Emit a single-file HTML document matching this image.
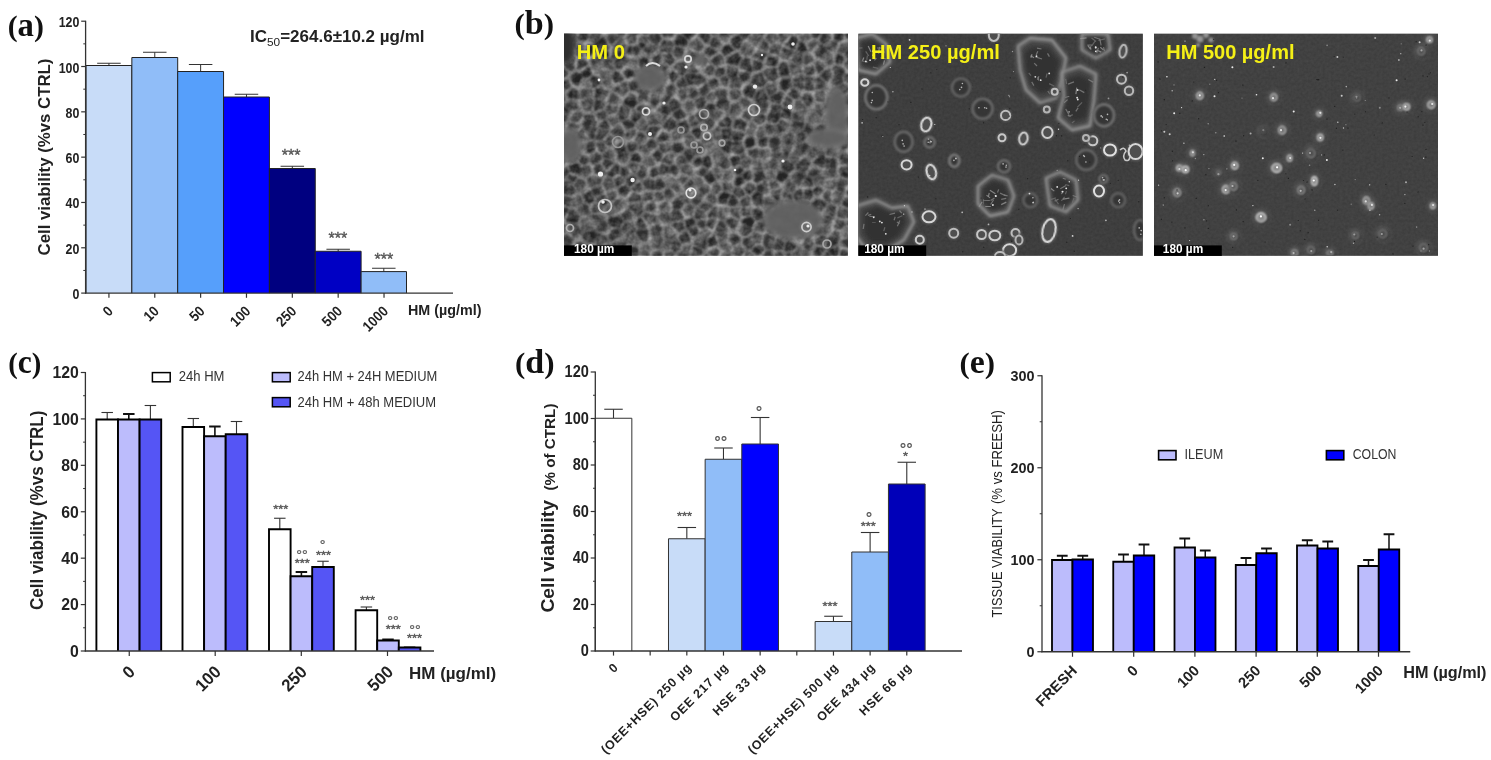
<!DOCTYPE html>
<html lang="en"><head><meta charset="utf-8"><title>Figure</title>
<style>
html,body{margin:0;padding:0;background:#fff;}
body{width:1491px;height:760px;overflow:hidden;}
svg{display:block;}
text{white-space:pre;}
</style></head><body>
<svg width="1491" height="760" viewBox="0 0 1491 760">
<rect width="1491" height="760" fill="#ffffff"/>
<text transform="translate(7.7 35.5) scale(0.9922 1)" font-family='"Liberation Serif", "DejaVu Serif", serif' font-weight="bold" fill="#111" font-size="30">(<tspan font-size="33">a</tspan>)</text>
<text transform="translate(514.4 33.6) scale(1.0330 1)" font-family='"Liberation Serif", "DejaVu Serif", serif' font-weight="bold" fill="#111" font-size="30">(<tspan font-size="33">b</tspan>)</text>
<text transform="translate(8.3 373) scale(0.9558 1)" font-family='"Liberation Serif", "DejaVu Serif", serif' font-weight="bold" fill="#111" font-size="30">(<tspan font-size="33">c</tspan>)</text>
<text transform="translate(515 373) scale(1.0304 1)" font-family='"Liberation Serif", "DejaVu Serif", serif' font-weight="bold" fill="#111" font-size="30">(<tspan font-size="33">d</tspan>)</text>
<text transform="translate(959.5 373) scale(1.0251 1)" font-family='"Liberation Serif", "DejaVu Serif", serif' font-weight="bold" fill="#111" font-size="30">(<tspan font-size="33">e</tspan>)</text>
<line x1="108.925" y1="65.5" x2="108.925" y2="63.25" stroke="#333" stroke-width="1"/>
<line x1="97.175" y1="63.25" x2="120.675" y2="63.25" stroke="#333" stroke-width="1"/>
<path d="M86.00 293.1V65.5H131.85V293.1" fill="#c8dcf8" stroke="#222" stroke-width="1" stroke-linejoin="miter"/>
<line x1="154.77499999999998" y1="57.5" x2="154.77499999999998" y2="52.25" stroke="#333" stroke-width="1"/>
<line x1="143.02499999999998" y1="52.25" x2="166.52499999999998" y2="52.25" stroke="#333" stroke-width="1"/>
<path d="M131.85 293.1V57.5H177.70V293.1" fill="#90bdf8" stroke="#222" stroke-width="1" stroke-linejoin="miter"/>
<line x1="200.625" y1="71.5" x2="200.625" y2="64.5" stroke="#333" stroke-width="1"/>
<line x1="188.875" y1="64.5" x2="212.375" y2="64.5" stroke="#333" stroke-width="1"/>
<path d="M177.70 293.1V71.5H223.55V293.1" fill="#569ffb" stroke="#222" stroke-width="1" stroke-linejoin="miter"/>
<line x1="246.475" y1="97" x2="246.475" y2="94.25" stroke="#333" stroke-width="1"/>
<line x1="234.725" y1="94.25" x2="258.225" y2="94.25" stroke="#333" stroke-width="1"/>
<path d="M223.55 293.1V97H269.40V293.1" fill="#0000ff" stroke="#222" stroke-width="1" stroke-linejoin="miter"/>
<line x1="292.325" y1="168.5" x2="292.325" y2="166.25" stroke="#333" stroke-width="1"/>
<line x1="280.575" y1="166.25" x2="304.075" y2="166.25" stroke="#333" stroke-width="1"/>
<path d="M269.40 293.1V168.5H315.25V293.1" fill="#000080" stroke="#222" stroke-width="1" stroke-linejoin="miter"/>
<line x1="338.175" y1="251.25" x2="338.175" y2="249.25" stroke="#333" stroke-width="1"/>
<line x1="326.425" y1="249.25" x2="349.925" y2="249.25" stroke="#333" stroke-width="1"/>
<path d="M315.25 293.1V251.25H361.10V293.1" fill="#0000c4" stroke="#222" stroke-width="1" stroke-linejoin="miter"/>
<line x1="383.8" y1="271.6" x2="383.8" y2="268.25" stroke="#333" stroke-width="1"/>
<line x1="372.05" y1="268.25" x2="395.55" y2="268.25" stroke="#333" stroke-width="1"/>
<path d="M361.10 293.1V271.6H406.50V293.1" fill="#90bdf8" stroke="#222" stroke-width="1" stroke-linejoin="miter"/>
<line x1="85.6" y1="20.7" x2="85.6" y2="293.70000000000005" stroke="#333" stroke-width="1.3"/>
<line x1="85.0" y1="293.1" x2="453" y2="293.1" stroke="#333" stroke-width="1.3"/>
<line x1="81.19999999999999" y1="293.1" x2="85.6" y2="293.1" stroke="#333" stroke-width="1.2"/>
<text transform="translate(79.39999999999999 299.1) scale(0.8990 1)" font-size="13.8" font-weight="bold" fill="#222" font-family='"Liberation Sans", Arial, sans-serif' text-anchor="end" >0</text>
<line x1="83.3" y1="270.44166666666666" x2="85.6" y2="270.44166666666666" stroke="#333" stroke-width="1"/>
<line x1="81.19999999999999" y1="247.78333333333336" x2="85.6" y2="247.78333333333336" stroke="#333" stroke-width="1.2"/>
<text transform="translate(79.39999999999999 253.78333333333336) scale(0.8990 1)" font-size="13.8" font-weight="bold" fill="#222" font-family='"Liberation Sans", Arial, sans-serif' text-anchor="end" >20</text>
<line x1="83.3" y1="225.125" x2="85.6" y2="225.125" stroke="#333" stroke-width="1"/>
<line x1="81.19999999999999" y1="202.4666666666667" x2="85.6" y2="202.4666666666667" stroke="#333" stroke-width="1.2"/>
<text transform="translate(79.39999999999999 208.4666666666667) scale(0.8990 1)" font-size="13.8" font-weight="bold" fill="#222" font-family='"Liberation Sans", Arial, sans-serif' text-anchor="end" >40</text>
<line x1="83.3" y1="179.80833333333334" x2="85.6" y2="179.80833333333334" stroke="#333" stroke-width="1"/>
<line x1="81.19999999999999" y1="157.15" x2="85.6" y2="157.15" stroke="#333" stroke-width="1.2"/>
<text transform="translate(79.39999999999999 163.15) scale(0.8990 1)" font-size="13.8" font-weight="bold" fill="#222" font-family='"Liberation Sans", Arial, sans-serif' text-anchor="end" >60</text>
<line x1="83.3" y1="134.49166666666667" x2="85.6" y2="134.49166666666667" stroke="#333" stroke-width="1"/>
<line x1="81.19999999999999" y1="111.83333333333334" x2="85.6" y2="111.83333333333334" stroke="#333" stroke-width="1.2"/>
<text transform="translate(79.39999999999999 117.83333333333334) scale(0.8990 1)" font-size="13.8" font-weight="bold" fill="#222" font-family='"Liberation Sans", Arial, sans-serif' text-anchor="end" >80</text>
<line x1="83.3" y1="89.17500000000001" x2="85.6" y2="89.17500000000001" stroke="#333" stroke-width="1"/>
<line x1="81.19999999999999" y1="66.51666666666665" x2="85.6" y2="66.51666666666665" stroke="#333" stroke-width="1.2"/>
<text transform="translate(79.39999999999999 72.51666666666665) scale(0.8990 1)" font-size="13.8" font-weight="bold" fill="#222" font-family='"Liberation Sans", Arial, sans-serif' text-anchor="end" >100</text>
<line x1="83.3" y1="43.85833333333332" x2="85.6" y2="43.85833333333332" stroke="#333" stroke-width="1"/>
<line x1="81.19999999999999" y1="21.19999999999999" x2="85.6" y2="21.19999999999999" stroke="#333" stroke-width="1.2"/>
<text transform="translate(79.39999999999999 27.19999999999999) scale(0.8990 1)" font-size="13.8" font-weight="bold" fill="#222" font-family='"Liberation Sans", Arial, sans-serif' text-anchor="end" >120</text>
<line x1="108.925" y1="293.1" x2="108.925" y2="297.8" stroke="#333" stroke-width="1.2"/>
<text transform="translate(113.925 312.1) rotate(-45) scale(0.8928 1)" font-size="14.6" font-weight="bold" fill="#222" font-family='"Liberation Sans", Arial, sans-serif' text-anchor="end" >0</text>
<line x1="154.775" y1="293.1" x2="154.775" y2="297.8" stroke="#333" stroke-width="1.2"/>
<text transform="translate(159.775 312.1) rotate(-45) scale(0.8928 1)" font-size="14.6" font-weight="bold" fill="#222" font-family='"Liberation Sans", Arial, sans-serif' text-anchor="end" >10</text>
<line x1="200.625" y1="293.1" x2="200.625" y2="297.8" stroke="#333" stroke-width="1.2"/>
<text transform="translate(205.625 312.1) rotate(-45) scale(0.8928 1)" font-size="14.6" font-weight="bold" fill="#222" font-family='"Liberation Sans", Arial, sans-serif' text-anchor="end" >50</text>
<line x1="246.475" y1="293.1" x2="246.475" y2="297.8" stroke="#333" stroke-width="1.2"/>
<text transform="translate(251.475 312.1) rotate(-45) scale(0.8928 1)" font-size="14.6" font-weight="bold" fill="#222" font-family='"Liberation Sans", Arial, sans-serif' text-anchor="end" >100</text>
<line x1="292.32500000000005" y1="293.1" x2="292.32500000000005" y2="297.8" stroke="#333" stroke-width="1.2"/>
<text transform="translate(297.32500000000005 312.1) rotate(-45) scale(0.8928 1)" font-size="14.6" font-weight="bold" fill="#222" font-family='"Liberation Sans", Arial, sans-serif' text-anchor="end" >250</text>
<line x1="338.175" y1="293.1" x2="338.175" y2="297.8" stroke="#333" stroke-width="1.2"/>
<text transform="translate(343.175 312.1) rotate(-45) scale(0.8928 1)" font-size="14.6" font-weight="bold" fill="#222" font-family='"Liberation Sans", Arial, sans-serif' text-anchor="end" >500</text>
<line x1="384.02500000000003" y1="293.1" x2="384.02500000000003" y2="297.8" stroke="#333" stroke-width="1.2"/>
<text transform="translate(389.02500000000003 312.1) rotate(-45) scale(0.8928 1)" font-size="14.6" font-weight="bold" fill="#222" font-family='"Liberation Sans", Arial, sans-serif' text-anchor="end" >1000</text>
<text transform="translate(408 315) scale(0.9550 1)" font-size="15" font-weight="bold" fill="#222" font-family='"Liberation Sans", Arial, sans-serif' >HM (µg/ml)</text>
<text transform="translate(50.4 255.5) rotate(-90) scale(1.0193 1)" font-size="16.5" font-weight="bold" fill="#222" font-family='"Liberation Sans", Arial, sans-serif' >Cell viability (%vs CTRL)</text>
<text x="250" y="42" font-size="16.5" font-weight="bold" fill="#222" font-family='"Liberation Sans", Arial, sans-serif' textLength="174.5" lengthAdjust="spacingAndGlyphs">IC<tspan font-size="11.5" font-weight="normal" dy="3.5">50</tspan><tspan dy="-3.5">=264.6±10.2 µg/ml</tspan></text>
<text transform="translate(291.1 161.46) scale(1.0070 1)" font-size="16" font-weight="normal" fill="#555" font-family='"Liberation Sans", Arial, sans-serif' text-anchor="middle" stroke="#555" stroke-width="0.35">***</text>
<text transform="translate(337.9 243.96) scale(1.0070 1)" font-size="16" font-weight="normal" fill="#555" font-family='"Liberation Sans", Arial, sans-serif' text-anchor="middle" stroke="#555" stroke-width="0.35">***</text>
<text transform="translate(383.8 264.56) scale(1.0070 1)" font-size="16" font-weight="normal" fill="#555" font-family='"Liberation Sans", Arial, sans-serif' text-anchor="middle" stroke="#555" stroke-width="0.35">***</text>
<line x1="107.2" y1="419.5" x2="107.2" y2="412.5" stroke="#333" stroke-width="1.1"/>
<line x1="101.45" y1="412.5" x2="112.95" y2="412.5" stroke="#333" stroke-width="1.1"/>
<path d="M96.40 651V419.5H118.00V651" fill="#ffffff" stroke="#000" stroke-width="1.9" stroke-linejoin="miter"/>
<line x1="128.8" y1="419.5" x2="128.8" y2="414" stroke="#111" stroke-width="1.6"/>
<line x1="123.05000000000001" y1="414" x2="134.55" y2="414" stroke="#111" stroke-width="2.0"/>
<path d="M118.00 651V419.5H139.60V651" fill="#bcbcfc" stroke="#000" stroke-width="1.9" stroke-linejoin="miter"/>
<line x1="150.40000000000003" y1="419.5" x2="150.40000000000003" y2="405.5" stroke="#333" stroke-width="1.1"/>
<line x1="144.65000000000003" y1="405.5" x2="156.15000000000003" y2="405.5" stroke="#333" stroke-width="1.1"/>
<path d="M139.60 651V419.5H161.20V651" fill="#5555f5" stroke="#000" stroke-width="1.9" stroke-linejoin="miter"/>
<line x1="193.3" y1="427" x2="193.3" y2="418.5" stroke="#333" stroke-width="1.1"/>
<line x1="187.55" y1="418.5" x2="199.05" y2="418.5" stroke="#333" stroke-width="1.1"/>
<path d="M182.50 651V427H204.10V651" fill="#ffffff" stroke="#000" stroke-width="1.9" stroke-linejoin="miter"/>
<line x1="214.9" y1="436.25" x2="214.9" y2="426.5" stroke="#111" stroke-width="1.6"/>
<line x1="209.15" y1="426.5" x2="220.65" y2="426.5" stroke="#111" stroke-width="2.0"/>
<path d="M204.10 651V436.25H225.70V651" fill="#bcbcfc" stroke="#000" stroke-width="1.9" stroke-linejoin="miter"/>
<line x1="236.5" y1="434.25" x2="236.5" y2="421.5" stroke="#333" stroke-width="1.1"/>
<line x1="230.75" y1="421.5" x2="242.25" y2="421.5" stroke="#333" stroke-width="1.1"/>
<path d="M225.70 651V434.25H247.30V651" fill="#5555f5" stroke="#000" stroke-width="1.9" stroke-linejoin="miter"/>
<line x1="279.8" y1="529.25" x2="279.8" y2="518.25" stroke="#333" stroke-width="1.1"/>
<line x1="274.05" y1="518.25" x2="285.55" y2="518.25" stroke="#333" stroke-width="1.1"/>
<path d="M269.00 651V529.25H290.60V651" fill="#ffffff" stroke="#000" stroke-width="1.9" stroke-linejoin="miter"/>
<line x1="301.40000000000003" y1="576.25" x2="301.40000000000003" y2="572" stroke="#111" stroke-width="1.6"/>
<line x1="295.65000000000003" y1="572" x2="307.15000000000003" y2="572" stroke="#111" stroke-width="2.0"/>
<path d="M290.60 651V576.25H312.20V651" fill="#bcbcfc" stroke="#000" stroke-width="1.9" stroke-linejoin="miter"/>
<line x1="323.0" y1="567" x2="323.0" y2="561.25" stroke="#333" stroke-width="1.1"/>
<line x1="317.25" y1="561.25" x2="328.75" y2="561.25" stroke="#333" stroke-width="1.1"/>
<path d="M312.20 651V567H333.80V651" fill="#5555f5" stroke="#000" stroke-width="1.9" stroke-linejoin="miter"/>
<line x1="366.40000000000003" y1="610.25" x2="366.40000000000003" y2="607" stroke="#333" stroke-width="1.1"/>
<line x1="360.65000000000003" y1="607" x2="372.15000000000003" y2="607" stroke="#333" stroke-width="1.1"/>
<path d="M355.60 651V610.25H377.20V651" fill="#ffffff" stroke="#000" stroke-width="1.9" stroke-linejoin="miter"/>
<line x1="388.00000000000006" y1="640.5" x2="388.00000000000006" y2="639.5" stroke="#111" stroke-width="1.6"/>
<line x1="382.25000000000006" y1="639.5" x2="393.75000000000006" y2="639.5" stroke="#111" stroke-width="2.0"/>
<path d="M377.20 651V640.5H398.80V651" fill="#bcbcfc" stroke="#000" stroke-width="1.9" stroke-linejoin="miter"/>
<line x1="409.6" y1="647.5" x2="409.6" y2="647" stroke="#333" stroke-width="1.1"/>
<line x1="403.85" y1="647" x2="415.35" y2="647" stroke="#333" stroke-width="1.1"/>
<path d="M398.80 651V647.5H420.40V651" fill="#5555f5" stroke="#000" stroke-width="1.9" stroke-linejoin="miter"/>
<line x1="85.4" y1="372.0" x2="85.4" y2="651.6" stroke="#333" stroke-width="1.3"/>
<line x1="84.80000000000001" y1="651" x2="434" y2="651" stroke="#333" stroke-width="1.3"/>
<line x1="80.80000000000001" y1="651.0" x2="85.4" y2="651.0" stroke="#333" stroke-width="1.2"/>
<text transform="translate(78.80000000000001 656.8) scale(0.9700 1)" font-size="16.3" font-weight="bold" fill="#222" font-family='"Liberation Sans", Arial, sans-serif' text-anchor="end" >0</text>
<line x1="83.10000000000001" y1="627.7916666666666" x2="85.4" y2="627.7916666666666" stroke="#333" stroke-width="1"/>
<line x1="80.80000000000001" y1="604.5833333333334" x2="85.4" y2="604.5833333333334" stroke="#333" stroke-width="1.2"/>
<text transform="translate(78.80000000000001 610.3833333333333) scale(0.9700 1)" font-size="16.3" font-weight="bold" fill="#222" font-family='"Liberation Sans", Arial, sans-serif' text-anchor="end" >20</text>
<line x1="83.10000000000001" y1="581.375" x2="85.4" y2="581.375" stroke="#333" stroke-width="1"/>
<line x1="80.80000000000001" y1="558.1666666666666" x2="85.4" y2="558.1666666666666" stroke="#333" stroke-width="1.2"/>
<text transform="translate(78.80000000000001 563.9666666666666) scale(0.9700 1)" font-size="16.3" font-weight="bold" fill="#222" font-family='"Liberation Sans", Arial, sans-serif' text-anchor="end" >40</text>
<line x1="83.10000000000001" y1="534.9583333333334" x2="85.4" y2="534.9583333333334" stroke="#333" stroke-width="1"/>
<line x1="80.80000000000001" y1="511.75" x2="85.4" y2="511.75" stroke="#333" stroke-width="1.2"/>
<text transform="translate(78.80000000000001 517.55) scale(0.9700 1)" font-size="16.3" font-weight="bold" fill="#222" font-family='"Liberation Sans", Arial, sans-serif' text-anchor="end" >60</text>
<line x1="83.10000000000001" y1="488.54166666666663" x2="85.4" y2="488.54166666666663" stroke="#333" stroke-width="1"/>
<line x1="80.80000000000001" y1="465.33333333333337" x2="85.4" y2="465.33333333333337" stroke="#333" stroke-width="1.2"/>
<text transform="translate(78.80000000000001 471.1333333333334) scale(0.9700 1)" font-size="16.3" font-weight="bold" fill="#222" font-family='"Liberation Sans", Arial, sans-serif' text-anchor="end" >80</text>
<line x1="83.10000000000001" y1="442.125" x2="85.4" y2="442.125" stroke="#333" stroke-width="1"/>
<line x1="80.80000000000001" y1="418.91666666666663" x2="85.4" y2="418.91666666666663" stroke="#333" stroke-width="1.2"/>
<text transform="translate(78.80000000000001 424.71666666666664) scale(0.9700 1)" font-size="16.3" font-weight="bold" fill="#222" font-family='"Liberation Sans", Arial, sans-serif' text-anchor="end" >100</text>
<line x1="83.10000000000001" y1="395.70833333333337" x2="85.4" y2="395.70833333333337" stroke="#333" stroke-width="1"/>
<line x1="80.80000000000001" y1="372.5" x2="85.4" y2="372.5" stroke="#333" stroke-width="1.2"/>
<text transform="translate(78.80000000000001 378.3) scale(0.9700 1)" font-size="16.3" font-weight="bold" fill="#222" font-family='"Liberation Sans", Arial, sans-serif' text-anchor="end" >120</text>
<line x1="129.25" y1="651" x2="129.25" y2="656" stroke="#333" stroke-width="1.2"/>
<text transform="translate(136.05 672.8) rotate(-45) scale(0.9666 1)" font-size="17.3" font-weight="bold" fill="#222" font-family='"Liberation Sans", Arial, sans-serif' text-anchor="end" >0</text>
<line x1="215.2" y1="651" x2="215.2" y2="656" stroke="#333" stroke-width="1.2"/>
<text transform="translate(222.0 672.8) rotate(-45) scale(0.9666 1)" font-size="17.3" font-weight="bold" fill="#222" font-family='"Liberation Sans", Arial, sans-serif' text-anchor="end" >100</text>
<line x1="301.3" y1="651" x2="301.3" y2="656" stroke="#333" stroke-width="1.2"/>
<text transform="translate(308.1 672.8) rotate(-45) scale(0.9666 1)" font-size="17.3" font-weight="bold" fill="#222" font-family='"Liberation Sans", Arial, sans-serif' text-anchor="end" >250</text>
<line x1="387.5" y1="651" x2="387.5" y2="656" stroke="#333" stroke-width="1.2"/>
<text transform="translate(394.3 672.8) rotate(-45) scale(0.9666 1)" font-size="17.3" font-weight="bold" fill="#222" font-family='"Liberation Sans", Arial, sans-serif' text-anchor="end" >500</text>
<text transform="translate(409 678.9) scale(1.0244 1)" font-size="16.6" font-weight="bold" fill="#222" font-family='"Liberation Sans", Arial, sans-serif' >HM (µg/ml)</text>
<text transform="translate(43.4 610) rotate(-90) scale(0.9718 1)" font-size="17.5" font-weight="bold" fill="#222" font-family='"Liberation Sans", Arial, sans-serif' >Cell viability (%vs CTRL)</text>
<rect x="152.4" y="372.6" width="17.8" height="9.2" fill="#ffffff" stroke="#000" stroke-width="1.5"/>
<text transform="translate(178.75 381.4) scale(0.9333 1)" font-size="14" font-weight="normal" fill="#333" font-family='"Liberation Sans", Arial, sans-serif' >24h HM</text>
<rect x="272.4" y="372.6" width="17.8" height="9.2" fill="#bcbcfc" stroke="#000" stroke-width="1.5"/>
<text transform="translate(297.5 381.4) scale(0.9252 1)" font-size="14" font-weight="normal" fill="#333" font-family='"Liberation Sans", Arial, sans-serif' >24h HM + 24H MEDIUM</text>
<rect x="272.4" y="397.6" width="17.8" height="9.2" fill="#5555f5" stroke="#000" stroke-width="1.5"/>
<text transform="translate(297.5 406.6) scale(0.9312 1)" font-size="14" font-weight="normal" fill="#333" font-family='"Liberation Sans", Arial, sans-serif' >24h HM + 48h MEDIUM</text>
<text transform="translate(280.75 513.385) scale(1.1681 1)" font-size="11" font-weight="normal" fill="#555" font-family='"Liberation Sans", Arial, sans-serif' text-anchor="middle" stroke="#555" stroke-width="0.35">***</text>
<text transform="translate(296.26 559.65)" font-size="14.4" font-weight="normal" fill="#555" font-family='"Liberation Sans", Arial, sans-serif' letter-spacing="0.04" stroke="#555" stroke-width="0.25">°°</text>
<text transform="translate(302.2 567.135) scale(1.1681 1)" font-size="11" font-weight="normal" fill="#555" font-family='"Liberation Sans", Arial, sans-serif' text-anchor="middle" stroke="#555" stroke-width="0.35">***</text>
<text transform="translate(319.66 550.15)" font-size="14.4" font-weight="normal" fill="#555" font-family='"Liberation Sans", Arial, sans-serif' letter-spacing="0.04" stroke="#555" stroke-width="0.25">°</text>
<text transform="translate(323.5 559.135) scale(1.1681 1)" font-size="11" font-weight="normal" fill="#555" font-family='"Liberation Sans", Arial, sans-serif' text-anchor="middle" stroke="#555" stroke-width="0.35">***</text>
<text transform="translate(367.5 604.135) scale(1.1681 1)" font-size="11" font-weight="normal" fill="#555" font-family='"Liberation Sans", Arial, sans-serif' text-anchor="middle" stroke="#555" stroke-width="0.35">***</text>
<text transform="translate(387.26 625.65)" font-size="14.4" font-weight="normal" fill="#555" font-family='"Liberation Sans", Arial, sans-serif' letter-spacing="0.04" stroke="#555" stroke-width="0.25">°°</text>
<text transform="translate(393.25 632.885) scale(1.1681 1)" font-size="11" font-weight="normal" fill="#555" font-family='"Liberation Sans", Arial, sans-serif' text-anchor="middle" stroke="#555" stroke-width="0.35">***</text>
<text transform="translate(409.26 634.9)" font-size="14.4" font-weight="normal" fill="#555" font-family='"Liberation Sans", Arial, sans-serif' letter-spacing="0.04" stroke="#555" stroke-width="0.25">°°</text>
<text transform="translate(414.5 642.135) scale(1.1681 1)" font-size="11" font-weight="normal" fill="#555" font-family='"Liberation Sans", Arial, sans-serif' text-anchor="middle" stroke="#555" stroke-width="0.35">***</text>
<line x1="613.5" y1="418.25" x2="613.5" y2="409.25" stroke="#333" stroke-width="1.1"/>
<line x1="604.25" y1="409.25" x2="622.75" y2="409.25" stroke="#333" stroke-width="1.1"/>
<path d="M595.17 651V418.25H631.83V651" fill="#ffffff" stroke="#333" stroke-width="1" stroke-linejoin="miter"/>
<line x1="686.8199999999999" y1="538.75" x2="686.8199999999999" y2="527.5" stroke="#333" stroke-width="1.1"/>
<line x1="677.5699999999999" y1="527.5" x2="696.0699999999999" y2="527.5" stroke="#333" stroke-width="1.1"/>
<path d="M668.49 651V538.75H705.15V651" fill="#c8dcf8" stroke="#333" stroke-width="1" stroke-linejoin="miter"/>
<line x1="723.48" y1="459.25" x2="723.48" y2="448" stroke="#333" stroke-width="1.1"/>
<line x1="714.23" y1="448" x2="732.73" y2="448" stroke="#333" stroke-width="1.1"/>
<path d="M705.15 651V459.25H741.81V651" fill="#90bdf8" stroke="#333" stroke-width="1" stroke-linejoin="miter"/>
<line x1="760.14" y1="444" x2="760.14" y2="417.5" stroke="#333" stroke-width="1.1"/>
<line x1="750.89" y1="417.5" x2="769.39" y2="417.5" stroke="#333" stroke-width="1.1"/>
<path d="M741.81 651V444H778.47V651" fill="#0000ff" stroke="#333" stroke-width="1" stroke-linejoin="miter"/>
<line x1="833.46" y1="621.5" x2="833.46" y2="616.25" stroke="#333" stroke-width="1.1"/>
<line x1="824.21" y1="616.25" x2="842.71" y2="616.25" stroke="#333" stroke-width="1.1"/>
<path d="M815.13 651V621.5H851.79V651" fill="#c8dcf8" stroke="#333" stroke-width="1" stroke-linejoin="miter"/>
<line x1="870.12" y1="552" x2="870.12" y2="532.5" stroke="#333" stroke-width="1.1"/>
<line x1="860.87" y1="532.5" x2="879.37" y2="532.5" stroke="#333" stroke-width="1.1"/>
<path d="M851.79 651V552H888.45V651" fill="#90bdf8" stroke="#333" stroke-width="1" stroke-linejoin="miter"/>
<line x1="906.78" y1="484" x2="906.78" y2="462.25" stroke="#333" stroke-width="1.1"/>
<line x1="897.53" y1="462.25" x2="916.03" y2="462.25" stroke="#333" stroke-width="1.1"/>
<path d="M888.45 651V484H925.11V651" fill="#0000b9" stroke="#333" stroke-width="1" stroke-linejoin="miter"/>
<line x1="595.3" y1="371.5" x2="595.3" y2="651.6" stroke="#333" stroke-width="1.3"/>
<line x1="594.6999999999999" y1="651" x2="962" y2="651" stroke="#333" stroke-width="1.3"/>
<line x1="590.6999999999999" y1="651.0" x2="595.3" y2="651.0" stroke="#333" stroke-width="1.2"/>
<text transform="translate(588.9 656.3) scale(0.9046 1)" font-size="16.1" font-weight="bold" fill="#222" font-family='"Liberation Sans", Arial, sans-serif' text-anchor="end" >0</text>
<line x1="593.0" y1="627.75" x2="595.3" y2="627.75" stroke="#333" stroke-width="1"/>
<line x1="590.6999999999999" y1="604.5" x2="595.3" y2="604.5" stroke="#333" stroke-width="1.2"/>
<text transform="translate(588.9 609.8) scale(0.9046 1)" font-size="16.1" font-weight="bold" fill="#222" font-family='"Liberation Sans", Arial, sans-serif' text-anchor="end" >20</text>
<line x1="593.0" y1="581.25" x2="595.3" y2="581.25" stroke="#333" stroke-width="1"/>
<line x1="590.6999999999999" y1="558.0" x2="595.3" y2="558.0" stroke="#333" stroke-width="1.2"/>
<text transform="translate(588.9 563.3) scale(0.9046 1)" font-size="16.1" font-weight="bold" fill="#222" font-family='"Liberation Sans", Arial, sans-serif' text-anchor="end" >40</text>
<line x1="593.0" y1="534.75" x2="595.3" y2="534.75" stroke="#333" stroke-width="1"/>
<line x1="590.6999999999999" y1="511.5" x2="595.3" y2="511.5" stroke="#333" stroke-width="1.2"/>
<text transform="translate(588.9 516.8) scale(0.9046 1)" font-size="16.1" font-weight="bold" fill="#222" font-family='"Liberation Sans", Arial, sans-serif' text-anchor="end" >60</text>
<line x1="593.0" y1="488.25" x2="595.3" y2="488.25" stroke="#333" stroke-width="1"/>
<line x1="590.6999999999999" y1="465.0" x2="595.3" y2="465.0" stroke="#333" stroke-width="1.2"/>
<text transform="translate(588.9 470.3) scale(0.9046 1)" font-size="16.1" font-weight="bold" fill="#222" font-family='"Liberation Sans", Arial, sans-serif' text-anchor="end" >80</text>
<line x1="593.0" y1="441.75" x2="595.3" y2="441.75" stroke="#333" stroke-width="1"/>
<line x1="590.6999999999999" y1="418.5" x2="595.3" y2="418.5" stroke="#333" stroke-width="1.2"/>
<text transform="translate(588.9 423.8) scale(0.9046 1)" font-size="16.1" font-weight="bold" fill="#222" font-family='"Liberation Sans", Arial, sans-serif' text-anchor="end" >100</text>
<line x1="593.0" y1="395.25" x2="595.3" y2="395.25" stroke="#333" stroke-width="1"/>
<line x1="590.6999999999999" y1="372.0" x2="595.3" y2="372.0" stroke="#333" stroke-width="1.2"/>
<text transform="translate(588.9 377.3) scale(0.9046 1)" font-size="16.1" font-weight="bold" fill="#222" font-family='"Liberation Sans", Arial, sans-serif' text-anchor="end" >120</text>
<line x1="613.5" y1="651" x2="613.5" y2="655.6" stroke="#333" stroke-width="1.2"/>
<text transform="translate(619.225 668.075) rotate(-45)" font-size="12.5" font-weight="bold" fill="#222" font-family='"Liberation Sans", Arial, sans-serif' text-anchor="end" letter-spacing="0.75" >0</text>
<line x1="650.16" y1="651" x2="650.16" y2="655.6" stroke="#333" stroke-width="1.2"/>
<line x1="686.8199999999999" y1="651" x2="686.8199999999999" y2="655.6" stroke="#333" stroke-width="1.2"/>
<text transform="translate(692.545 668.075) rotate(-45)" font-size="12.5" font-weight="bold" fill="#222" font-family='"Liberation Sans", Arial, sans-serif' text-anchor="end" letter-spacing="0.75" >(OEE+HSE) 250 µg</text>
<line x1="723.48" y1="651" x2="723.48" y2="655.6" stroke="#333" stroke-width="1.2"/>
<text transform="translate(729.205 668.075) rotate(-45)" font-size="12.5" font-weight="bold" fill="#222" font-family='"Liberation Sans", Arial, sans-serif' text-anchor="end" letter-spacing="0.75" >OEE 217 µg</text>
<line x1="760.14" y1="651" x2="760.14" y2="655.6" stroke="#333" stroke-width="1.2"/>
<text transform="translate(765.865 668.075) rotate(-45)" font-size="12.5" font-weight="bold" fill="#222" font-family='"Liberation Sans", Arial, sans-serif' text-anchor="end" letter-spacing="0.75" >HSE 33 µg</text>
<line x1="796.8" y1="651" x2="796.8" y2="655.6" stroke="#333" stroke-width="1.2"/>
<line x1="833.46" y1="651" x2="833.46" y2="655.6" stroke="#333" stroke-width="1.2"/>
<text transform="translate(839.1850000000001 668.075) rotate(-45)" font-size="12.5" font-weight="bold" fill="#222" font-family='"Liberation Sans", Arial, sans-serif' text-anchor="end" letter-spacing="0.75" >(OEE+HSE) 500 µg</text>
<line x1="870.12" y1="651" x2="870.12" y2="655.6" stroke="#333" stroke-width="1.2"/>
<text transform="translate(875.845 668.075) rotate(-45)" font-size="12.5" font-weight="bold" fill="#222" font-family='"Liberation Sans", Arial, sans-serif' text-anchor="end" letter-spacing="0.75" >OEE 434 µg</text>
<line x1="906.78" y1="651" x2="906.78" y2="655.6" stroke="#333" stroke-width="1.2"/>
<text transform="translate(912.505 668.075) rotate(-45)" font-size="12.5" font-weight="bold" fill="#222" font-family='"Liberation Sans", Arial, sans-serif' text-anchor="end" letter-spacing="0.75" >HSE 66 µg</text>
<text transform="translate(554.3 612.6) rotate(-90) scale(1.0264 1)" font-size="18.8" font-weight="bold" fill="#222" font-family='"Liberation Sans", Arial, sans-serif' >Cell viability</text>
<text transform="translate(554.6 490.5) rotate(-90) scale(1.0710 1)" font-size="14.2" font-weight="bold" fill="#222" font-family='"Liberation Sans", Arial, sans-serif' >(% of CTRL)</text>
<text transform="translate(684.5 520.135) scale(1.1681 1)" font-size="11" font-weight="normal" fill="#555" font-family='"Liberation Sans", Arial, sans-serif' text-anchor="middle" stroke="#555" stroke-width="0.35">***</text>
<text transform="translate(714.32 448.0)" font-size="16.36" font-weight="normal" fill="#555" font-family='"Liberation Sans", Arial, sans-serif' letter-spacing="-0.14" stroke="#555" stroke-width="0.25">°°</text>
<text transform="translate(755.77 418.25)" font-size="16.36" font-weight="normal" fill="#555" font-family='"Liberation Sans", Arial, sans-serif' letter-spacing="-0.74" stroke="#555" stroke-width="0.25">°</text>
<text transform="translate(899.82 455.25)" font-size="16.36" font-weight="normal" fill="#555" font-family='"Liberation Sans", Arial, sans-serif' letter-spacing="-0.14" stroke="#555" stroke-width="0.25">°°</text>
<text transform="translate(905.5 460.135) scale(1.1681 1)" font-size="11" font-weight="normal" fill="#555" font-family='"Liberation Sans", Arial, sans-serif' text-anchor="middle" stroke="#555" stroke-width="0.35">*</text>
<text transform="translate(830 610.135) scale(1.1681 1)" font-size="11" font-weight="normal" fill="#555" font-family='"Liberation Sans", Arial, sans-serif' text-anchor="middle" stroke="#555" stroke-width="0.35">***</text>
<text transform="translate(865.77 524.25)" font-size="16.36" font-weight="normal" fill="#555" font-family='"Liberation Sans", Arial, sans-serif' letter-spacing="-0.74" stroke="#555" stroke-width="0.25">°</text>
<text transform="translate(868.25 529.785) scale(1.1681 1)" font-size="11" font-weight="normal" fill="#555" font-family='"Liberation Sans", Arial, sans-serif' text-anchor="middle" stroke="#555" stroke-width="0.35">***</text>
<line x1="1062.25" y1="560" x2="1062.25" y2="555.75" stroke="#111" stroke-width="1.5"/>
<line x1="1056.85" y1="555.75" x2="1067.65" y2="555.75" stroke="#111" stroke-width="2.0"/>
<path d="M1052.00 651.75V560H1072.50V651.75" fill="#bcbcfc" stroke="#000" stroke-width="1.8" stroke-linejoin="miter"/>
<line x1="1082.75" y1="559.5" x2="1082.75" y2="555.75" stroke="#111" stroke-width="1.5"/>
<line x1="1077.35" y1="555.75" x2="1088.15" y2="555.75" stroke="#111" stroke-width="2.0"/>
<path d="M1072.50 651.75V559.5H1093.00V651.75" fill="#0000ff" stroke="#000" stroke-width="1.8" stroke-linejoin="miter"/>
<line x1="1123.5" y1="561.75" x2="1123.5" y2="554.5" stroke="#111" stroke-width="1.5"/>
<line x1="1118.1" y1="554.5" x2="1128.9" y2="554.5" stroke="#111" stroke-width="2.0"/>
<path d="M1113.25 651.75V561.75H1133.75V651.75" fill="#bcbcfc" stroke="#000" stroke-width="1.8" stroke-linejoin="miter"/>
<line x1="1144.0" y1="555.5" x2="1144.0" y2="544.5" stroke="#111" stroke-width="1.5"/>
<line x1="1138.6" y1="544.5" x2="1149.4" y2="544.5" stroke="#111" stroke-width="2.0"/>
<path d="M1133.75 651.75V555.5H1154.25V651.75" fill="#0000ff" stroke="#000" stroke-width="1.8" stroke-linejoin="miter"/>
<line x1="1184.75" y1="547.5" x2="1184.75" y2="538.5" stroke="#111" stroke-width="1.5"/>
<line x1="1179.35" y1="538.5" x2="1190.15" y2="538.5" stroke="#111" stroke-width="2.0"/>
<path d="M1174.50 651.75V547.5H1195.00V651.75" fill="#bcbcfc" stroke="#000" stroke-width="1.8" stroke-linejoin="miter"/>
<line x1="1205.25" y1="557.5" x2="1205.25" y2="550.5" stroke="#111" stroke-width="1.5"/>
<line x1="1199.85" y1="550.5" x2="1210.65" y2="550.5" stroke="#111" stroke-width="2.0"/>
<path d="M1195.00 651.75V557.5H1215.50V651.75" fill="#0000ff" stroke="#000" stroke-width="1.8" stroke-linejoin="miter"/>
<line x1="1246.0" y1="565" x2="1246.0" y2="558" stroke="#111" stroke-width="1.5"/>
<line x1="1240.6" y1="558" x2="1251.4" y2="558" stroke="#111" stroke-width="2.0"/>
<path d="M1235.75 651.75V565H1256.25V651.75" fill="#bcbcfc" stroke="#000" stroke-width="1.8" stroke-linejoin="miter"/>
<line x1="1266.5" y1="553.25" x2="1266.5" y2="548.5" stroke="#111" stroke-width="1.5"/>
<line x1="1261.1" y1="548.5" x2="1271.9" y2="548.5" stroke="#111" stroke-width="2.0"/>
<path d="M1256.25 651.75V553.25H1276.75V651.75" fill="#0000ff" stroke="#000" stroke-width="1.8" stroke-linejoin="miter"/>
<line x1="1307.25" y1="545.5" x2="1307.25" y2="540.25" stroke="#111" stroke-width="1.5"/>
<line x1="1301.85" y1="540.25" x2="1312.65" y2="540.25" stroke="#111" stroke-width="2.0"/>
<path d="M1297.00 651.75V545.5H1317.50V651.75" fill="#bcbcfc" stroke="#000" stroke-width="1.8" stroke-linejoin="miter"/>
<line x1="1327.75" y1="548.5" x2="1327.75" y2="541.5" stroke="#111" stroke-width="1.5"/>
<line x1="1322.35" y1="541.5" x2="1333.15" y2="541.5" stroke="#111" stroke-width="2.0"/>
<path d="M1317.50 651.75V548.5H1338.00V651.75" fill="#0000ff" stroke="#000" stroke-width="1.8" stroke-linejoin="miter"/>
<line x1="1368.5" y1="566" x2="1368.5" y2="560" stroke="#111" stroke-width="1.5"/>
<line x1="1363.1" y1="560" x2="1373.9" y2="560" stroke="#111" stroke-width="2.0"/>
<path d="M1358.25 651.75V566H1378.75V651.75" fill="#bcbcfc" stroke="#000" stroke-width="1.8" stroke-linejoin="miter"/>
<line x1="1389.0" y1="549.5" x2="1389.0" y2="534.25" stroke="#111" stroke-width="1.5"/>
<line x1="1383.6" y1="534.25" x2="1394.4" y2="534.25" stroke="#111" stroke-width="2.0"/>
<path d="M1378.75 651.75V549.5H1399.25V651.75" fill="#0000ff" stroke="#000" stroke-width="1.8" stroke-linejoin="miter"/>
<line x1="1042" y1="375.25" x2="1042" y2="652.35" stroke="#333" stroke-width="1.3"/>
<line x1="1041.4" y1="651.75" x2="1410.25" y2="651.75" stroke="#333" stroke-width="1.3"/>
<line x1="1037.4" y1="651.75" x2="1042" y2="651.75" stroke="#333" stroke-width="1.2"/>
<text transform="translate(1034.4 656.85) scale(0.9600 1)" font-size="15" font-weight="bold" fill="#222" font-family='"Liberation Sans", Arial, sans-serif' text-anchor="end" >0</text>
<line x1="1039.7" y1="605.75" x2="1042" y2="605.75" stroke="#333" stroke-width="1"/>
<line x1="1037.4" y1="559.75" x2="1042" y2="559.75" stroke="#333" stroke-width="1.2"/>
<text transform="translate(1034.4 564.85) scale(0.9600 1)" font-size="15" font-weight="bold" fill="#222" font-family='"Liberation Sans", Arial, sans-serif' text-anchor="end" >100</text>
<line x1="1039.7" y1="513.75" x2="1042" y2="513.75" stroke="#333" stroke-width="1"/>
<line x1="1037.4" y1="467.75" x2="1042" y2="467.75" stroke="#333" stroke-width="1.2"/>
<text transform="translate(1034.4 472.85) scale(0.9600 1)" font-size="15" font-weight="bold" fill="#222" font-family='"Liberation Sans", Arial, sans-serif' text-anchor="end" >200</text>
<line x1="1039.7" y1="421.75" x2="1042" y2="421.75" stroke="#333" stroke-width="1"/>
<line x1="1037.4" y1="375.75" x2="1042" y2="375.75" stroke="#333" stroke-width="1.2"/>
<text transform="translate(1034.4 380.85) scale(0.9600 1)" font-size="15" font-weight="bold" fill="#222" font-family='"Liberation Sans", Arial, sans-serif' text-anchor="end" >300</text>
<line x1="1072.5" y1="651.75" x2="1072.5" y2="656.75" stroke="#333" stroke-width="1.2"/>
<text transform="translate(1077.9 671.55) rotate(-45) scale(1.0167 1)" font-size="14.8" font-weight="bold" fill="#222" font-family='"Liberation Sans", Arial, sans-serif' text-anchor="end" >FRESH</text>
<line x1="1133.7" y1="651.75" x2="1133.7" y2="656.75" stroke="#333" stroke-width="1.2"/>
<text transform="translate(1139.1000000000001 671.55) rotate(-45) scale(0.9840 1)" font-size="14.8" font-weight="bold" fill="#222" font-family='"Liberation Sans", Arial, sans-serif' text-anchor="end" >0</text>
<line x1="1194.9" y1="651.75" x2="1194.9" y2="656.75" stroke="#333" stroke-width="1.2"/>
<text transform="translate(1200.3000000000002 671.55) rotate(-45) scale(0.9840 1)" font-size="14.8" font-weight="bold" fill="#222" font-family='"Liberation Sans", Arial, sans-serif' text-anchor="end" >100</text>
<line x1="1256.1" y1="651.75" x2="1256.1" y2="656.75" stroke="#333" stroke-width="1.2"/>
<text transform="translate(1261.5 671.55) rotate(-45) scale(0.9840 1)" font-size="14.8" font-weight="bold" fill="#222" font-family='"Liberation Sans", Arial, sans-serif' text-anchor="end" >250</text>
<line x1="1317.3" y1="651.75" x2="1317.3" y2="656.75" stroke="#333" stroke-width="1.2"/>
<text transform="translate(1322.7 671.55) rotate(-45) scale(0.9840 1)" font-size="14.8" font-weight="bold" fill="#222" font-family='"Liberation Sans", Arial, sans-serif' text-anchor="end" >500</text>
<line x1="1378.5" y1="651.75" x2="1378.5" y2="656.75" stroke="#333" stroke-width="1.2"/>
<text transform="translate(1383.9 671.55) rotate(-45) scale(0.9840 1)" font-size="14.8" font-weight="bold" fill="#222" font-family='"Liberation Sans", Arial, sans-serif' text-anchor="end" >1000</text>
<text transform="translate(1403.25 678.2) scale(0.9833 1)" font-size="16.5" font-weight="bold" fill="#222" font-family='"Liberation Sans", Arial, sans-serif' >HM (µg/ml)</text>
<text transform="translate(1002.3 617.4) rotate(-90) scale(0.9229 1)" font-size="13.8" font-weight="normal" fill="#222" font-family='"Liberation Sans", Arial, sans-serif' >TISSUE VIABILITY</text>
<text transform="translate(1002.3 504) rotate(-90) scale(0.9504 1)" font-size="13.8" font-weight="normal" fill="#222" font-family='"Liberation Sans", Arial, sans-serif' >(% vs FREESH)</text>
<rect x="1158.6" y="450.6" width="17.4" height="9.2" fill="#bcbcfc" stroke="#000" stroke-width="1.6"/>
<text transform="translate(1184.5 459.2) scale(0.9056 1)" font-size="14" font-weight="normal" fill="#333" font-family='"Liberation Sans", Arial, sans-serif' >ILEUM</text>
<rect x="1326.4" y="450.6" width="17.4" height="9.2" fill="#0000ff" stroke="#000" stroke-width="1.6"/>
<text transform="translate(1352.75 459.2) scale(0.8788 1)" font-size="14" font-weight="normal" fill="#333" font-family='"Liberation Sans", Arial, sans-serif' >COLON</text>
<defs>
<filter id="tex1" filterUnits="userSpaceOnUse" x="560" y="30" width="292" height="230" color-interpolation-filters="sRGB">
  <feTurbulence type="turbulence" baseFrequency="0.06 0.06" numOctaves="2" seed="7" result="n"/>
  <feColorMatrix in="n" type="matrix" values="-0.95 0 0 0 0.56  -0.95 0 0 0 0.56  -0.95 0 0 0 0.56  0 0 0 0 1"/>
  <feGaussianBlur stdDeviation="0.55"/>
</filter>
<filter id="tex2" filterUnits="userSpaceOnUse" x="850" y="30" width="600" height="230" color-interpolation-filters="sRGB">
  <feTurbulence type="fractalNoise" baseFrequency="0.35" numOctaves="2" seed="11" result="n"/>
  <feColorMatrix in="n" type="matrix" values="0.10 0 0 0 0.19  0.10 0 0 0 0.19  0.10 0 0 0 0.19  0 0 0 0 1"/>
</filter>
<filter id="nz1" filterUnits="userSpaceOnUse" x="560" y="30" width="292" height="230" color-interpolation-filters="sRGB">
  <feTurbulence type="fractalNoise" baseFrequency="0.11" numOctaves="3" seed="5" result="n"/>
  <feColorMatrix in="n" type="matrix" values="2.0 0 0 0 -0.64  2.0 0 0 0 -0.64  2.0 0 0 0 -0.64  0 0 0 0 0.24"/>
</filter>
<filter id="b1" x="-50%" y="-50%" width="200%" height="200%"><feGaussianBlur stdDeviation="1"/></filter>
<filter id="b06" x="-50%" y="-50%" width="200%" height="200%"><feGaussianBlur stdDeviation="0.6"/></filter>
<filter id="b2" x="-50%" y="-50%" width="200%" height="200%"><feGaussianBlur stdDeviation="2.2"/></filter>
<filter id="b4" x="-50%" y="-50%" width="200%" height="200%"><feGaussianBlur stdDeviation="4"/></filter>
<clipPath id="c1"><rect x="564" y="33.75" width="284" height="222"/></clipPath>
<clipPath id="c2"><rect x="858.4" y="33.75" width="284.4" height="222"/></clipPath>
<clipPath id="c3"><rect x="1154" y="33.75" width="284" height="222"/></clipPath>
</defs>
<g clip-path="url(#c1)">
<rect x="560" y="30" width="292" height="230" fill="#8a8a8a"/>
<ellipse cx="620" cy="100" rx="40" ry="30" fill="rgb(150,150,150)" opacity="0.35" filter="url(#b4)"/>
<ellipse cx="740" cy="70" rx="50" ry="25" fill="rgb(150,150,150)" opacity="0.3" filter="url(#b4)"/>
<ellipse cx="700" cy="200" rx="60" ry="30" fill="rgb(150,150,150)" opacity="0.3" filter="url(#b4)"/>
<ellipse cx="800" cy="150" rx="30" ry="40" fill="rgb(60,60,60)" opacity="0.35" filter="url(#b4)"/>
<ellipse cx="600" cy="230" rx="30" ry="20" fill="rgb(60,60,60)" opacity="0.3" filter="url(#b4)"/>
<ellipse cx="760" cy="130" rx="40" ry="25" fill="rgb(160,160,160)" opacity="0.25" filter="url(#b4)"/>
<g filter="url(#b1)">
<ellipse cx="650" cy="78" rx="17" ry="14" fill="#5f5f5f"/>
<ellipse cx="570" cy="145" rx="13" ry="18" fill="#5f5f5f"/>
<ellipse cx="837" cy="118" rx="13" ry="32" fill="#5f5f5f"/>
<ellipse cx="828" cy="138" rx="22" ry="11" fill="#5f5f5f"/>
<ellipse cx="793" cy="220" rx="31" ry="20" fill="#5f5f5f"/>
<ellipse cx="566" cy="45" rx="10" ry="20" fill="#5f5f5f"/>
<ellipse cx="700" cy="60" rx="7" ry="6" fill="#5f5f5f"/>
<ellipse cx="566" cy="45" rx="9" ry="19" fill="#2c2c2c"/>
<path fill="#b4b4b4" opacity="0.55" transform="translate(-1.1 -1.0)" d="M570.4 77.2L571.8 74.0L575.7 72.2L579.8 73.6L582.1 77.7L578.7 85.6L573.6 84.5ZM577.9 60.1L583.3 59.3L586.0 61.1L587.0 64.0L586.7 65.0L580.2 69.7L576.8 68.6ZM559.2 82.6L559.8 81.8L567.7 79.6L570.4 85.7L565.4 90.5ZM567.1 93.8L567.2 93.6L572.6 88.3L577.1 89.3L577.3 89.5L578.3 98.2L577.4 99.5L569.1 98.4ZM590.4 79.2L593.0 75.8L597.7 76.5L599.9 80.5L598.7 84.7L593.9 86.9L593.3 86.5ZM555.1 69.0L561.6 66.9L567.5 73.0L566.1 76.3L556.4 79.0ZM595.6 89.6L600.7 87.2L608.6 91.7L604.3 99.8L595.4 97.1L595.1 96.6ZM559.4 112.8L561.5 108.5L564.8 107.2L569.6 112.9L567.0 120.5L565.7 121.1L563.0 120.1ZM561.4 122.9L564.1 123.9L563.9 131.4L560.1 134.6L545.3 129.1ZM594.5 44.0L602.9 36.8L607.2 45.5L597.9 49.6ZM587.2 45.3L588.2 44.8L592.8 46.0L595.8 51.0L595.7 51.9L589.2 56.9L586.4 55.0ZM580.9 72.3L588.8 66.6L591.5 73.7L588.6 77.4L583.2 76.5ZM598.4 51.8L598.6 50.8L607.6 46.7L608.8 47.4L608.4 56.4L603.2 57.4ZM612.4 76.5L613.9 72.7L615.1 71.7L619.2 72.5L623.2 79.4L615.2 82.8ZM612.0 48.4L612.4 48.4L622.6 52.4L623.0 54.6L613.7 58.9L611.6 57.1ZM629.1 46.4L636.6 46.1L639.2 49.1L639.4 51.9L636.5 54.7L628.4 53.9L627.7 53.2L627.2 51.1ZM623.1 71.8L626.7 68.6L634.4 71.2L634.0 75.2L626.9 78.4L626.9 78.4ZM598.6 129.5L608.3 131.6L608.4 132.2L602.4 139.1L596.2 138.7L596.1 138.6ZM628.9 82.7L636.4 79.2L640.3 83.0L635.4 91.3L631.1 90.1ZM587.5 144.2L589.9 142.5L594.0 142.9L594.1 143.0L594.8 150.1L589.4 153.1L586.9 151.7ZM624.6 99.0L630.6 93.9L635.3 95.1L635.7 95.6L636.2 103.8L633.9 107.0L632.2 107.4L624.5 103.6ZM599.7 122.5L605.3 120.7L608.9 126.7L608.0 129.0L599.8 127.3L598.8 125.3ZM632.5 110.2L634.2 109.8L641.5 116.1L635.3 122.3L630.3 117.6ZM636.7 108.9L638.7 106.1L647.0 105.3L650.2 109.3L650.2 109.7L644.1 114.6L643.3 114.5ZM597.8 143.2L603.1 143.5L606.8 148.1L602.2 152.5L598.5 150.2ZM639.5 36.7L640.3 36.0L647.2 36.6L648.3 43.2L642.1 48.4L639.0 45.0ZM669.8 117.2L670.2 117.1L676.1 123.1L675.4 127.6L669.8 131.2L663.7 128.1L663.1 126.7ZM568.0 165.6L568.0 165.6L577.4 162.9L580.5 167.2L578.9 174.4L571.5 172.0ZM615.0 164.6L618.7 166.6L618.1 173.7L612.9 176.4L607.7 174.4L607.8 172.1ZM618.4 155.0L625.9 152.3L627.8 154.1L628.0 159.4L626.0 161.7L621.6 162.4L618.3 160.5L617.7 159.0ZM652.3 58.1L658.8 54.8L659.9 55.6L660.7 62.0L654.4 66.0L653.6 65.4ZM649.7 127.3L656.6 126.5L659.0 128.0L659.6 129.3L654.1 136.8L648.6 135.9L646.7 132.7ZM663.4 54.6L671.0 54.0L674.2 60.3L671.2 64.7L670.3 65.0L664.2 61.3ZM631.2 154.8L636.8 153.0L641.3 156.8L639.8 161.4L639.3 161.7L631.4 160.3ZM639.7 59.5L642.5 56.9L647.5 59.0L648.8 66.4L640.3 67.2ZM609.9 134.9L615.0 139.7L610.7 145.4L608.4 145.2L604.7 140.8ZM614.9 148.9L619.4 143.0L622.4 142.9L624.2 144.4L625.1 151.1L617.6 153.8ZM674.1 39.4L677.2 34.5L680.6 34.3L687.6 41.5L686.6 45.7L686.3 45.9L676.0 44.8ZM618.8 188.7L624.6 185.3L629.6 188.8L629.7 191.6L625.3 196.9L621.0 195.1L618.2 190.3ZM669.6 74.3L671.9 70.7L672.7 70.4L678.6 76.0L674.2 81.9L671.4 81.2ZM606.6 194.3L607.2 192.7L614.4 191.8L616.9 196.1L610.9 201.5L609.4 201.3ZM563.4 184.4L572.5 185.7L575.3 192.4L571.3 194.8L563.4 193.3ZM661.6 105.0L667.2 106.0L669.9 112.0L669.1 114.1L668.8 114.2L657.7 111.3L656.4 109.9L656.4 109.5ZM662.1 131.6L667.1 134.1L667.7 140.1L659.2 141.0L657.3 138.2ZM583.0 195.4L588.7 190.9L589.8 191.3L593.7 198.6L593.1 200.9L590.3 203.2L585.6 201.1ZM668.4 104.9L672.8 98.6L674.2 98.3L679.7 103.4L679.0 107.2L671.3 111.4ZM570.7 210.1L572.0 209.5L575.4 210.6L579.6 217.3L577.2 222.1L568.1 222.3L566.7 221.2L566.2 218.9ZM602.6 163.1L604.4 159.9L613.2 161.4L613.9 162.9L607.3 169.8ZM708.9 83.1L709.2 80.3L713.3 78.3L717.5 80.4L718.6 86.2L713.0 88.6L712.0 88.3ZM608.7 219.3L608.8 218.6L618.5 214.8L622.5 221.6L620.6 226.5L619.7 227.1L611.6 226.8ZM596.7 198.5L604.3 194.4L607.6 202.5L604.0 205.1L596.0 201.1ZM569.2 224.8L576.7 224.6L579.8 230.3L577.9 234.4L575.0 235.6L568.9 231.6ZM681.4 32.2L686.4 27.3L695.7 31.9L695.1 34.6L688.8 39.7ZM699.1 35.4L699.6 33.1L701.3 31.3L703.9 30.8L710.5 35.9L707.4 42.1L705.5 42.7ZM614.5 179.0L619.7 176.3L623.9 179.2L623.5 183.1L617.6 186.6ZM678.4 123.6L685.8 120.0L689.6 129.2L688.4 131.4L684.5 132.8L677.7 128.1ZM632.7 192.8L639.9 195.4L640.0 200.1L630.1 201.1L628.7 197.6ZM691.7 131.8L692.9 129.8L700.1 127.3L702.5 130.7L699.5 138.7L697.3 138.7ZM672.5 224.8L673.7 223.1L681.9 222.0L683.9 227.6L683.8 228.0L677.9 231.3ZM636.1 222.1L638.1 219.3L640.6 218.4L646.5 225.5L645.7 227.1L638.2 228.2ZM695.0 115.1L697.1 111.8L701.8 111.5L707.7 117.0L707.7 117.7L700.7 122.7ZM726.3 115.7L731.0 119.8L729.5 126.4L721.0 126.7L718.9 125.0L718.4 123.0ZM582.5 237.4L584.9 232.5L593.8 231.2L595.3 233.1L594.8 242.2L587.3 242.6ZM685.1 221.9L686.0 219.9L691.6 218.2L694.3 221.2L693.8 225.1L687.2 227.9ZM723.9 46.0L727.7 44.9L733.4 50.5L725.5 55.3L721.5 51.5L721.4 50.6ZM721.8 129.2L731.3 128.8L731.9 130.1L730.4 138.5L722.7 139.4ZM650.7 169.1L656.4 166.8L658.2 174.0L653.6 177.1L649.4 175.9ZM726.8 58.3L735.8 52.8L738.0 52.9L741.4 57.5L737.0 65.5L727.7 64.0L727.4 63.7ZM727.3 66.3L737.0 67.8L738.0 70.0L736.3 76.3L730.5 77.7L727.0 74.6ZM733.7 130.7L742.5 132.7L743.7 135.0L741.0 140.0L733.8 139.8L732.4 138.4ZM708.3 103.7L714.3 104.5L715.4 108.2L710.7 115.5L704.5 109.6ZM685.4 75.6L688.0 73.1L696.3 74.9L693.1 83.7L689.2 84.6ZM743.6 89.2L744.8 86.8L750.2 84.8L755.9 89.1L752.0 98.6L744.6 95.1ZM744.2 57.9L749.6 58.5L751.7 71.2L751.4 71.5L740.6 68.5L739.6 66.3ZM732.3 37.2L738.8 35.8L742.9 40.0L739.2 48.7L736.9 48.7L730.1 41.9ZM739.9 28.9L745.5 26.4L751.5 30.6L751.9 32.0L745.9 38.5L743.5 38.9L739.5 34.8ZM720.2 78.9L724.9 76.5L727.8 79.1L726.5 86.1L726.0 86.5L721.2 84.5ZM696.7 208.4L697.8 208.3L705.0 213.5L705.4 217.7L697.6 219.1L694.5 215.6ZM574.5 247.5L577.2 242.2L580.1 241.0L584.1 245.3L582.9 253.3L582.6 253.5ZM758.1 90.2L763.1 89.6L767.2 97.9L767.0 100.2L755.3 101.7L754.4 99.4ZM753.5 75.0L753.7 74.8L761.4 73.6L765.6 81.8L762.4 86.0L757.4 86.7L751.8 82.4ZM779.4 82.4L781.5 79.9L789.0 79.4L790.4 80.2L790.8 86.5L785.9 91.2L782.3 89.2ZM598.7 248.5L599.6 248.7L603.8 256.5L603.1 258.4L597.5 260.6L592.4 255.2ZM756.0 113.0L764.7 115.6L764.8 120.5L762.4 123.4L758.6 124.0L753.3 119.6ZM697.9 157.5L701.9 157.6L701.5 164.7L696.2 167.2L692.9 162.7ZM704.3 177.2L710.1 171.2L715.0 180.1L710.5 183.4L705.8 181.7ZM688.3 229.5L688.3 229.2L694.9 226.3L697.8 229.0L696.9 233.6L692.8 235.7ZM767.6 115.4L769.3 113.7L778.3 115.6L779.4 118.0L775.5 124.2L767.6 120.8ZM721.5 143.8L723.7 141.8L730.6 140.9L732.1 142.3L731.4 151.5L728.1 153.1L727.7 153.1L722.0 148.4ZM679.4 235.8L685.7 232.3L690.2 238.4L689.5 241.8L682.4 242.2L678.7 238.6ZM665.4 253.7L670.2 252.2L673.9 254.8L673.3 259.9L668.0 261.7L665.8 260.5ZM703.5 156.8L704.6 156.0L709.4 156.9L712.5 164.7L709.1 167.7L703.1 164.5ZM763.3 71.9L765.3 68.3L775.3 68.9L777.3 77.1L774.8 80.1L767.7 80.6ZM744.4 141.9L747.0 137.0L752.3 137.6L754.9 140.4L754.6 145.1L746.9 147.9ZM722.3 183.1L723.5 182.2L730.3 183.3L732.0 186.9L730.2 190.5L729.5 190.8L724.1 189.1ZM768.4 57.1L775.7 58.3L777.5 61.1L774.4 65.7L766.4 65.2L765.9 62.3ZM718.3 196.6L723.3 192.0L730.0 194.1L725.8 203.5L719.1 203.2ZM759.0 139.8L765.9 137.6L767.0 138.0L767.1 145.5L760.9 146.5L758.7 144.4ZM707.8 219.4L715.8 219.8L716.4 220.4L712.5 229.3L712.1 229.3L707.5 225.3ZM730.0 157.7L733.3 156.1L739.9 157.3L739.2 164.2L733.1 166.8ZM732.9 192.8L735.1 188.4L741.2 187.7L745.3 194.1L739.1 198.3ZM744.2 187.4L746.5 184.1L751.7 183.7L754.2 185.8L754.3 190.4L750.4 193.5L747.8 193.0ZM778.5 67.3L782.0 62.0L787.3 62.7L787.4 62.9L788.4 74.5L780.3 75.0ZM786.3 96.1L792.7 100.8L790.6 107.3L784.2 105.8L783.0 103.9ZM733.7 169.4L734.0 168.9L740.0 166.4L743.7 169.8L741.2 174.2L736.3 174.3ZM708.2 239.6L713.0 235.2L713.4 235.2L714.0 235.6L717.2 243.6L716.7 244.7L708.2 246.5ZM758.0 49.3L758.2 49.3L765.8 53.6L766.1 54.1L763.3 59.9L753.3 56.2ZM783.3 108.7L789.7 110.3L790.6 111.6L790.1 118.1L788.9 119.3L781.5 117.1L780.6 115.0ZM736.1 177.2L741.3 177.1L743.8 181.7L741.4 185.1L736.0 185.7L734.1 181.6ZM741.6 221.2L742.6 219.5L750.4 217.0L754.0 221.5L751.2 227.1L741.6 222.7ZM752.1 195.7L756.6 192.1L763.3 195.4L761.5 204.6L760.9 205.1L754.3 205.3L754.1 205.1ZM783.8 48.0L784.5 47.9L792.7 51.7L792.9 52.2L788.2 59.7L783.4 59.0L781.6 55.9ZM742.8 175.4L745.5 170.8L748.6 170.5L751.1 172.6L750.7 179.8L745.4 180.1ZM759.4 21.7L768.4 28.6L768.5 29.0L762.9 35.1L754.9 31.1L754.5 29.7ZM754.4 209.2L760.4 209.1L763.2 218.9L756.7 220.2L753.1 215.8ZM792.2 36.4L793.0 36.2L797.1 38.7L797.7 40.2L794.7 49.2L785.0 44.7ZM799.5 42.1L805.2 44.2L806.4 50.3L802.0 52.0L797.1 50.1L796.9 49.6ZM801.7 98.6L803.7 94.0L804.9 93.4L810.9 94.7L811.9 101.8L809.7 104.8L807.1 105.7L807.0 105.7ZM811.0 31.2L814.4 28.7L818.9 29.7L820.6 31.9L818.3 37.9L813.2 36.9ZM833.8 32.2L835.5 30.5L839.8 30.2L842.4 32.5L843.3 39.3L838.7 40.9L834.3 38.0ZM847.7 42.0L854.7 39.8L858.0 43.4L855.1 49.5L850.0 48.0ZM741.8 224.8L750.6 228.8L750.9 230.4L748.0 234.5L743.0 235.8L738.4 230.3ZM752.8 249.9L755.6 246.2L760.5 245.7L763.7 249.7L761.1 253.9L756.5 255.1ZM755.8 262.1L757.6 258.6L762.9 257.3L765.7 262.8L760.1 271.0ZM778.9 169.9L779.1 169.8L787.8 174.9L787.6 177.0L781.6 182.4L776.7 177.9ZM796.5 164.3L804.0 157.7L804.2 157.7L809.6 162.3L810.1 164.1L805.2 172.3L796.8 168.7ZM806.5 177.0L810.8 179.0L812.2 185.1L810.6 187.0L804.0 186.3L802.4 184.6ZM804.8 189.3L811.3 190.0L812.6 196.6L810.4 199.3L804.4 197.5ZM835.7 55.4L837.3 54.6L842.1 55.9L843.8 59.8L841.6 63.7L835.4 62.7ZM846.9 60.0L853.9 59.7L854.5 65.9L851.1 69.4L846.7 69.2L844.4 64.6ZM839.4 168.2L840.1 166.9L849.0 165.9L850.9 167.8L847.8 177.2L840.8 175.3ZM813.1 160.8L821.9 154.4L823.6 154.8L825.0 156.3L823.9 166.4L822.5 167.7L813.5 162.6ZM776.5 238.1L776.9 237.9L783.5 242.2L782.2 249.5L775.1 249.7L773.6 248.6ZM853.0 168.8L874.0 169.9L851.3 177.8L850.4 176.8ZM786.1 242.7L790.0 240.9L796.3 246.0L794.1 249.5L786.5 250.9L784.9 249.5ZM813.6 189.7L815.2 187.9L821.2 187.8L822.3 189.8L819.3 195.5L814.9 195.9ZM828.5 249.7L837.4 245.7L838.7 247.6L837.6 256.1L835.2 258.2L834.5 258.1ZM817.1 247.2L823.4 248.1L825.2 250.7L819.6 257.3L814.8 256.1L814.1 252.9ZM845.4 31.3L854.4 29.7L854.7 29.9L853.2 36.5L847.0 38.5L846.3 38.1ZM814.9 238.3L822.4 236.2L825.6 238.4L823.5 244.9L817.0 244.0ZM837.7 260.5L840.2 258.3L848.5 258.5L848.6 280.2ZM826.7 251.4L826.9 251.4L832.3 259.0L825.0 263.2L820.9 258.1ZM828.2 237.8L829.9 237.4L837.2 242.2L837.2 243.9L828.2 247.9L827.9 247.8L825.9 244.9ZM840.9 249.3L846.7 250.7L848.5 254.8L846.7 256.6L840.0 256.4ZM551.2 97.9L563.4 94.6L565.4 99.3L563.0 103.7L560.1 104.8ZM581.5 101.5L582.4 100.2L592.2 98.7L592.6 99.2L591.1 109.6L585.2 110.8L582.5 107.9ZM567.9 124.4L568.9 123.9L578.4 125.7L578.9 126.9L573.6 133.5L567.7 130.5ZM558.3 54.7L562.8 61.0L562.1 64.2L555.8 66.2L548.7 62.3ZM595.7 99.6L604.0 102.1L604.7 103.7L603.6 108.1L595.1 110.6L594.2 110.1ZM615.1 60.3L625.1 55.7L626.0 56.6L625.6 64.8L621.2 68.8L616.4 67.9ZM584.9 115.5L591.4 114.1L592.3 114.6L596.4 122.1L595.3 125.6L584.7 126.3L583.2 125.3L582.6 123.9ZM580.8 28.9L583.5 28.1L588.7 33.3L586.9 40.2L585.8 40.7L579.8 39.1L577.9 37.1ZM576.5 135.6L581.7 129.1L582.9 129.9L586.3 138.6L584.0 140.2L577.0 139.3ZM616.4 86.3L625.4 82.6L625.5 82.6L628.0 90.9L621.7 96.2L614.7 90.2ZM616.6 21.1L624.8 29.3L624.9 33.1L623.2 35.3L620.9 35.4L613.3 30.7ZM584.9 127.5L595.2 126.8L596.4 129.1L593.8 138.3L589.0 137.8ZM626.6 37.6L628.1 35.7L636.0 36.2L635.6 43.0L628.7 43.2ZM607.0 105.5L617.6 107.0L615.0 113.6L608.7 114.3L605.9 109.9ZM620.5 106.7L621.9 105.6L630.1 109.6L627.7 117.6L621.2 120.1L617.7 113.9ZM580.3 156.5L584.0 155.5L586.6 156.9L588.2 162.4L581.7 164.5L579.1 161.0ZM622.4 122.6L622.6 121.9L629.0 119.6L634.2 124.4L634.4 127.2L626.4 129.7ZM603.4 153.9L608.4 149.2L610.9 149.3L613.7 154.3L613.0 158.4L604.0 156.9ZM594.3 165.9L600.0 164.5L605.1 171.6L604.9 173.9L603.0 175.5L594.2 173.0ZM649.7 44.3L655.7 46.8L656.4 50.2L649.8 53.6L644.7 51.4L644.5 48.7ZM648.7 35.2L650.4 33.7L658.4 34.3L660.6 38.2L657.0 44.8L649.7 41.8ZM559.8 170.6L565.8 167.3L568.7 172.7L563.1 179.9L560.4 178.5ZM650.7 95.6L652.5 93.1L659.8 95.9L659.5 101.6L654.4 106.0L650.9 101.6ZM626.5 132.2L633.6 129.9L635.5 132.2L631.9 138.8L626.3 139.4L624.4 137.9ZM638.3 19.8L639.2 33.7L638.4 34.3L628.8 33.7L628.6 29.8ZM621.6 167.8L625.8 167.2L629.4 173.8L624.7 176.4L621.2 173.9ZM663.6 40.6L671.4 41.1L673.3 46.5L670.9 51.2L662.4 51.8L661.1 50.9L660.3 46.9ZM575.0 184.8L578.8 178.9L583.6 181.0L585.0 186.4L579.7 190.7L577.3 190.4ZM679.0 90.2L685.8 89.1L687.1 97.3L681.9 99.5L677.3 95.3ZM587.4 179.2L592.1 175.2L601.7 177.9L600.4 183.9L590.4 186.4L589.1 185.9ZM674.0 67.8L677.6 62.6L683.5 62.0L686.5 64.3L686.5 72.0L683.8 74.5L681.0 74.5ZM561.1 201.2L561.7 198.4L563.9 196.3L570.9 197.7L570.9 205.8L569.8 206.3L562.0 203.0ZM640.1 19.1L646.1 1.6L648.5 9.5L649.5 32.3L647.9 33.7L641.0 33.1ZM663.0 27.8L671.3 26.0L674.6 32.0L671.4 37.0L663.4 36.4L661.3 32.7ZM627.4 142.4L633.5 141.7L637.2 145.0L636.3 149.6L630.4 151.5L628.4 149.6ZM572.6 197.8L576.7 195.3L579.7 195.7L582.6 202.4L576.0 208.1L572.7 207.1ZM697.1 76.1L699.6 74.8L704.9 79.1L704.6 81.9L697.9 85.7L694.3 83.8ZM646.9 143.9L648.8 140.1L653.9 140.9L655.9 143.9L655.5 147.6L649.9 150.9ZM680.9 77.5L683.3 77.5L686.5 85.1L685.9 86.0L678.9 87.1L676.4 83.5ZM591.6 189.4L600.7 187.1L603.5 191.6L602.8 193.4L595.8 197.2ZM626.3 179.3L631.4 176.4L634.7 177.4L636.8 180.0L630.7 186.2L625.9 182.9ZM569.4 174.7L576.3 176.9L576.6 177.4L572.1 184.4L563.3 183.1L563.1 182.9ZM673.0 51.8L675.3 47.4L684.8 48.4L681.7 57.9L676.4 58.4ZM547.6 218.0L557.0 215.3L562.1 219.2L562.5 221.0L556.6 223.5ZM592.7 206.1L595.4 204.0L601.9 207.2L601.1 212.0L592.8 211.8ZM643.5 180.3L647.8 178.5L652.9 180.0L655.4 188.0L653.1 189.8L645.7 189.2ZM654.0 181.0L659.4 177.3L661.5 178.2L664.6 186.9L661.5 189.3L656.4 188.7ZM559.9 205.8L568.5 209.4L564.2 217.6L558.2 213.1ZM655.5 193.5L657.5 191.9L662.0 192.4L663.3 198.9L658.3 202.1L655.4 199.7ZM658.6 165.9L658.8 165.5L661.9 163.8L668.7 166.8L667.7 173.0L662.8 175.0L660.7 174.2ZM670.8 166.4L673.8 165.3L677.9 168.1L678.4 172.1L674.8 175.6L669.7 172.4ZM621.6 214.5L621.7 213.8L627.0 209.2L633.7 216.1L631.7 218.9L624.8 220.0ZM673.8 112.5L680.5 108.8L685.5 115.2L684.7 116.7L678.3 119.8L673.0 114.4ZM711.0 60.3L718.9 54.2L723.2 58.3L723.7 63.3L715.8 65.7L711.1 61.4ZM651.4 154.5L651.6 153.9L657.4 150.5L662.2 154.8L660.5 160.2L657.6 161.8ZM716.2 103.4L718.3 100.4L726.7 98.9L729.2 102.0L726.7 110.7L717.2 107.1ZM694.8 101.0L700.4 97.1L703.4 97.8L706.1 102.3L702.4 108.1L697.6 108.4ZM702.2 123.4L709.1 118.5L714.0 122.4L714.5 124.5L709.0 129.5L704.2 128.6L701.8 125.2ZM672.3 202.4L678.2 197.5L683.1 204.4L680.4 208.4L673.8 208.6ZM684.4 185.8L690.8 178.6L690.9 178.6L695.8 188.8L695.7 189.1L690.6 192.2L684.6 189.6ZM682.8 210.1L685.4 206.3L690.5 205.3L693.8 207.6L691.8 214.1L685.9 215.8ZM707.2 47.8L709.0 47.3L716.4 51.3L716.5 52.2L709.5 57.7L704.1 52.9ZM608.8 233.9L611.7 229.5L619.7 229.8L618.9 237.8L612.6 241.0L610.7 240.1ZM716.5 69.4L724.3 67.1L724.6 67.4L724.4 74.8L719.4 77.3L715.0 75.3ZM629.2 207.1L629.7 204.8L641.0 203.6L642.1 205.0L642.4 211.2L640.2 214.3L637.2 215.3ZM643.5 195.1L645.6 192.3L652.1 192.8L652.0 199.3L644.6 201.2L643.6 200.0ZM558.2 226.6L564.2 224.0L565.3 225.0L565.0 231.7L560.0 234.7L557.2 231.4ZM735.6 119.8L739.2 118.9L746.6 123.1L744.5 130.9L734.6 128.6L734.0 127.4ZM643.2 216.5L645.1 213.8L654.6 215.0L655.0 221.3L649.4 224.0ZM673.2 144.0L681.0 143.5L684.2 147.7L681.4 152.2L676.6 153.1L672.9 149.9ZM636.1 233.0L637.2 230.5L646.7 229.2L648.5 237.0L647.0 239.9L642.4 240.9ZM629.3 165.5L631.2 163.4L638.5 164.6L635.8 172.9L632.8 172.0ZM740.6 71.6L749.2 73.9L747.7 80.1L743.3 81.7L739.3 76.6ZM596.7 233.6L605.5 235.1L607.4 241.3L599.9 245.8L598.9 245.6L596.2 242.5ZM671.8 211.5L672.3 210.7L679.5 210.5L683.2 217.1L682.2 219.6L671.8 220.9ZM726.7 29.4L731.2 21.9L738.2 28.3L737.9 34.0L731.7 35.3ZM691.4 147.1L697.1 141.8L699.4 141.8L702.6 144.2L703.0 152.5L701.8 153.4L697.1 153.3ZM654.8 251.4L658.8 251.5L661.3 253.4L661.7 260.2L657.3 261.8L651.8 259.7L651.0 258.2ZM627.6 249.0L628.8 245.8L629.1 245.6L638.0 248.2L637.8 255.4L635.8 256.7L631.9 256.3ZM586.7 245.6L592.8 245.3L595.0 247.9L589.6 253.7L585.6 253.5ZM770.1 97.3L779.5 91.2L783.7 93.6L783.8 94.0L780.1 103.0L770.9 101.4L769.8 99.7ZM683.9 153.7L687.1 148.5L689.7 148.4L695.5 154.6L689.4 161.0L688.4 160.7ZM617.5 253.4L624.6 250.0L628.6 256.8L622.2 260.9L620.8 260.2ZM673.2 241.5L676.4 239.9L680.7 244.1L679.5 250.0L675.7 251.9L671.4 248.8ZM752.6 59.9L752.8 59.8L762.0 63.2L762.5 66.3L760.9 69.2L754.3 70.3ZM677.5 253.6L681.2 251.8L688.5 256.7L688.4 257.2L680.2 261.5L676.9 259.3ZM805.4 77.8L812.8 78.0L813.8 89.2L812.2 90.7L805.1 89.2ZM568.5 250.2L572.4 248.1L582.2 255.4L580.2 259.2L571.4 261.5L570.7 261.0ZM704.1 132.8L708.8 133.6L711.1 140.5L704.1 142.8L701.1 140.5ZM763.8 40.7L768.3 45.4L766.2 51.8L759.3 47.9ZM693.1 246.3L702.6 250.6L702.4 252.7L700.4 255.3L691.4 255.9ZM731.6 195.1L732.5 194.8L737.9 199.7L737.7 204.3L730.7 205.8L727.9 203.3ZM748.9 151.1L756.4 148.4L758.6 150.6L758.3 157.6L753.6 158.4L747.9 153.9ZM733.6 141.8L741.4 142.0L744.2 148.7L743.0 151.9L740.4 153.4L732.8 152.0ZM741.2 200.3L746.7 196.6L749.4 197.1L751.1 205.4L741.8 205.6L741.1 205.0ZM726.3 220.8L730.3 217.4L737.9 221.2L738.0 222.5L734.7 227.9L730.9 228.4ZM695.0 239.7L699.8 237.3L705.9 240.0L705.9 248.0L705.3 248.9L694.2 243.9L694.1 243.7ZM804.8 67.3L804.8 67.2L812.7 64.9L814.7 72.8L812.6 74.2L806.4 74.0L804.8 72.7ZM771.7 104.5L780.8 106.1L782.1 108.2L779.1 115.1L770.1 113.2ZM780.9 120.0L788.5 122.3L787.8 129.0L780.9 132.4L779.2 131.6L777.3 125.6ZM730.7 234.9L731.6 234.0L735.4 233.5L739.9 238.8L738.9 242.3L733.2 244.4L729.7 240.4ZM690.8 258.9L691.0 258.3L691.2 258.1L701.6 257.4L702.1 263.1L693.9 269.8ZM790.3 62.9L800.3 66.1L800.2 72.0L792.7 74.6L791.3 73.8ZM795.7 51.9L801.3 54.1L801.3 64.0L801.3 64.1L790.4 60.6L790.3 60.4ZM787.8 94.2L787.7 93.8L792.6 89.1L799.8 92.5L797.7 97.5L794.0 98.8ZM722.3 253.1L729.4 254.8L729.8 255.7L725.8 263.7L718.7 260.7L718.4 259.5ZM769.7 138.9L776.4 136.9L778.0 137.6L779.2 143.5L778.4 145.0L771.5 147.8L769.8 146.5ZM772.3 45.1L778.5 44.3L780.2 45.7L778.0 53.5L770.3 52.3L770.1 51.7ZM754.7 172.5L763.5 171.3L764.9 178.7L757.1 182.8L754.2 180.5ZM757.1 185.3L765.1 181.1L766.6 182.0L768.6 191.1L767.8 192.6L764.0 194.0L757.3 190.7ZM770.2 193.7L770.9 192.3L780.0 189.3L780.6 190.4L778.4 200.8L777.2 201.3ZM742.0 208.2L750.7 208.0L750.9 208.1L749.7 214.2L742.8 216.4ZM734.5 248.1L740.6 245.9L743.8 251.2L740.8 257.2L733.3 254.1L732.9 253.2ZM783.1 146.8L783.9 145.3L792.5 147.2L792.7 148.1L787.3 155.7L785.5 155.7ZM782.1 136.5L789.0 133.0L792.6 135.3L794.0 142.7L792.8 144.8L783.4 142.8ZM757.4 222.7L763.1 221.5L764.5 222.2L765.4 223.6L764.2 230.9L762.6 231.9L755.3 229.2L755.0 227.6ZM708.9 250.7L709.5 249.9L717.6 248.1L719.5 251.9L716.2 257.4L708.7 252.7ZM827.7 68.4L829.8 68.4L832.2 75.9L828.3 81.9L828.0 82.0L820.6 75.2ZM820.8 44.7L824.4 46.6L826.1 50.8L820.3 56.7L817.5 56.9L813.9 52.0ZM832.5 40.2L837.3 43.4L835.4 50.8L833.4 51.8L828.1 49.8L826.3 45.4ZM792.8 122.8L794.1 121.6L804.0 123.1L801.4 130.0L795.7 131.7L792.2 129.4ZM778.7 32.2L782.6 30.3L790.0 34.2L783.2 42.1L782.4 42.2L780.5 40.8ZM730.7 256.5L738.1 259.6L738.3 260.2L729.7 270.7L727.0 263.8ZM815.4 93.4L816.8 92.2L823.2 91.2L825.8 96.3L824.0 100.8L816.4 100.5ZM796.7 146.3L797.7 144.5L805.3 142.8L807.7 146.3L803.6 153.0L803.4 153.0L796.9 147.2ZM806.6 123.3L806.8 123.2L812.7 125.7L813.1 130.9L808.5 134.7L804.0 130.1ZM742.8 243.0L743.9 238.9L749.7 237.5L754.5 244.2L751.2 248.5L746.4 248.9ZM781.7 162.5L785.1 160.3L787.0 160.3L792.8 164.3L793.1 168.1L789.1 172.1L781.1 167.4ZM838.5 86.6L843.1 83.7L848.5 86.9L849.1 89.9L841.1 94.5L839.6 93.4ZM791.4 175.4L796.2 170.6L804.8 174.2L805.4 175.5L800.5 184.4L798.0 184.3L791.3 177.8ZM813.3 166.4L820.7 170.6L820.4 173.1L813.8 176.1L809.8 174.3L809.3 173.2ZM797.7 20.2L804.6 29.8L798.7 35.4L795.1 33.3ZM844.7 53.5L848.7 49.4L853.3 50.8L855.5 54.7L853.1 57.5L846.6 57.8ZM774.5 252.7L781.6 252.6L783.4 254.0L783.5 261.0L775.4 263.6L774.8 262.8ZM830.7 144.6L833.0 144.6L837.1 151.8L834.7 155.3L827.0 154.4L825.8 153.2ZM822.7 33.1L830.2 32.9L830.7 38.8L824.9 43.7L821.4 41.8L820.3 39.6ZM796.7 133.7L802.1 132.1L806.4 136.6L806.1 138.9L798.0 140.6ZM832.9 67.7L835.0 65.9L842.3 67.1L844.7 71.7L842.5 75.2L835.2 75.0ZM837.8 141.8L841.4 137.9L843.1 138.0L849.7 143.6L848.2 148.2L841.8 148.7ZM826.3 157.8L835.6 158.9L837.0 166.3L836.2 167.7L825.2 168.1ZM842.3 97.9L851.1 92.9L853.9 95.0L851.5 105.5L850.5 106.3L843.1 102.9ZM794.3 194.2L798.7 189.0L800.7 189.1L802.3 190.7L801.9 198.7L797.6 200.5L795.4 200.1ZM815.8 127.1L820.7 124.6L825.0 127.8L822.9 135.2L822.2 135.3L816.1 131.9ZM839.2 158.0L841.8 154.3L848.8 153.8L849.6 154.9L848.6 163.5L840.3 164.4ZM812.3 202.6L814.9 199.5L820.3 199.0L826.0 204.3L821.9 211.2L813.6 209.2ZM851.8 130.3L853.4 131.5L853.5 140.5L851.2 142.3L844.3 136.4ZM826.0 191.3L830.9 193.0L830.4 200.9L827.7 201.7L822.9 197.2ZM828.1 206.6L830.8 205.7L835.3 207.4L834.3 215.6L833.3 216.2L824.5 212.6L824.5 212.5ZM850.8 185.3L856.6 191.0L851.1 195.6L847.0 194.2L846.3 192.8ZM823.3 214.0L832.7 217.9L830.7 223.4L823.6 223.2L822.5 222.2ZM838.7 207.3L839.4 207.0L846.2 209.9L845.2 217.1L844.2 217.9L837.6 216.0ZM845.6 197.6L849.9 199.0L852.2 204.2L851.6 206.0L848.2 207.6L841.6 204.7ZM843.9 119.1L850.2 113.7L854.1 118.5L851.8 125.7L844.6 121.6ZM847.7 221.1L848.6 220.3L854.5 220.5L858.1 226.8L853.8 228.9L847.9 225.1ZM581.2 89.4L591.9 89.8L592.5 90.3L592.0 96.7L582.3 98.2ZM564.5 61.2L572.7 56.9L574.8 58.4L573.5 68.6L569.6 70.4L563.8 64.4ZM556.6 83.7L562.8 91.6L562.8 91.7L552.0 94.7L536.2 91.6ZM590.3 59.8L597.3 54.4L601.9 59.8L599.5 64.0L591.4 63.1ZM604.5 60.2L609.6 59.2L611.8 61.0L613.1 68.3L611.7 69.3L603.3 67.3L602.0 64.5ZM565.4 105.6L567.9 100.9L577.0 102.0L578.1 109.0L570.0 111.0ZM590.3 34.0L597.7 30.7L598.4 30.9L602.3 35.1L602.3 35.4L593.8 42.7L588.4 41.3ZM567.2 28.3L571.4 23.4L577.8 28.2L575.0 36.4L570.6 36.1ZM607.0 35.7L607.0 35.5L612.5 32.7L619.6 37.1L612.3 44.1L611.9 44.2L610.9 43.6ZM596.0 113.4L604.0 111.1L606.6 115.2L605.4 118.0L599.5 119.9ZM585.2 26.9L589.5 20.7L595.8 28.7L589.7 31.4ZM620.7 38.9L623.0 38.8L625.4 45.4L623.4 50.5L613.0 46.4ZM608.5 119.2L609.7 116.2L615.9 115.5L619.0 121.0L618.8 121.6L612.3 125.8ZM581.5 168.1L588.8 165.7L590.2 166.7L590.1 173.7L585.8 177.3L580.3 174.9L580.0 174.5ZM643.2 119.1L644.0 119.1L647.4 126.0L644.5 131.2L639.3 130.0L637.3 127.7L637.2 125.1ZM638.5 132.9L644.3 134.2L646.5 137.8L644.2 142.4L638.4 144.3L634.3 140.6ZM655.0 67.8L661.3 63.8L667.1 67.3L664.8 70.8L657.6 72.5L656.2 71.5ZM612.7 129.2L619.5 124.9L623.4 131.7L621.2 138.0L617.9 138.1L611.9 132.5L611.8 131.8ZM666.3 87.2L670.7 84.7L673.9 85.6L676.6 89.6L674.7 95.5L673.4 95.8L666.3 92.9ZM589.7 156.1L595.9 152.6L600.2 155.2L600.8 158.4L598.9 162.0L593.0 163.5L591.5 162.4ZM640.7 165.5L641.2 165.3L646.9 168.8L645.4 176.2L641.5 177.8L639.9 177.3L637.7 174.7ZM688.3 65.4L693.5 64.7L697.3 71.0L697.2 71.8L695.0 73.0L688.3 71.6ZM688.3 118.8L689.0 117.4L693.0 116.1L698.0 122.6L697.7 124.2L691.4 126.3ZM639.3 145.9L644.4 144.1L647.6 151.5L647.4 152.1L643.0 154.2L638.4 150.3ZM642.6 83.1L643.6 83.3L649.4 89.8L649.4 91.4L647.5 93.9L637.5 92.7L637.2 92.3ZM577.5 208.7L583.3 203.7L588.1 205.8L588.3 212.0L587.9 212.6L581.1 214.6ZM606.6 207.6L609.9 205.2L611.5 205.4L617.1 212.5L616.9 213.2L608.3 216.6L605.8 213.0ZM662.3 95.8L664.8 93.9L671.3 96.6L667.3 102.2L662.0 101.3ZM687.7 50.2L688.0 50.0L696.1 54.5L692.6 60.1L687.3 60.9L684.8 59.0ZM592.1 215.3L592.5 214.6L602.4 214.9L605.1 218.7L604.9 219.4L595.5 224.5ZM709.9 64.1L714.2 68.1L712.8 73.7L708.9 75.5L703.8 71.4L703.8 70.6ZM659.9 144.4L669.6 143.4L670.1 144.0L669.7 150.3L664.5 152.9L659.4 148.4ZM706.7 96.0L712.0 91.2L713.0 91.5L715.8 98.0L714.0 100.6L709.0 99.9ZM632.7 187.5L638.4 181.8L639.9 182.3L641.7 189.7L639.7 192.3L632.8 189.9ZM699.3 88.0L707.0 83.6L710.5 89.5L704.1 95.2L701.0 94.5ZM679.8 196.8L679.9 196.2L684.1 193.0L689.1 195.1L689.1 202.0L684.3 202.9ZM688.9 88.6L689.5 87.8L692.7 87.1L696.1 88.9L697.5 94.3L692.7 97.7L690.1 96.8ZM690.8 42.5L696.6 37.7L703.4 45.5L699.7 51.3L698.9 51.5L689.8 46.5ZM664.4 191.0L667.0 188.9L668.7 188.8L674.5 194.1L674.4 194.8L669.2 199.1L665.7 197.5ZM729.7 91.6L730.2 91.2L739.3 90.4L740.1 95.5L735.7 99.5L731.6 99.7L729.5 97.1ZM596.9 225.5L604.8 221.2L607.2 227.2L604.7 230.8L597.4 229.6L596.1 228.1ZM704.8 28.5L711.2 20.9L717.8 30.4L716.1 33.0L712.2 34.3ZM714.9 91.3L721.0 88.7L726.6 91.1L726.4 97.4L718.2 98.9ZM664.5 155.4L670.0 152.7L674.2 156.2L672.6 163.1L669.5 164.3L662.6 161.3ZM732.5 103.4L737.3 103.1L742.4 109.5L738.7 115.8L735.2 116.7L730.0 112.2L730.0 112.0ZM645.3 204.3L652.8 202.5L655.9 205.0L655.8 210.7L655.5 211.1L645.6 209.9ZM719.4 34.6L721.0 32.0L725.1 30.7L730.0 36.4L728.0 40.8L723.7 42.1ZM624.0 223.7L632.5 222.4L635.0 230.1L633.9 232.6L630.5 234.0L622.2 228.5ZM713.2 37.2L717.3 35.9L721.9 44.1L718.9 49.6L709.6 44.4ZM659.6 213.9L659.9 213.5L669.5 212.6L669.6 220.6L668.3 222.3L664.5 223.2L660.0 220.3ZM692.5 193.6L697.6 190.6L703.0 195.9L702.8 198.8L697.4 204.2L696.3 204.4L692.5 201.8ZM558.7 240.7L563.4 247.6L557.2 250.4L551.4 246.0ZM677.2 156.1L682.3 155.2L686.4 161.6L679.9 165.6L675.7 162.8ZM649.9 229.6L650.9 227.8L657.0 224.9L661.8 228.1L660.2 235.0L651.6 236.8ZM680.8 167.5L687.4 163.4L688.3 163.7L692.0 168.7L691.3 172.9L689.6 174.6L689.5 174.7L681.3 171.5ZM731.4 79.0L737.2 77.5L742.3 84.0L740.9 86.4L729.9 87.4ZM600.6 248.4L608.1 244.0L610.0 244.8L613.3 252.7L604.9 256.4ZM698.4 188.9L704.8 184.1L709.5 185.8L709.6 190.8L703.6 194.5L698.3 189.3ZM664.8 240.4L671.3 242.0L669.6 248.8L664.5 250.5L661.8 248.4ZM696.7 170.3L702.3 167.7L708.1 170.8L708.0 171.1L703.0 176.3L696.1 174.2ZM560.4 238.8L560.6 237.9L566.4 234.3L573.7 239.1L570.5 245.3L566.7 247.3L566.2 247.1ZM754.4 106.9L755.4 103.0L767.4 101.5L768.4 103.1L766.9 111.5L765.2 113.1L756.0 110.4ZM686.6 135.4L690.2 134.1L695.7 140.9L690.4 145.8L688.0 146.0L684.7 141.5ZM641.1 248.4L643.6 245.6L647.4 244.8L651.1 250.0L647.5 256.6L640.9 254.8ZM739.3 101.8L743.7 97.9L750.0 100.8L750.9 102.7L750.0 106.0L743.5 107.2ZM613.3 242.9L619.5 239.8L625.9 243.6L624.7 247.0L616.7 250.9L616.6 250.8ZM712.2 186.5L716.0 183.6L718.7 183.8L720.6 190.1L716.4 194.0L712.3 190.9ZM793.6 78.6L801.6 75.9L803.5 77.3L803.2 88.4L801.8 89.1L794.1 85.4ZM631.8 236.4L634.7 235.2L639.9 241.7L637.4 244.6L629.3 242.3ZM765.9 88.3L768.5 84.6L774.2 84.2L776.9 90.6L769.4 95.5ZM699.7 206.8L704.6 201.9L712.0 206.1L706.3 211.5ZM557.8 254.7L565.3 251.4L565.8 251.5L568.0 262.0L557.7 262.8L556.9 261.9ZM605.3 259.6L606.1 257.6L614.8 253.7L614.9 253.7L618.8 261.6L609.5 265.4ZM726.2 157.4L726.6 157.4L729.7 166.7L729.5 167.2L724.2 168.9L719.1 164.9ZM764.5 125.7L767.0 122.7L774.5 126.0L776.6 132.3L769.0 134.6L767.8 134.1ZM708.2 213.1L713.5 208.1L715.7 207.8L716.8 217.5L708.8 217.1L708.5 216.7ZM703.3 257.1L705.6 254.1L714.4 259.7L714.7 260.9L709.9 267.4L703.8 262.8ZM741.5 155.7L744.3 154.2L751.1 159.6L748.6 167.3L745.1 167.8L740.7 163.7ZM698.3 221.5L705.5 220.2L705.8 220.6L705.5 226.8L700.8 228.3L697.8 225.5ZM683.1 245.7L690.4 245.2L690.5 245.4L688.9 255.2L688.7 255.4L682.1 251.0ZM761.1 149.8L767.8 148.8L769.6 150.2L770.1 156.1L763.4 159.3L760.7 157.4ZM719.2 221.4L722.5 221.8L727.8 230.5L726.7 231.6L715.5 232.0L714.8 231.6ZM772.0 149.3L779.3 146.4L781.9 156.0L778.2 158.5L772.6 155.2ZM794.1 111.6L805.3 110.2L805.4 110.3L803.8 119.6L803.6 119.7L793.6 118.3ZM815.6 63.8L817.2 60.9L819.9 60.7L826.2 66.5L819.6 72.8L817.9 72.7ZM750.4 237.0L753.6 232.4L762.1 235.6L760.3 242.8L754.9 243.4ZM765.4 162.8L772.1 159.5L777.7 162.8L777.0 168.1L776.8 168.3L766.2 169.3ZM795.2 148.7L802.8 155.4L795.7 161.7L789.2 157.2ZM758.9 128.0L762.8 127.4L766.0 135.4L758.3 137.9L755.6 134.9ZM808.3 43.5L811.7 40.5L817.0 41.5L818.0 43.7L811.5 50.7L809.6 50.0ZM814.8 79.0L817.0 77.5L818.5 77.6L824.9 83.4L822.4 87.7L815.7 88.7ZM834.0 76.2L841.7 76.4L842.6 82.0L837.2 85.4L830.0 82.4ZM812.4 147.3L815.8 147.4L820.4 153.0L812.8 158.4L808.0 154.4ZM769.4 182.1L774.9 181.1L779.5 185.3L779.3 186.9L771.0 189.6ZM795.3 101.2L799.2 99.9L804.9 107.6L794.1 109.0L793.2 107.7ZM784.3 186.3L789.8 181.4L795.2 186.7L791.0 191.9L784.6 188.8L784.1 187.8ZM765.3 235.7L767.2 234.5L775.1 237.4L772.0 248.3L767.1 248.3L763.4 243.5ZM784.2 191.1L790.5 194.2L791.6 200.1L789.5 201.5L782.2 200.5ZM786.6 253.8L794.7 252.4L796.6 258.9L789.7 263.2L786.7 260.6ZM844.4 76.2L846.3 73.2L850.2 73.3L853.8 78.8L850.2 83.9L845.1 80.8ZM763.6 255.8L766.5 251.2L771.1 251.2L772.5 252.2L772.8 261.9L766.3 261.2ZM827.7 180.7L835.2 180.7L835.0 188.0L832.0 189.4L827.2 187.7L826.1 185.6ZM852.1 155.0L883.0 165.6L875.4 166.5L852.8 165.4L851.1 163.6ZM837.8 180.8L839.9 178.8L846.9 180.7L848.0 181.8L848.2 183.1L843.0 191.7L837.5 189.2ZM836.5 220.0L837.6 219.3L844.6 221.4L844.9 226.0L840.6 229.9L835.8 228.5L834.4 225.8ZM834.2 230.5L838.9 231.9L840.5 237.8L837.7 241.3L830.6 236.6ZM805.6 238.9L810.8 238.9L811.1 239.1L813.2 244.7L810.1 250.6L801.4 245.9ZM840.1 243.0L842.7 239.7L849.2 239.5L850.8 242.3L847.6 247.8L841.2 246.3L840.0 244.5ZM854.4 243.7L863.9 247.1L855.4 254.4L853.2 254.2L851.1 249.5ZM848.2 209.4L852.0 207.6L856.4 212.8L853.9 217.4L847.0 217.2ZM591.7 65.8L592.0 64.6L600.4 65.5L601.6 68.3L599.1 73.3L594.2 72.6ZM572.0 113.2L579.3 111.4L582.0 114.3L579.9 121.7L569.8 119.8ZM603.4 70.2L611.2 72.0L609.7 76.1L603.0 78.7L601.0 74.8ZM583.6 79.4L588.0 80.1L590.5 86.4L581.0 86.1L580.8 85.9ZM603.6 80.8L609.6 78.4L612.2 84.4L610.8 87.6L609.0 88.0L602.6 84.4ZM578.6 43.7L584.3 45.2L583.4 55.3L577.5 56.1L575.5 54.8L574.8 52.8ZM611.7 94.1L613.5 93.6L619.7 98.8L619.6 103.0L618.5 103.9L608.7 102.6L608.0 101.1ZM638.2 94.1L647.9 95.3L648.1 101.5L638.7 102.4ZM557.7 155.8L561.6 157.1L563.8 164.3L563.8 164.3L556.7 168.2L548.4 164.6ZM627.6 58.4L636.1 59.2L636.7 67.7L635.9 68.8L627.2 65.9ZM646.2 117.3L653.4 111.6L654.8 113.0L657.2 123.9L649.9 124.8ZM605.0 179.5L606.8 177.9L612.0 179.8L615.0 187.2L614.4 188.7L606.7 189.7L603.8 185.1ZM645.2 158.5L649.3 156.5L655.2 163.6L655.0 164.0L649.1 166.4L643.7 163.0ZM683.8 106.7L684.3 103.6L689.4 101.5L691.9 102.3L694.2 108.5L692.4 111.3L688.4 112.6ZM649.8 10.7L659.5 27.9L658.0 32.4L650.7 31.8ZM612.7 203.5L619.5 197.5L623.8 199.3L625.4 203.3L625.0 205.5L618.7 211.0ZM658.0 84.5L662.5 86.5L662.4 92.1L659.8 94.1L652.2 91.3L652.2 89.7ZM582.2 219.0L589.4 216.8L592.7 225.8L591.9 228.8L583.6 229.9L580.0 223.4ZM655.9 112.0L667.7 115.0L660.9 124.6L658.3 123.0ZM663.7 176.9L668.3 175.0L673.2 178.1L673.2 180.1L668.4 185.0L666.6 185.1ZM675.6 182.2L681.3 186.1L681.5 189.4L677.1 192.7L670.9 187.0ZM671.9 133.0L676.5 130.0L682.1 133.7L680.3 139.1L673.0 139.5L672.6 138.9ZM659.3 205.4L664.7 202.0L668.5 203.8L670.0 209.8L669.5 210.4L659.2 211.4ZM665.2 227.3L669.6 226.3L676.1 234.2L675.4 237.5L672.2 239.2L665.2 237.5L663.5 234.8ZM650.2 241.1L651.6 238.4L660.7 236.4L662.5 239.1L659.3 247.5L654.7 247.4ZM621.1 229.9L621.9 229.3L630.1 234.6L627.1 241.6L626.8 241.8L620.2 237.9ZM744.7 111.3L751.2 110.2L752.5 113.1L750.1 119.0L747.6 120.0L741.7 116.6ZM715.6 109.2L724.3 112.5L724.3 112.7L716.2 120.1L711.5 116.3L711.4 115.7ZM678.0 178.9L681.2 175.8L688.4 178.5L683.3 184.3L678.0 180.7ZM712.7 171.0L712.8 170.7L715.8 168.0L717.3 167.9L721.9 171.6L720.5 177.5L719.3 178.4L716.7 178.2ZM706.3 197.1L711.5 194.0L715.6 197.1L716.2 202.7L715.5 203.3L713.3 203.6L706.2 199.6ZM693.7 178.9L695.2 177.3L702.0 179.4L703.3 183.3L697.8 187.4ZM711.3 131.4L717.1 126.2L719.4 128.0L720.4 138.1L718.0 140.3L713.8 138.7ZM744.5 42.7L746.8 42.3L754.7 48.7L749.7 56.1L749.5 56.1L744.4 55.6L740.9 51.0ZM749.3 124.4L751.8 123.4L756.5 127.2L753.6 133.2L748.7 132.7L747.6 130.6ZM705.9 145.5L712.9 143.2L716.8 144.8L717.3 149.5L711.2 154.0L706.3 153.1ZM583.6 260.3L585.3 257.1L585.7 256.9L590.0 257.1L594.7 262.1L590.1 275.1ZM701.2 230.2L706.4 228.6L711.8 233.3L706.3 238.3L700.2 235.6ZM748.1 39.6L753.8 33.3L761.3 37.1L761.3 37.2L756.1 45.7L755.8 45.8ZM718.7 207.5L719.4 206.9L725.4 207.2L728.2 209.7L727.8 215.2L723.5 218.8L720.5 218.4L719.8 217.8ZM712.0 156.2L718.7 151.3L725.1 156.4L717.3 164.7L715.5 164.8ZM731.1 208.9L738.6 207.3L739.3 207.9L740.2 217.1L739.2 218.8L730.7 214.6ZM725.5 171.4L731.3 169.6L734.2 175.2L732.1 180.0L723.8 178.7ZM720.0 245.8L720.4 244.8L726.3 242.2L729.8 246.3L728.3 251.2L722.0 249.7ZM753.9 161.2L758.9 160.3L761.6 162.2L762.4 168.8L762.2 169.2L754.2 170.3L751.6 168.1ZM766.4 171.9L766.6 171.6L776.5 170.6L774.4 178.0L768.8 179.0L767.6 178.2ZM804.5 56.2L808.9 54.5L810.7 55.1L813.9 59.5L812.5 62.2L804.4 64.7ZM765.5 37.0L765.5 36.9L770.9 31.0L776.4 33.0L778.2 41.8L771.0 42.7ZM764.9 196.4L767.9 195.2L774.2 202.2L772.8 204.4L763.4 203.9ZM809.6 112.4L812.2 111.4L818.8 118.2L818.8 120.6L813.7 123.3L808.2 120.9ZM746.0 252.5L750.7 252.1L754.7 257.9L752.9 261.2L745.8 261.7L743.0 259.5L742.8 258.9ZM820.3 57.6L826.5 51.2L831.9 53.2L831.6 62.2L829.4 64.0L827.3 64.0ZM792.1 3.2L795.5 18.8L792.6 33.4L791.8 33.5L784.0 29.4ZM813.5 108.4L816.3 104.8L825.3 105.2L828.0 109.6L821.2 116.3ZM813.7 178.3L821.2 174.9L823.9 179.4L822.2 184.8L815.2 184.9ZM825.0 170.6L826.2 169.5L835.7 169.2L837.0 175.7L835.1 177.6L827.2 177.6L824.7 173.4ZM716.3 233.5L727.3 233.2L726.2 239.3L719.7 242.2ZM840.4 44.5L844.9 42.9L845.6 43.4L847.6 48.6L843.7 52.5L838.7 51.1ZM795.8 252.1L798.3 248.1L798.7 248.0L808.8 253.4L809.6 257.2L807.7 259.2L801.4 260.8L797.9 258.8ZM815.4 227.0L821.0 226.0L821.9 226.9L821.6 232.9L814.7 234.9L814.4 234.7ZM823.7 225.7L830.3 225.9L831.5 228.3L828.1 233.8L826.6 234.1L823.4 232.0ZM833.2 192.5L836.6 190.8L842.1 193.4L842.9 195.1L838.5 203.1L837.7 203.3L832.6 201.5ZM806.1 31.6L808.2 31.9L810.8 38.4L806.9 41.8L800.1 39.4L799.4 37.9ZM841.8 230.9L845.8 227.3L852.1 231.4L850.0 236.4L843.4 236.7Z"/>
<path fill="rgb(46,46,46)" stroke="rgb(46,46,46)" stroke-width="1.0" stroke-linejoin="round" d="M570.4 77.2L571.8 74.0L575.7 72.2L579.8 73.6L582.1 77.7L578.7 85.6L573.6 84.5ZM577.9 60.1L583.3 59.3L586.0 61.1L587.0 64.0L586.7 65.0L580.2 69.7L576.8 68.6ZM559.2 82.6L559.8 81.8L567.7 79.6L570.4 85.7L565.4 90.5ZM567.1 93.8L567.2 93.6L572.6 88.3L577.1 89.3L577.3 89.5L578.3 98.2L577.4 99.5L569.1 98.4ZM590.4 79.2L593.0 75.8L597.7 76.5L599.9 80.5L598.7 84.7L593.9 86.9L593.3 86.5ZM555.1 69.0L561.6 66.9L567.5 73.0L566.1 76.3L556.4 79.0ZM595.6 89.6L600.7 87.2L608.6 91.7L604.3 99.8L595.4 97.1L595.1 96.6ZM559.4 112.8L561.5 108.5L564.8 107.2L569.6 112.9L567.0 120.5L565.7 121.1L563.0 120.1ZM561.4 122.9L564.1 123.9L563.9 131.4L560.1 134.6L545.3 129.1ZM594.5 44.0L602.9 36.8L607.2 45.5L597.9 49.6ZM587.2 45.3L588.2 44.8L592.8 46.0L595.8 51.0L595.7 51.9L589.2 56.9L586.4 55.0ZM580.9 72.3L588.8 66.6L591.5 73.7L588.6 77.4L583.2 76.5ZM598.4 51.8L598.6 50.8L607.6 46.7L608.8 47.4L608.4 56.4L603.2 57.4ZM612.4 76.5L613.9 72.7L615.1 71.7L619.2 72.5L623.2 79.4L615.2 82.8ZM612.0 48.4L612.4 48.4L622.6 52.4L623.0 54.6L613.7 58.9L611.6 57.1ZM629.1 46.4L636.6 46.1L639.2 49.1L639.4 51.9L636.5 54.7L628.4 53.9L627.7 53.2L627.2 51.1ZM623.1 71.8L626.7 68.6L634.4 71.2L634.0 75.2L626.9 78.4L626.9 78.4ZM598.6 129.5L608.3 131.6L608.4 132.2L602.4 139.1L596.2 138.7L596.1 138.6ZM628.9 82.7L636.4 79.2L640.3 83.0L635.4 91.3L631.1 90.1ZM587.5 144.2L589.9 142.5L594.0 142.9L594.1 143.0L594.8 150.1L589.4 153.1L586.9 151.7ZM624.6 99.0L630.6 93.9L635.3 95.1L635.7 95.6L636.2 103.8L633.9 107.0L632.2 107.4L624.5 103.6ZM599.7 122.5L605.3 120.7L608.9 126.7L608.0 129.0L599.8 127.3L598.8 125.3ZM632.5 110.2L634.2 109.8L641.5 116.1L635.3 122.3L630.3 117.6ZM636.7 108.9L638.7 106.1L647.0 105.3L650.2 109.3L650.2 109.7L644.1 114.6L643.3 114.5ZM597.8 143.2L603.1 143.5L606.8 148.1L602.2 152.5L598.5 150.2ZM639.5 36.7L640.3 36.0L647.2 36.6L648.3 43.2L642.1 48.4L639.0 45.0ZM669.8 117.2L670.2 117.1L676.1 123.1L675.4 127.6L669.8 131.2L663.7 128.1L663.1 126.7ZM568.0 165.6L568.0 165.6L577.4 162.9L580.5 167.2L578.9 174.4L571.5 172.0ZM615.0 164.6L618.7 166.6L618.1 173.7L612.9 176.4L607.7 174.4L607.8 172.1ZM618.4 155.0L625.9 152.3L627.8 154.1L628.0 159.4L626.0 161.7L621.6 162.4L618.3 160.5L617.7 159.0ZM652.3 58.1L658.8 54.8L659.9 55.6L660.7 62.0L654.4 66.0L653.6 65.4ZM649.7 127.3L656.6 126.5L659.0 128.0L659.6 129.3L654.1 136.8L648.6 135.9L646.7 132.7ZM663.4 54.6L671.0 54.0L674.2 60.3L671.2 64.7L670.3 65.0L664.2 61.3ZM631.2 154.8L636.8 153.0L641.3 156.8L639.8 161.4L639.3 161.7L631.4 160.3ZM639.7 59.5L642.5 56.9L647.5 59.0L648.8 66.4L640.3 67.2ZM609.9 134.9L615.0 139.7L610.7 145.4L608.4 145.2L604.7 140.8ZM614.9 148.9L619.4 143.0L622.4 142.9L624.2 144.4L625.1 151.1L617.6 153.8ZM674.1 39.4L677.2 34.5L680.6 34.3L687.6 41.5L686.6 45.7L686.3 45.9L676.0 44.8ZM618.8 188.7L624.6 185.3L629.6 188.8L629.7 191.6L625.3 196.9L621.0 195.1L618.2 190.3ZM669.6 74.3L671.9 70.7L672.7 70.4L678.6 76.0L674.2 81.9L671.4 81.2ZM606.6 194.3L607.2 192.7L614.4 191.8L616.9 196.1L610.9 201.5L609.4 201.3ZM563.4 184.4L572.5 185.7L575.3 192.4L571.3 194.8L563.4 193.3ZM661.6 105.0L667.2 106.0L669.9 112.0L669.1 114.1L668.8 114.2L657.7 111.3L656.4 109.9L656.4 109.5ZM662.1 131.6L667.1 134.1L667.7 140.1L659.2 141.0L657.3 138.2ZM583.0 195.4L588.7 190.9L589.8 191.3L593.7 198.6L593.1 200.9L590.3 203.2L585.6 201.1ZM668.4 104.9L672.8 98.6L674.2 98.3L679.7 103.4L679.0 107.2L671.3 111.4ZM570.7 210.1L572.0 209.5L575.4 210.6L579.6 217.3L577.2 222.1L568.1 222.3L566.7 221.2L566.2 218.9ZM602.6 163.1L604.4 159.9L613.2 161.4L613.9 162.9L607.3 169.8ZM708.9 83.1L709.2 80.3L713.3 78.3L717.5 80.4L718.6 86.2L713.0 88.6L712.0 88.3ZM608.7 219.3L608.8 218.6L618.5 214.8L622.5 221.6L620.6 226.5L619.7 227.1L611.6 226.8ZM596.7 198.5L604.3 194.4L607.6 202.5L604.0 205.1L596.0 201.1ZM569.2 224.8L576.7 224.6L579.8 230.3L577.9 234.4L575.0 235.6L568.9 231.6ZM681.4 32.2L686.4 27.3L695.7 31.9L695.1 34.6L688.8 39.7ZM699.1 35.4L699.6 33.1L701.3 31.3L703.9 30.8L710.5 35.9L707.4 42.1L705.5 42.7ZM614.5 179.0L619.7 176.3L623.9 179.2L623.5 183.1L617.6 186.6ZM678.4 123.6L685.8 120.0L689.6 129.2L688.4 131.4L684.5 132.8L677.7 128.1ZM632.7 192.8L639.9 195.4L640.0 200.1L630.1 201.1L628.7 197.6ZM691.7 131.8L692.9 129.8L700.1 127.3L702.5 130.7L699.5 138.7L697.3 138.7ZM672.5 224.8L673.7 223.1L681.9 222.0L683.9 227.6L683.8 228.0L677.9 231.3ZM636.1 222.1L638.1 219.3L640.6 218.4L646.5 225.5L645.7 227.1L638.2 228.2ZM695.0 115.1L697.1 111.8L701.8 111.5L707.7 117.0L707.7 117.7L700.7 122.7ZM726.3 115.7L731.0 119.8L729.5 126.4L721.0 126.7L718.9 125.0L718.4 123.0ZM582.5 237.4L584.9 232.5L593.8 231.2L595.3 233.1L594.8 242.2L587.3 242.6ZM685.1 221.9L686.0 219.9L691.6 218.2L694.3 221.2L693.8 225.1L687.2 227.9ZM723.9 46.0L727.7 44.9L733.4 50.5L725.5 55.3L721.5 51.5L721.4 50.6ZM721.8 129.2L731.3 128.8L731.9 130.1L730.4 138.5L722.7 139.4ZM650.7 169.1L656.4 166.8L658.2 174.0L653.6 177.1L649.4 175.9ZM726.8 58.3L735.8 52.8L738.0 52.9L741.4 57.5L737.0 65.5L727.7 64.0L727.4 63.7ZM727.3 66.3L737.0 67.8L738.0 70.0L736.3 76.3L730.5 77.7L727.0 74.6ZM733.7 130.7L742.5 132.7L743.7 135.0L741.0 140.0L733.8 139.8L732.4 138.4ZM708.3 103.7L714.3 104.5L715.4 108.2L710.7 115.5L704.5 109.6ZM685.4 75.6L688.0 73.1L696.3 74.9L693.1 83.7L689.2 84.6ZM743.6 89.2L744.8 86.8L750.2 84.8L755.9 89.1L752.0 98.6L744.6 95.1ZM744.2 57.9L749.6 58.5L751.7 71.2L751.4 71.5L740.6 68.5L739.6 66.3ZM732.3 37.2L738.8 35.8L742.9 40.0L739.2 48.7L736.9 48.7L730.1 41.9ZM739.9 28.9L745.5 26.4L751.5 30.6L751.9 32.0L745.9 38.5L743.5 38.9L739.5 34.8ZM720.2 78.9L724.9 76.5L727.8 79.1L726.5 86.1L726.0 86.5L721.2 84.5ZM696.7 208.4L697.8 208.3L705.0 213.5L705.4 217.7L697.6 219.1L694.5 215.6ZM574.5 247.5L577.2 242.2L580.1 241.0L584.1 245.3L582.9 253.3L582.6 253.5ZM758.1 90.2L763.1 89.6L767.2 97.9L767.0 100.2L755.3 101.7L754.4 99.4ZM753.5 75.0L753.7 74.8L761.4 73.6L765.6 81.8L762.4 86.0L757.4 86.7L751.8 82.4ZM779.4 82.4L781.5 79.9L789.0 79.4L790.4 80.2L790.8 86.5L785.9 91.2L782.3 89.2ZM598.7 248.5L599.6 248.7L603.8 256.5L603.1 258.4L597.5 260.6L592.4 255.2ZM756.0 113.0L764.7 115.6L764.8 120.5L762.4 123.4L758.6 124.0L753.3 119.6ZM697.9 157.5L701.9 157.6L701.5 164.7L696.2 167.2L692.9 162.7ZM704.3 177.2L710.1 171.2L715.0 180.1L710.5 183.4L705.8 181.7ZM688.3 229.5L688.3 229.2L694.9 226.3L697.8 229.0L696.9 233.6L692.8 235.7ZM767.6 115.4L769.3 113.7L778.3 115.6L779.4 118.0L775.5 124.2L767.6 120.8ZM721.5 143.8L723.7 141.8L730.6 140.9L732.1 142.3L731.4 151.5L728.1 153.1L727.7 153.1L722.0 148.4ZM679.4 235.8L685.7 232.3L690.2 238.4L689.5 241.8L682.4 242.2L678.7 238.6ZM665.4 253.7L670.2 252.2L673.9 254.8L673.3 259.9L668.0 261.7L665.8 260.5ZM703.5 156.8L704.6 156.0L709.4 156.9L712.5 164.7L709.1 167.7L703.1 164.5ZM763.3 71.9L765.3 68.3L775.3 68.9L777.3 77.1L774.8 80.1L767.7 80.6ZM744.4 141.9L747.0 137.0L752.3 137.6L754.9 140.4L754.6 145.1L746.9 147.9ZM722.3 183.1L723.5 182.2L730.3 183.3L732.0 186.9L730.2 190.5L729.5 190.8L724.1 189.1ZM768.4 57.1L775.7 58.3L777.5 61.1L774.4 65.7L766.4 65.2L765.9 62.3ZM718.3 196.6L723.3 192.0L730.0 194.1L725.8 203.5L719.1 203.2ZM759.0 139.8L765.9 137.6L767.0 138.0L767.1 145.5L760.9 146.5L758.7 144.4ZM707.8 219.4L715.8 219.8L716.4 220.4L712.5 229.3L712.1 229.3L707.5 225.3ZM730.0 157.7L733.3 156.1L739.9 157.3L739.2 164.2L733.1 166.8ZM732.9 192.8L735.1 188.4L741.2 187.7L745.3 194.1L739.1 198.3ZM744.2 187.4L746.5 184.1L751.7 183.7L754.2 185.8L754.3 190.4L750.4 193.5L747.8 193.0ZM778.5 67.3L782.0 62.0L787.3 62.7L787.4 62.9L788.4 74.5L780.3 75.0ZM786.3 96.1L792.7 100.8L790.6 107.3L784.2 105.8L783.0 103.9ZM733.7 169.4L734.0 168.9L740.0 166.4L743.7 169.8L741.2 174.2L736.3 174.3ZM708.2 239.6L713.0 235.2L713.4 235.2L714.0 235.6L717.2 243.6L716.7 244.7L708.2 246.5ZM758.0 49.3L758.2 49.3L765.8 53.6L766.1 54.1L763.3 59.9L753.3 56.2ZM783.3 108.7L789.7 110.3L790.6 111.6L790.1 118.1L788.9 119.3L781.5 117.1L780.6 115.0ZM736.1 177.2L741.3 177.1L743.8 181.7L741.4 185.1L736.0 185.7L734.1 181.6ZM741.6 221.2L742.6 219.5L750.4 217.0L754.0 221.5L751.2 227.1L741.6 222.7ZM752.1 195.7L756.6 192.1L763.3 195.4L761.5 204.6L760.9 205.1L754.3 205.3L754.1 205.1ZM783.8 48.0L784.5 47.9L792.7 51.7L792.9 52.2L788.2 59.7L783.4 59.0L781.6 55.9ZM742.8 175.4L745.5 170.8L748.6 170.5L751.1 172.6L750.7 179.8L745.4 180.1ZM759.4 21.7L768.4 28.6L768.5 29.0L762.9 35.1L754.9 31.1L754.5 29.7ZM754.4 209.2L760.4 209.1L763.2 218.9L756.7 220.2L753.1 215.8ZM792.2 36.4L793.0 36.2L797.1 38.7L797.7 40.2L794.7 49.2L785.0 44.7ZM799.5 42.1L805.2 44.2L806.4 50.3L802.0 52.0L797.1 50.1L796.9 49.6ZM801.7 98.6L803.7 94.0L804.9 93.4L810.9 94.7L811.9 101.8L809.7 104.8L807.1 105.7L807.0 105.7ZM811.0 31.2L814.4 28.7L818.9 29.7L820.6 31.9L818.3 37.9L813.2 36.9ZM833.8 32.2L835.5 30.5L839.8 30.2L842.4 32.5L843.3 39.3L838.7 40.9L834.3 38.0ZM847.7 42.0L854.7 39.8L858.0 43.4L855.1 49.5L850.0 48.0ZM741.8 224.8L750.6 228.8L750.9 230.4L748.0 234.5L743.0 235.8L738.4 230.3ZM752.8 249.9L755.6 246.2L760.5 245.7L763.7 249.7L761.1 253.9L756.5 255.1ZM755.8 262.1L757.6 258.6L762.9 257.3L765.7 262.8L760.1 271.0ZM778.9 169.9L779.1 169.8L787.8 174.9L787.6 177.0L781.6 182.4L776.7 177.9ZM796.5 164.3L804.0 157.7L804.2 157.7L809.6 162.3L810.1 164.1L805.2 172.3L796.8 168.7ZM806.5 177.0L810.8 179.0L812.2 185.1L810.6 187.0L804.0 186.3L802.4 184.6ZM804.8 189.3L811.3 190.0L812.6 196.6L810.4 199.3L804.4 197.5ZM835.7 55.4L837.3 54.6L842.1 55.9L843.8 59.8L841.6 63.7L835.4 62.7ZM846.9 60.0L853.9 59.7L854.5 65.9L851.1 69.4L846.7 69.2L844.4 64.6ZM839.4 168.2L840.1 166.9L849.0 165.9L850.9 167.8L847.8 177.2L840.8 175.3ZM813.1 160.8L821.9 154.4L823.6 154.8L825.0 156.3L823.9 166.4L822.5 167.7L813.5 162.6ZM776.5 238.1L776.9 237.9L783.5 242.2L782.2 249.5L775.1 249.7L773.6 248.6ZM853.0 168.8L874.0 169.9L851.3 177.8L850.4 176.8ZM786.1 242.7L790.0 240.9L796.3 246.0L794.1 249.5L786.5 250.9L784.9 249.5ZM813.6 189.7L815.2 187.9L821.2 187.8L822.3 189.8L819.3 195.5L814.9 195.9ZM828.5 249.7L837.4 245.7L838.7 247.6L837.6 256.1L835.2 258.2L834.5 258.1ZM817.1 247.2L823.4 248.1L825.2 250.7L819.6 257.3L814.8 256.1L814.1 252.9ZM845.4 31.3L854.4 29.7L854.7 29.9L853.2 36.5L847.0 38.5L846.3 38.1ZM814.9 238.3L822.4 236.2L825.6 238.4L823.5 244.9L817.0 244.0ZM837.7 260.5L840.2 258.3L848.5 258.5L848.6 280.2ZM826.7 251.4L826.9 251.4L832.3 259.0L825.0 263.2L820.9 258.1ZM828.2 237.8L829.9 237.4L837.2 242.2L837.2 243.9L828.2 247.9L827.9 247.8L825.9 244.9ZM840.9 249.3L846.7 250.7L848.5 254.8L846.7 256.6L840.0 256.4Z"/>
<path fill="rgb(60,60,60)" stroke="rgb(60,60,60)" stroke-width="1.0" stroke-linejoin="round" d="M551.2 97.9L563.4 94.6L565.4 99.3L563.0 103.7L560.1 104.8ZM581.5 101.5L582.4 100.2L592.2 98.7L592.6 99.2L591.1 109.6L585.2 110.8L582.5 107.9ZM567.9 124.4L568.9 123.9L578.4 125.7L578.9 126.9L573.6 133.5L567.7 130.5ZM558.3 54.7L562.8 61.0L562.1 64.2L555.8 66.2L548.7 62.3ZM595.7 99.6L604.0 102.1L604.7 103.7L603.6 108.1L595.1 110.6L594.2 110.1ZM615.1 60.3L625.1 55.7L626.0 56.6L625.6 64.8L621.2 68.8L616.4 67.9ZM584.9 115.5L591.4 114.1L592.3 114.6L596.4 122.1L595.3 125.6L584.7 126.3L583.2 125.3L582.6 123.9ZM580.8 28.9L583.5 28.1L588.7 33.3L586.9 40.2L585.8 40.7L579.8 39.1L577.9 37.1ZM576.5 135.6L581.7 129.1L582.9 129.9L586.3 138.6L584.0 140.2L577.0 139.3ZM616.4 86.3L625.4 82.6L625.5 82.6L628.0 90.9L621.7 96.2L614.7 90.2ZM616.6 21.1L624.8 29.3L624.9 33.1L623.2 35.3L620.9 35.4L613.3 30.7ZM584.9 127.5L595.2 126.8L596.4 129.1L593.8 138.3L589.0 137.8ZM626.6 37.6L628.1 35.7L636.0 36.2L635.6 43.0L628.7 43.2ZM607.0 105.5L617.6 107.0L615.0 113.6L608.7 114.3L605.9 109.9ZM620.5 106.7L621.9 105.6L630.1 109.6L627.7 117.6L621.2 120.1L617.7 113.9ZM580.3 156.5L584.0 155.5L586.6 156.9L588.2 162.4L581.7 164.5L579.1 161.0ZM622.4 122.6L622.6 121.9L629.0 119.6L634.2 124.4L634.4 127.2L626.4 129.7ZM603.4 153.9L608.4 149.2L610.9 149.3L613.7 154.3L613.0 158.4L604.0 156.9ZM594.3 165.9L600.0 164.5L605.1 171.6L604.9 173.9L603.0 175.5L594.2 173.0ZM649.7 44.3L655.7 46.8L656.4 50.2L649.8 53.6L644.7 51.4L644.5 48.7ZM648.7 35.2L650.4 33.7L658.4 34.3L660.6 38.2L657.0 44.8L649.7 41.8ZM559.8 170.6L565.8 167.3L568.7 172.7L563.1 179.9L560.4 178.5ZM650.7 95.6L652.5 93.1L659.8 95.9L659.5 101.6L654.4 106.0L650.9 101.6ZM626.5 132.2L633.6 129.9L635.5 132.2L631.9 138.8L626.3 139.4L624.4 137.9ZM638.3 19.8L639.2 33.7L638.4 34.3L628.8 33.7L628.6 29.8ZM621.6 167.8L625.8 167.2L629.4 173.8L624.7 176.4L621.2 173.9ZM663.6 40.6L671.4 41.1L673.3 46.5L670.9 51.2L662.4 51.8L661.1 50.9L660.3 46.9ZM575.0 184.8L578.8 178.9L583.6 181.0L585.0 186.4L579.7 190.7L577.3 190.4ZM679.0 90.2L685.8 89.1L687.1 97.3L681.9 99.5L677.3 95.3ZM587.4 179.2L592.1 175.2L601.7 177.9L600.4 183.9L590.4 186.4L589.1 185.9ZM674.0 67.8L677.6 62.6L683.5 62.0L686.5 64.3L686.5 72.0L683.8 74.5L681.0 74.5ZM561.1 201.2L561.7 198.4L563.9 196.3L570.9 197.7L570.9 205.8L569.8 206.3L562.0 203.0ZM640.1 19.1L646.1 1.6L648.5 9.5L649.5 32.3L647.9 33.7L641.0 33.1ZM663.0 27.8L671.3 26.0L674.6 32.0L671.4 37.0L663.4 36.4L661.3 32.7ZM627.4 142.4L633.5 141.7L637.2 145.0L636.3 149.6L630.4 151.5L628.4 149.6ZM572.6 197.8L576.7 195.3L579.7 195.7L582.6 202.4L576.0 208.1L572.7 207.1ZM697.1 76.1L699.6 74.8L704.9 79.1L704.6 81.9L697.9 85.7L694.3 83.8ZM646.9 143.9L648.8 140.1L653.9 140.9L655.9 143.9L655.5 147.6L649.9 150.9ZM680.9 77.5L683.3 77.5L686.5 85.1L685.9 86.0L678.9 87.1L676.4 83.5ZM591.6 189.4L600.7 187.1L603.5 191.6L602.8 193.4L595.8 197.2ZM626.3 179.3L631.4 176.4L634.7 177.4L636.8 180.0L630.7 186.2L625.9 182.9ZM569.4 174.7L576.3 176.9L576.6 177.4L572.1 184.4L563.3 183.1L563.1 182.9ZM673.0 51.8L675.3 47.4L684.8 48.4L681.7 57.9L676.4 58.4ZM547.6 218.0L557.0 215.3L562.1 219.2L562.5 221.0L556.6 223.5ZM592.7 206.1L595.4 204.0L601.9 207.2L601.1 212.0L592.8 211.8ZM643.5 180.3L647.8 178.5L652.9 180.0L655.4 188.0L653.1 189.8L645.7 189.2ZM654.0 181.0L659.4 177.3L661.5 178.2L664.6 186.9L661.5 189.3L656.4 188.7ZM559.9 205.8L568.5 209.4L564.2 217.6L558.2 213.1ZM655.5 193.5L657.5 191.9L662.0 192.4L663.3 198.9L658.3 202.1L655.4 199.7ZM658.6 165.9L658.8 165.5L661.9 163.8L668.7 166.8L667.7 173.0L662.8 175.0L660.7 174.2ZM670.8 166.4L673.8 165.3L677.9 168.1L678.4 172.1L674.8 175.6L669.7 172.4ZM621.6 214.5L621.7 213.8L627.0 209.2L633.7 216.1L631.7 218.9L624.8 220.0ZM673.8 112.5L680.5 108.8L685.5 115.2L684.7 116.7L678.3 119.8L673.0 114.4ZM711.0 60.3L718.9 54.2L723.2 58.3L723.7 63.3L715.8 65.7L711.1 61.4ZM651.4 154.5L651.6 153.9L657.4 150.5L662.2 154.8L660.5 160.2L657.6 161.8ZM716.2 103.4L718.3 100.4L726.7 98.9L729.2 102.0L726.7 110.7L717.2 107.1ZM694.8 101.0L700.4 97.1L703.4 97.8L706.1 102.3L702.4 108.1L697.6 108.4ZM702.2 123.4L709.1 118.5L714.0 122.4L714.5 124.5L709.0 129.5L704.2 128.6L701.8 125.2ZM672.3 202.4L678.2 197.5L683.1 204.4L680.4 208.4L673.8 208.6ZM684.4 185.8L690.8 178.6L690.9 178.6L695.8 188.8L695.7 189.1L690.6 192.2L684.6 189.6ZM682.8 210.1L685.4 206.3L690.5 205.3L693.8 207.6L691.8 214.1L685.9 215.8ZM707.2 47.8L709.0 47.3L716.4 51.3L716.5 52.2L709.5 57.7L704.1 52.9ZM608.8 233.9L611.7 229.5L619.7 229.8L618.9 237.8L612.6 241.0L610.7 240.1ZM716.5 69.4L724.3 67.1L724.6 67.4L724.4 74.8L719.4 77.3L715.0 75.3ZM629.2 207.1L629.7 204.8L641.0 203.6L642.1 205.0L642.4 211.2L640.2 214.3L637.2 215.3ZM643.5 195.1L645.6 192.3L652.1 192.8L652.0 199.3L644.6 201.2L643.6 200.0ZM558.2 226.6L564.2 224.0L565.3 225.0L565.0 231.7L560.0 234.7L557.2 231.4ZM735.6 119.8L739.2 118.9L746.6 123.1L744.5 130.9L734.6 128.6L734.0 127.4ZM643.2 216.5L645.1 213.8L654.6 215.0L655.0 221.3L649.4 224.0ZM673.2 144.0L681.0 143.5L684.2 147.7L681.4 152.2L676.6 153.1L672.9 149.9ZM636.1 233.0L637.2 230.5L646.7 229.2L648.5 237.0L647.0 239.9L642.4 240.9ZM629.3 165.5L631.2 163.4L638.5 164.6L635.8 172.9L632.8 172.0ZM740.6 71.6L749.2 73.9L747.7 80.1L743.3 81.7L739.3 76.6ZM596.7 233.6L605.5 235.1L607.4 241.3L599.9 245.8L598.9 245.6L596.2 242.5ZM671.8 211.5L672.3 210.7L679.5 210.5L683.2 217.1L682.2 219.6L671.8 220.9ZM726.7 29.4L731.2 21.9L738.2 28.3L737.9 34.0L731.7 35.3ZM691.4 147.1L697.1 141.8L699.4 141.8L702.6 144.2L703.0 152.5L701.8 153.4L697.1 153.3ZM654.8 251.4L658.8 251.5L661.3 253.4L661.7 260.2L657.3 261.8L651.8 259.7L651.0 258.2ZM627.6 249.0L628.8 245.8L629.1 245.6L638.0 248.2L637.8 255.4L635.8 256.7L631.9 256.3ZM586.7 245.6L592.8 245.3L595.0 247.9L589.6 253.7L585.6 253.5ZM770.1 97.3L779.5 91.2L783.7 93.6L783.8 94.0L780.1 103.0L770.9 101.4L769.8 99.7ZM683.9 153.7L687.1 148.5L689.7 148.4L695.5 154.6L689.4 161.0L688.4 160.7ZM617.5 253.4L624.6 250.0L628.6 256.8L622.2 260.9L620.8 260.2ZM673.2 241.5L676.4 239.9L680.7 244.1L679.5 250.0L675.7 251.9L671.4 248.8ZM752.6 59.9L752.8 59.8L762.0 63.2L762.5 66.3L760.9 69.2L754.3 70.3ZM677.5 253.6L681.2 251.8L688.5 256.7L688.4 257.2L680.2 261.5L676.9 259.3ZM805.4 77.8L812.8 78.0L813.8 89.2L812.2 90.7L805.1 89.2ZM568.5 250.2L572.4 248.1L582.2 255.4L580.2 259.2L571.4 261.5L570.7 261.0ZM704.1 132.8L708.8 133.6L711.1 140.5L704.1 142.8L701.1 140.5ZM763.8 40.7L768.3 45.4L766.2 51.8L759.3 47.9ZM693.1 246.3L702.6 250.6L702.4 252.7L700.4 255.3L691.4 255.9ZM731.6 195.1L732.5 194.8L737.9 199.7L737.7 204.3L730.7 205.8L727.9 203.3ZM748.9 151.1L756.4 148.4L758.6 150.6L758.3 157.6L753.6 158.4L747.9 153.9ZM733.6 141.8L741.4 142.0L744.2 148.7L743.0 151.9L740.4 153.4L732.8 152.0ZM741.2 200.3L746.7 196.6L749.4 197.1L751.1 205.4L741.8 205.6L741.1 205.0ZM726.3 220.8L730.3 217.4L737.9 221.2L738.0 222.5L734.7 227.9L730.9 228.4ZM695.0 239.7L699.8 237.3L705.9 240.0L705.9 248.0L705.3 248.9L694.2 243.9L694.1 243.7ZM804.8 67.3L804.8 67.2L812.7 64.9L814.7 72.8L812.6 74.2L806.4 74.0L804.8 72.7ZM771.7 104.5L780.8 106.1L782.1 108.2L779.1 115.1L770.1 113.2ZM780.9 120.0L788.5 122.3L787.8 129.0L780.9 132.4L779.2 131.6L777.3 125.6ZM730.7 234.9L731.6 234.0L735.4 233.5L739.9 238.8L738.9 242.3L733.2 244.4L729.7 240.4ZM690.8 258.9L691.0 258.3L691.2 258.1L701.6 257.4L702.1 263.1L693.9 269.8ZM790.3 62.9L800.3 66.1L800.2 72.0L792.7 74.6L791.3 73.8ZM795.7 51.9L801.3 54.1L801.3 64.0L801.3 64.1L790.4 60.6L790.3 60.4ZM787.8 94.2L787.7 93.8L792.6 89.1L799.8 92.5L797.7 97.5L794.0 98.8ZM722.3 253.1L729.4 254.8L729.8 255.7L725.8 263.7L718.7 260.7L718.4 259.5ZM769.7 138.9L776.4 136.9L778.0 137.6L779.2 143.5L778.4 145.0L771.5 147.8L769.8 146.5ZM772.3 45.1L778.5 44.3L780.2 45.7L778.0 53.5L770.3 52.3L770.1 51.7ZM754.7 172.5L763.5 171.3L764.9 178.7L757.1 182.8L754.2 180.5ZM757.1 185.3L765.1 181.1L766.6 182.0L768.6 191.1L767.8 192.6L764.0 194.0L757.3 190.7ZM770.2 193.7L770.9 192.3L780.0 189.3L780.6 190.4L778.4 200.8L777.2 201.3ZM742.0 208.2L750.7 208.0L750.9 208.1L749.7 214.2L742.8 216.4ZM734.5 248.1L740.6 245.9L743.8 251.2L740.8 257.2L733.3 254.1L732.9 253.2ZM783.1 146.8L783.9 145.3L792.5 147.2L792.7 148.1L787.3 155.7L785.5 155.7ZM782.1 136.5L789.0 133.0L792.6 135.3L794.0 142.7L792.8 144.8L783.4 142.8ZM757.4 222.7L763.1 221.5L764.5 222.2L765.4 223.6L764.2 230.9L762.6 231.9L755.3 229.2L755.0 227.6ZM708.9 250.7L709.5 249.9L717.6 248.1L719.5 251.9L716.2 257.4L708.7 252.7ZM827.7 68.4L829.8 68.4L832.2 75.9L828.3 81.9L828.0 82.0L820.6 75.2ZM820.8 44.7L824.4 46.6L826.1 50.8L820.3 56.7L817.5 56.9L813.9 52.0ZM832.5 40.2L837.3 43.4L835.4 50.8L833.4 51.8L828.1 49.8L826.3 45.4ZM792.8 122.8L794.1 121.6L804.0 123.1L801.4 130.0L795.7 131.7L792.2 129.4ZM778.7 32.2L782.6 30.3L790.0 34.2L783.2 42.1L782.4 42.2L780.5 40.8ZM730.7 256.5L738.1 259.6L738.3 260.2L729.7 270.7L727.0 263.8ZM815.4 93.4L816.8 92.2L823.2 91.2L825.8 96.3L824.0 100.8L816.4 100.5ZM796.7 146.3L797.7 144.5L805.3 142.8L807.7 146.3L803.6 153.0L803.4 153.0L796.9 147.2ZM806.6 123.3L806.8 123.2L812.7 125.7L813.1 130.9L808.5 134.7L804.0 130.1ZM742.8 243.0L743.9 238.9L749.7 237.5L754.5 244.2L751.2 248.5L746.4 248.9ZM781.7 162.5L785.1 160.3L787.0 160.3L792.8 164.3L793.1 168.1L789.1 172.1L781.1 167.4ZM838.5 86.6L843.1 83.7L848.5 86.9L849.1 89.9L841.1 94.5L839.6 93.4ZM791.4 175.4L796.2 170.6L804.8 174.2L805.4 175.5L800.5 184.4L798.0 184.3L791.3 177.8ZM813.3 166.4L820.7 170.6L820.4 173.1L813.8 176.1L809.8 174.3L809.3 173.2ZM797.7 20.2L804.6 29.8L798.7 35.4L795.1 33.3ZM844.7 53.5L848.7 49.4L853.3 50.8L855.5 54.7L853.1 57.5L846.6 57.8ZM774.5 252.7L781.6 252.6L783.4 254.0L783.5 261.0L775.4 263.6L774.8 262.8ZM830.7 144.6L833.0 144.6L837.1 151.8L834.7 155.3L827.0 154.4L825.8 153.2ZM822.7 33.1L830.2 32.9L830.7 38.8L824.9 43.7L821.4 41.8L820.3 39.6ZM796.7 133.7L802.1 132.1L806.4 136.6L806.1 138.9L798.0 140.6ZM832.9 67.7L835.0 65.9L842.3 67.1L844.7 71.7L842.5 75.2L835.2 75.0ZM837.8 141.8L841.4 137.9L843.1 138.0L849.7 143.6L848.2 148.2L841.8 148.7ZM826.3 157.8L835.6 158.9L837.0 166.3L836.2 167.7L825.2 168.1ZM842.3 97.9L851.1 92.9L853.9 95.0L851.5 105.5L850.5 106.3L843.1 102.9ZM794.3 194.2L798.7 189.0L800.7 189.1L802.3 190.7L801.9 198.7L797.6 200.5L795.4 200.1ZM815.8 127.1L820.7 124.6L825.0 127.8L822.9 135.2L822.2 135.3L816.1 131.9ZM839.2 158.0L841.8 154.3L848.8 153.8L849.6 154.9L848.6 163.5L840.3 164.4ZM812.3 202.6L814.9 199.5L820.3 199.0L826.0 204.3L821.9 211.2L813.6 209.2ZM851.8 130.3L853.4 131.5L853.5 140.5L851.2 142.3L844.3 136.4ZM826.0 191.3L830.9 193.0L830.4 200.9L827.7 201.7L822.9 197.2ZM828.1 206.6L830.8 205.7L835.3 207.4L834.3 215.6L833.3 216.2L824.5 212.6L824.5 212.5ZM850.8 185.3L856.6 191.0L851.1 195.6L847.0 194.2L846.3 192.8ZM823.3 214.0L832.7 217.9L830.7 223.4L823.6 223.2L822.5 222.2ZM838.7 207.3L839.4 207.0L846.2 209.9L845.2 217.1L844.2 217.9L837.6 216.0ZM845.6 197.6L849.9 199.0L852.2 204.2L851.6 206.0L848.2 207.6L841.6 204.7ZM843.9 119.1L850.2 113.7L854.1 118.5L851.8 125.7L844.6 121.6ZM847.7 221.1L848.6 220.3L854.5 220.5L858.1 226.8L853.8 228.9L847.9 225.1Z"/>
<path fill="rgb(74,74,74)" stroke="rgb(74,74,74)" stroke-width="1.0" stroke-linejoin="round" d="M581.2 89.4L591.9 89.8L592.5 90.3L592.0 96.7L582.3 98.2ZM564.5 61.2L572.7 56.9L574.8 58.4L573.5 68.6L569.6 70.4L563.8 64.4ZM556.6 83.7L562.8 91.6L562.8 91.7L552.0 94.7L536.2 91.6ZM590.3 59.8L597.3 54.4L601.9 59.8L599.5 64.0L591.4 63.1ZM604.5 60.2L609.6 59.2L611.8 61.0L613.1 68.3L611.7 69.3L603.3 67.3L602.0 64.5ZM565.4 105.6L567.9 100.9L577.0 102.0L578.1 109.0L570.0 111.0ZM590.3 34.0L597.7 30.7L598.4 30.9L602.3 35.1L602.3 35.4L593.8 42.7L588.4 41.3ZM567.2 28.3L571.4 23.4L577.8 28.2L575.0 36.4L570.6 36.1ZM607.0 35.7L607.0 35.5L612.5 32.7L619.6 37.1L612.3 44.1L611.9 44.2L610.9 43.6ZM596.0 113.4L604.0 111.1L606.6 115.2L605.4 118.0L599.5 119.9ZM585.2 26.9L589.5 20.7L595.8 28.7L589.7 31.4ZM620.7 38.9L623.0 38.8L625.4 45.4L623.4 50.5L613.0 46.4ZM608.5 119.2L609.7 116.2L615.9 115.5L619.0 121.0L618.8 121.6L612.3 125.8ZM581.5 168.1L588.8 165.7L590.2 166.7L590.1 173.7L585.8 177.3L580.3 174.9L580.0 174.5ZM643.2 119.1L644.0 119.1L647.4 126.0L644.5 131.2L639.3 130.0L637.3 127.7L637.2 125.1ZM638.5 132.9L644.3 134.2L646.5 137.8L644.2 142.4L638.4 144.3L634.3 140.6ZM655.0 67.8L661.3 63.8L667.1 67.3L664.8 70.8L657.6 72.5L656.2 71.5ZM612.7 129.2L619.5 124.9L623.4 131.7L621.2 138.0L617.9 138.1L611.9 132.5L611.8 131.8ZM666.3 87.2L670.7 84.7L673.9 85.6L676.6 89.6L674.7 95.5L673.4 95.8L666.3 92.9ZM589.7 156.1L595.9 152.6L600.2 155.2L600.8 158.4L598.9 162.0L593.0 163.5L591.5 162.4ZM640.7 165.5L641.2 165.3L646.9 168.8L645.4 176.2L641.5 177.8L639.9 177.3L637.7 174.7ZM688.3 65.4L693.5 64.7L697.3 71.0L697.2 71.8L695.0 73.0L688.3 71.6ZM688.3 118.8L689.0 117.4L693.0 116.1L698.0 122.6L697.7 124.2L691.4 126.3ZM639.3 145.9L644.4 144.1L647.6 151.5L647.4 152.1L643.0 154.2L638.4 150.3ZM642.6 83.1L643.6 83.3L649.4 89.8L649.4 91.4L647.5 93.9L637.5 92.7L637.2 92.3ZM577.5 208.7L583.3 203.7L588.1 205.8L588.3 212.0L587.9 212.6L581.1 214.6ZM606.6 207.6L609.9 205.2L611.5 205.4L617.1 212.5L616.9 213.2L608.3 216.6L605.8 213.0ZM662.3 95.8L664.8 93.9L671.3 96.6L667.3 102.2L662.0 101.3ZM687.7 50.2L688.0 50.0L696.1 54.5L692.6 60.1L687.3 60.9L684.8 59.0ZM592.1 215.3L592.5 214.6L602.4 214.9L605.1 218.7L604.9 219.4L595.5 224.5ZM709.9 64.1L714.2 68.1L712.8 73.7L708.9 75.5L703.8 71.4L703.8 70.6ZM659.9 144.4L669.6 143.4L670.1 144.0L669.7 150.3L664.5 152.9L659.4 148.4ZM706.7 96.0L712.0 91.2L713.0 91.5L715.8 98.0L714.0 100.6L709.0 99.9ZM632.7 187.5L638.4 181.8L639.9 182.3L641.7 189.7L639.7 192.3L632.8 189.9ZM699.3 88.0L707.0 83.6L710.5 89.5L704.1 95.2L701.0 94.5ZM679.8 196.8L679.9 196.2L684.1 193.0L689.1 195.1L689.1 202.0L684.3 202.9ZM688.9 88.6L689.5 87.8L692.7 87.1L696.1 88.9L697.5 94.3L692.7 97.7L690.1 96.8ZM690.8 42.5L696.6 37.7L703.4 45.5L699.7 51.3L698.9 51.5L689.8 46.5ZM664.4 191.0L667.0 188.9L668.7 188.8L674.5 194.1L674.4 194.8L669.2 199.1L665.7 197.5ZM729.7 91.6L730.2 91.2L739.3 90.4L740.1 95.5L735.7 99.5L731.6 99.7L729.5 97.1ZM596.9 225.5L604.8 221.2L607.2 227.2L604.7 230.8L597.4 229.6L596.1 228.1ZM704.8 28.5L711.2 20.9L717.8 30.4L716.1 33.0L712.2 34.3ZM714.9 91.3L721.0 88.7L726.6 91.1L726.4 97.4L718.2 98.9ZM664.5 155.4L670.0 152.7L674.2 156.2L672.6 163.1L669.5 164.3L662.6 161.3ZM732.5 103.4L737.3 103.1L742.4 109.5L738.7 115.8L735.2 116.7L730.0 112.2L730.0 112.0ZM645.3 204.3L652.8 202.5L655.9 205.0L655.8 210.7L655.5 211.1L645.6 209.9ZM719.4 34.6L721.0 32.0L725.1 30.7L730.0 36.4L728.0 40.8L723.7 42.1ZM624.0 223.7L632.5 222.4L635.0 230.1L633.9 232.6L630.5 234.0L622.2 228.5ZM713.2 37.2L717.3 35.9L721.9 44.1L718.9 49.6L709.6 44.4ZM659.6 213.9L659.9 213.5L669.5 212.6L669.6 220.6L668.3 222.3L664.5 223.2L660.0 220.3ZM692.5 193.6L697.6 190.6L703.0 195.9L702.8 198.8L697.4 204.2L696.3 204.4L692.5 201.8ZM558.7 240.7L563.4 247.6L557.2 250.4L551.4 246.0ZM677.2 156.1L682.3 155.2L686.4 161.6L679.9 165.6L675.7 162.8ZM649.9 229.6L650.9 227.8L657.0 224.9L661.8 228.1L660.2 235.0L651.6 236.8ZM680.8 167.5L687.4 163.4L688.3 163.7L692.0 168.7L691.3 172.9L689.6 174.6L689.5 174.7L681.3 171.5ZM731.4 79.0L737.2 77.5L742.3 84.0L740.9 86.4L729.9 87.4ZM600.6 248.4L608.1 244.0L610.0 244.8L613.3 252.7L604.9 256.4ZM698.4 188.9L704.8 184.1L709.5 185.8L709.6 190.8L703.6 194.5L698.3 189.3ZM664.8 240.4L671.3 242.0L669.6 248.8L664.5 250.5L661.8 248.4ZM696.7 170.3L702.3 167.7L708.1 170.8L708.0 171.1L703.0 176.3L696.1 174.2ZM560.4 238.8L560.6 237.9L566.4 234.3L573.7 239.1L570.5 245.3L566.7 247.3L566.2 247.1ZM754.4 106.9L755.4 103.0L767.4 101.5L768.4 103.1L766.9 111.5L765.2 113.1L756.0 110.4ZM686.6 135.4L690.2 134.1L695.7 140.9L690.4 145.8L688.0 146.0L684.7 141.5ZM641.1 248.4L643.6 245.6L647.4 244.8L651.1 250.0L647.5 256.6L640.9 254.8ZM739.3 101.8L743.7 97.9L750.0 100.8L750.9 102.7L750.0 106.0L743.5 107.2ZM613.3 242.9L619.5 239.8L625.9 243.6L624.7 247.0L616.7 250.9L616.6 250.8ZM712.2 186.5L716.0 183.6L718.7 183.8L720.6 190.1L716.4 194.0L712.3 190.9ZM793.6 78.6L801.6 75.9L803.5 77.3L803.2 88.4L801.8 89.1L794.1 85.4ZM631.8 236.4L634.7 235.2L639.9 241.7L637.4 244.6L629.3 242.3ZM765.9 88.3L768.5 84.6L774.2 84.2L776.9 90.6L769.4 95.5ZM699.7 206.8L704.6 201.9L712.0 206.1L706.3 211.5ZM557.8 254.7L565.3 251.4L565.8 251.5L568.0 262.0L557.7 262.8L556.9 261.9ZM605.3 259.6L606.1 257.6L614.8 253.7L614.9 253.7L618.8 261.6L609.5 265.4ZM726.2 157.4L726.6 157.4L729.7 166.7L729.5 167.2L724.2 168.9L719.1 164.9ZM764.5 125.7L767.0 122.7L774.5 126.0L776.6 132.3L769.0 134.6L767.8 134.1ZM708.2 213.1L713.5 208.1L715.7 207.8L716.8 217.5L708.8 217.1L708.5 216.7ZM703.3 257.1L705.6 254.1L714.4 259.7L714.7 260.9L709.9 267.4L703.8 262.8ZM741.5 155.7L744.3 154.2L751.1 159.6L748.6 167.3L745.1 167.8L740.7 163.7ZM698.3 221.5L705.5 220.2L705.8 220.6L705.5 226.8L700.8 228.3L697.8 225.5ZM683.1 245.7L690.4 245.2L690.5 245.4L688.9 255.2L688.7 255.4L682.1 251.0ZM761.1 149.8L767.8 148.8L769.6 150.2L770.1 156.1L763.4 159.3L760.7 157.4ZM719.2 221.4L722.5 221.8L727.8 230.5L726.7 231.6L715.5 232.0L714.8 231.6ZM772.0 149.3L779.3 146.4L781.9 156.0L778.2 158.5L772.6 155.2ZM794.1 111.6L805.3 110.2L805.4 110.3L803.8 119.6L803.6 119.7L793.6 118.3ZM815.6 63.8L817.2 60.9L819.9 60.7L826.2 66.5L819.6 72.8L817.9 72.7ZM750.4 237.0L753.6 232.4L762.1 235.6L760.3 242.8L754.9 243.4ZM765.4 162.8L772.1 159.5L777.7 162.8L777.0 168.1L776.8 168.3L766.2 169.3ZM795.2 148.7L802.8 155.4L795.7 161.7L789.2 157.2ZM758.9 128.0L762.8 127.4L766.0 135.4L758.3 137.9L755.6 134.9ZM808.3 43.5L811.7 40.5L817.0 41.5L818.0 43.7L811.5 50.7L809.6 50.0ZM814.8 79.0L817.0 77.5L818.5 77.6L824.9 83.4L822.4 87.7L815.7 88.7ZM834.0 76.2L841.7 76.4L842.6 82.0L837.2 85.4L830.0 82.4ZM812.4 147.3L815.8 147.4L820.4 153.0L812.8 158.4L808.0 154.4ZM769.4 182.1L774.9 181.1L779.5 185.3L779.3 186.9L771.0 189.6ZM795.3 101.2L799.2 99.9L804.9 107.6L794.1 109.0L793.2 107.7ZM784.3 186.3L789.8 181.4L795.2 186.7L791.0 191.9L784.6 188.8L784.1 187.8ZM765.3 235.7L767.2 234.5L775.1 237.4L772.0 248.3L767.1 248.3L763.4 243.5ZM784.2 191.1L790.5 194.2L791.6 200.1L789.5 201.5L782.2 200.5ZM786.6 253.8L794.7 252.4L796.6 258.9L789.7 263.2L786.7 260.6ZM844.4 76.2L846.3 73.2L850.2 73.3L853.8 78.8L850.2 83.9L845.1 80.8ZM763.6 255.8L766.5 251.2L771.1 251.2L772.5 252.2L772.8 261.9L766.3 261.2ZM827.7 180.7L835.2 180.7L835.0 188.0L832.0 189.4L827.2 187.7L826.1 185.6ZM852.1 155.0L883.0 165.6L875.4 166.5L852.8 165.4L851.1 163.6ZM837.8 180.8L839.9 178.8L846.9 180.7L848.0 181.8L848.2 183.1L843.0 191.7L837.5 189.2ZM836.5 220.0L837.6 219.3L844.6 221.4L844.9 226.0L840.6 229.9L835.8 228.5L834.4 225.8ZM834.2 230.5L838.9 231.9L840.5 237.8L837.7 241.3L830.6 236.6ZM805.6 238.9L810.8 238.9L811.1 239.1L813.2 244.7L810.1 250.6L801.4 245.9ZM840.1 243.0L842.7 239.7L849.2 239.5L850.8 242.3L847.6 247.8L841.2 246.3L840.0 244.5ZM854.4 243.7L863.9 247.1L855.4 254.4L853.2 254.2L851.1 249.5ZM848.2 209.4L852.0 207.6L856.4 212.8L853.9 217.4L847.0 217.2Z"/>
<path fill="rgb(90,90,90)" stroke="rgb(90,90,90)" stroke-width="1.0" stroke-linejoin="round" d="M591.7 65.8L592.0 64.6L600.4 65.5L601.6 68.3L599.1 73.3L594.2 72.6ZM572.0 113.2L579.3 111.4L582.0 114.3L579.9 121.7L569.8 119.8ZM603.4 70.2L611.2 72.0L609.7 76.1L603.0 78.7L601.0 74.8ZM583.6 79.4L588.0 80.1L590.5 86.4L581.0 86.1L580.8 85.9ZM603.6 80.8L609.6 78.4L612.2 84.4L610.8 87.6L609.0 88.0L602.6 84.4ZM578.6 43.7L584.3 45.2L583.4 55.3L577.5 56.1L575.5 54.8L574.8 52.8ZM611.7 94.1L613.5 93.6L619.7 98.8L619.6 103.0L618.5 103.9L608.7 102.6L608.0 101.1ZM638.2 94.1L647.9 95.3L648.1 101.5L638.7 102.4ZM557.7 155.8L561.6 157.1L563.8 164.3L563.8 164.3L556.7 168.2L548.4 164.6ZM627.6 58.4L636.1 59.2L636.7 67.7L635.9 68.8L627.2 65.9ZM646.2 117.3L653.4 111.6L654.8 113.0L657.2 123.9L649.9 124.8ZM605.0 179.5L606.8 177.9L612.0 179.8L615.0 187.2L614.4 188.7L606.7 189.7L603.8 185.1ZM645.2 158.5L649.3 156.5L655.2 163.6L655.0 164.0L649.1 166.4L643.7 163.0ZM683.8 106.7L684.3 103.6L689.4 101.5L691.9 102.3L694.2 108.5L692.4 111.3L688.4 112.6ZM649.8 10.7L659.5 27.9L658.0 32.4L650.7 31.8ZM612.7 203.5L619.5 197.5L623.8 199.3L625.4 203.3L625.0 205.5L618.7 211.0ZM658.0 84.5L662.5 86.5L662.4 92.1L659.8 94.1L652.2 91.3L652.2 89.7ZM582.2 219.0L589.4 216.8L592.7 225.8L591.9 228.8L583.6 229.9L580.0 223.4ZM655.9 112.0L667.7 115.0L660.9 124.6L658.3 123.0ZM663.7 176.9L668.3 175.0L673.2 178.1L673.2 180.1L668.4 185.0L666.6 185.1ZM675.6 182.2L681.3 186.1L681.5 189.4L677.1 192.7L670.9 187.0ZM671.9 133.0L676.5 130.0L682.1 133.7L680.3 139.1L673.0 139.5L672.6 138.9ZM659.3 205.4L664.7 202.0L668.5 203.8L670.0 209.8L669.5 210.4L659.2 211.4ZM665.2 227.3L669.6 226.3L676.1 234.2L675.4 237.5L672.2 239.2L665.2 237.5L663.5 234.8ZM650.2 241.1L651.6 238.4L660.7 236.4L662.5 239.1L659.3 247.5L654.7 247.4ZM621.1 229.9L621.9 229.3L630.1 234.6L627.1 241.6L626.8 241.8L620.2 237.9ZM744.7 111.3L751.2 110.2L752.5 113.1L750.1 119.0L747.6 120.0L741.7 116.6ZM715.6 109.2L724.3 112.5L724.3 112.7L716.2 120.1L711.5 116.3L711.4 115.7ZM678.0 178.9L681.2 175.8L688.4 178.5L683.3 184.3L678.0 180.7ZM712.7 171.0L712.8 170.7L715.8 168.0L717.3 167.9L721.9 171.6L720.5 177.5L719.3 178.4L716.7 178.2ZM706.3 197.1L711.5 194.0L715.6 197.1L716.2 202.7L715.5 203.3L713.3 203.6L706.2 199.6ZM693.7 178.9L695.2 177.3L702.0 179.4L703.3 183.3L697.8 187.4ZM711.3 131.4L717.1 126.2L719.4 128.0L720.4 138.1L718.0 140.3L713.8 138.7ZM744.5 42.7L746.8 42.3L754.7 48.7L749.7 56.1L749.5 56.1L744.4 55.6L740.9 51.0ZM749.3 124.4L751.8 123.4L756.5 127.2L753.6 133.2L748.7 132.7L747.6 130.6ZM705.9 145.5L712.9 143.2L716.8 144.8L717.3 149.5L711.2 154.0L706.3 153.1ZM583.6 260.3L585.3 257.1L585.7 256.9L590.0 257.1L594.7 262.1L590.1 275.1ZM701.2 230.2L706.4 228.6L711.8 233.3L706.3 238.3L700.2 235.6ZM748.1 39.6L753.8 33.3L761.3 37.1L761.3 37.2L756.1 45.7L755.8 45.8ZM718.7 207.5L719.4 206.9L725.4 207.2L728.2 209.7L727.8 215.2L723.5 218.8L720.5 218.4L719.8 217.8ZM712.0 156.2L718.7 151.3L725.1 156.4L717.3 164.7L715.5 164.8ZM731.1 208.9L738.6 207.3L739.3 207.9L740.2 217.1L739.2 218.8L730.7 214.6ZM725.5 171.4L731.3 169.6L734.2 175.2L732.1 180.0L723.8 178.7ZM720.0 245.8L720.4 244.8L726.3 242.2L729.8 246.3L728.3 251.2L722.0 249.7ZM753.9 161.2L758.9 160.3L761.6 162.2L762.4 168.8L762.2 169.2L754.2 170.3L751.6 168.1ZM766.4 171.9L766.6 171.6L776.5 170.6L774.4 178.0L768.8 179.0L767.6 178.2ZM804.5 56.2L808.9 54.5L810.7 55.1L813.9 59.5L812.5 62.2L804.4 64.7ZM765.5 37.0L765.5 36.9L770.9 31.0L776.4 33.0L778.2 41.8L771.0 42.7ZM764.9 196.4L767.9 195.2L774.2 202.2L772.8 204.4L763.4 203.9ZM809.6 112.4L812.2 111.4L818.8 118.2L818.8 120.6L813.7 123.3L808.2 120.9ZM746.0 252.5L750.7 252.1L754.7 257.9L752.9 261.2L745.8 261.7L743.0 259.5L742.8 258.9ZM820.3 57.6L826.5 51.2L831.9 53.2L831.6 62.2L829.4 64.0L827.3 64.0ZM792.1 3.2L795.5 18.8L792.6 33.4L791.8 33.5L784.0 29.4ZM813.5 108.4L816.3 104.8L825.3 105.2L828.0 109.6L821.2 116.3ZM813.7 178.3L821.2 174.9L823.9 179.4L822.2 184.8L815.2 184.9ZM825.0 170.6L826.2 169.5L835.7 169.2L837.0 175.7L835.1 177.6L827.2 177.6L824.7 173.4ZM716.3 233.5L727.3 233.2L726.2 239.3L719.7 242.2ZM840.4 44.5L844.9 42.9L845.6 43.4L847.6 48.6L843.7 52.5L838.7 51.1ZM795.8 252.1L798.3 248.1L798.7 248.0L808.8 253.4L809.6 257.2L807.7 259.2L801.4 260.8L797.9 258.8ZM815.4 227.0L821.0 226.0L821.9 226.9L821.6 232.9L814.7 234.9L814.4 234.7ZM823.7 225.7L830.3 225.9L831.5 228.3L828.1 233.8L826.6 234.1L823.4 232.0ZM833.2 192.5L836.6 190.8L842.1 193.4L842.9 195.1L838.5 203.1L837.7 203.3L832.6 201.5ZM806.1 31.6L808.2 31.9L810.8 38.4L806.9 41.8L800.1 39.4L799.4 37.9ZM841.8 230.9L845.8 227.3L852.1 231.4L850.0 236.4L843.4 236.7Z"/>
</g>
<rect x="560" y="30" width="292" height="230" filter="url(#nz1)"/>
<ellipse cx="650" cy="78" rx="15" ry="12" fill="#626262" stroke="#8e8e8e" stroke-width="1.2" opacity="0.92" filter="url(#b2)"/>
<ellipse cx="570" cy="145" rx="11" ry="16" fill="#626262" stroke="#8e8e8e" stroke-width="1.2" opacity="0.92" filter="url(#b2)"/>
<ellipse cx="837" cy="118" rx="11" ry="30" fill="#626262" stroke="#8e8e8e" stroke-width="1.2" opacity="0.92" filter="url(#b2)"/>
<ellipse cx="828" cy="138" rx="20" ry="9" fill="#626262" stroke="#8e8e8e" stroke-width="1.2" opacity="0.92" filter="url(#b2)"/>
<ellipse cx="793" cy="220" rx="29" ry="18" fill="#626262" stroke="#8e8e8e" stroke-width="1.2" opacity="0.92" filter="url(#b2)"/>
<ellipse cx="566" cy="45" rx="8" ry="18" fill="#626262" stroke="#8e8e8e" stroke-width="1.2" opacity="0.92" filter="url(#b2)"/>
<ellipse cx="700" cy="60" rx="5" ry="4" fill="#626262" stroke="#8e8e8e" stroke-width="1.2" opacity="0.92" filter="url(#b2)"/>
<ellipse cx="566" cy="45" rx="8" ry="18" fill="#262626" opacity="0.85" filter="url(#b2)"/>
<ellipse cx="688" cy="59" rx="3.2" ry="3.2" fill="none" stroke="rgb(133,133,133)" stroke-width="4.1" opacity="0.55" filter="url(#b1)"/>
<ellipse cx="688" cy="59" rx="3.2" ry="3.2" fill="none" stroke="rgb(215,215,215)" stroke-width="1.7" opacity="1.0" filter="url(#b06)"/>
<ellipse cx="754" cy="110" rx="5.5" ry="5.5" fill="none" stroke="rgb(127,127,127)" stroke-width="4.1" opacity="0.55" filter="url(#b1)"/>
<ellipse cx="754" cy="110" rx="5.5" ry="5.5" fill="none" stroke="rgb(205,205,205)" stroke-width="1.7" opacity="1.0" filter="url(#b06)"/>
<ellipse cx="704" cy="114" rx="4.5" ry="4.5" fill="none" stroke="rgb(108,108,108)" stroke-width="4.1" opacity="0.55" filter="url(#b1)"/>
<ellipse cx="704" cy="114" rx="4.5" ry="4.5" fill="none" stroke="rgb(175,175,175)" stroke-width="1.7" opacity="1.0" filter="url(#b06)"/>
<ellipse cx="646" cy="111.4" rx="3.5" ry="3.5" fill="none" stroke="rgb(133,133,133)" stroke-width="4.1" opacity="0.55" filter="url(#b1)"/>
<ellipse cx="646" cy="111.4" rx="3.5" ry="3.5" fill="none" stroke="rgb(215,215,215)" stroke-width="1.7" opacity="1.0" filter="url(#b06)"/>
<ellipse cx="707" cy="136" rx="3.6" ry="3.6" fill="none" stroke="rgb(120,120,120)" stroke-width="4.1" opacity="0.55" filter="url(#b1)"/>
<ellipse cx="707" cy="136" rx="3.6" ry="3.6" fill="none" stroke="rgb(195,195,195)" stroke-width="1.7" opacity="1.0" filter="url(#b06)"/>
<ellipse cx="704" cy="127.5" rx="3.2" ry="3.2" fill="none" stroke="rgb(108,108,108)" stroke-width="4.1" opacity="0.55" filter="url(#b1)"/>
<ellipse cx="704" cy="127.5" rx="3.2" ry="3.2" fill="none" stroke="rgb(175,175,175)" stroke-width="1.7" opacity="1.0" filter="url(#b06)"/>
<ellipse cx="618" cy="142" rx="5.5" ry="5.5" fill="none" stroke="rgb(93,93,93)" stroke-width="4.1" opacity="0.55" filter="url(#b1)"/>
<ellipse cx="618" cy="142" rx="5.5" ry="5.5" fill="none" stroke="rgb(150,150,150)" stroke-width="1.7" opacity="1.0" filter="url(#b06)"/>
<ellipse cx="605" cy="206" rx="6.5" ry="6.5" fill="none" stroke="rgb(120,120,120)" stroke-width="4.1" opacity="0.55" filter="url(#b1)"/>
<ellipse cx="605" cy="206" rx="6.5" ry="6.5" fill="none" stroke="rgb(195,195,195)" stroke-width="1.7" opacity="1.0" filter="url(#b06)"/>
<ellipse cx="691" cy="193" rx="4.8" ry="4.8" fill="none" stroke="rgb(139,139,139)" stroke-width="4.1" opacity="0.55" filter="url(#b1)"/>
<ellipse cx="691" cy="193" rx="4.8" ry="4.8" fill="none" stroke="rgb(225,225,225)" stroke-width="1.7" opacity="1.0" filter="url(#b06)"/>
<ellipse cx="806.5" cy="227" rx="4.6" ry="4.6" fill="none" stroke="rgb(127,127,127)" stroke-width="4.1" opacity="0.55" filter="url(#b1)"/>
<ellipse cx="806.5" cy="227" rx="4.6" ry="4.6" fill="none" stroke="rgb(205,205,205)" stroke-width="1.7" opacity="1.0" filter="url(#b06)"/>
<ellipse cx="570" cy="228" rx="3.5" ry="3.5" fill="none" stroke="rgb(108,108,108)" stroke-width="4.1" opacity="0.55" filter="url(#b1)"/>
<ellipse cx="570" cy="228" rx="3.5" ry="3.5" fill="none" stroke="rgb(175,175,175)" stroke-width="1.7" opacity="1.0" filter="url(#b06)"/>
<ellipse cx="827" cy="244" rx="4" ry="4" fill="none" stroke="rgb(102,102,102)" stroke-width="4.1" opacity="0.55" filter="url(#b1)"/>
<ellipse cx="827" cy="244" rx="4" ry="4" fill="none" stroke="rgb(165,165,165)" stroke-width="1.7" opacity="1.0" filter="url(#b06)"/>
<ellipse cx="700" cy="150" rx="3" ry="3" fill="none" stroke="rgb(96,96,96)" stroke-width="4.1" opacity="0.55" filter="url(#b1)"/>
<ellipse cx="700" cy="150" rx="3" ry="3" fill="none" stroke="rgb(155,155,155)" stroke-width="1.7" opacity="1.0" filter="url(#b06)"/>
<ellipse cx="694" cy="145" rx="3" ry="3" fill="none" stroke="rgb(96,96,96)" stroke-width="4.1" opacity="0.55" filter="url(#b1)"/>
<ellipse cx="694" cy="145" rx="3" ry="3" fill="none" stroke="rgb(155,155,155)" stroke-width="1.7" opacity="1.0" filter="url(#b06)"/>
<ellipse cx="722" cy="143" rx="2.8" ry="2.8" fill="none" stroke="rgb(102,102,102)" stroke-width="4.1" opacity="0.55" filter="url(#b1)"/>
<ellipse cx="722" cy="143" rx="2.8" ry="2.8" fill="none" stroke="rgb(165,165,165)" stroke-width="1.7" opacity="1.0" filter="url(#b06)"/>
<ellipse cx="681" cy="130" rx="3" ry="3" fill="none" stroke="rgb(93,93,93)" stroke-width="4.1" opacity="0.55" filter="url(#b1)"/>
<ellipse cx="681" cy="130" rx="3" ry="3" fill="none" stroke="rgb(150,150,150)" stroke-width="1.7" opacity="1.0" filter="url(#b06)"/>
<circle cx="600.5" cy="174.0" r="2.6" fill="rgb(238,238,238)" opacity="1.0" filter="url(#b06)"/>
<circle cx="790.0" cy="107.0" r="2.4" fill="rgb(238,238,238)" opacity="1.0" filter="url(#b06)"/>
<circle cx="755.0" cy="86.6" r="2.2" fill="rgb(238,238,238)" opacity="1.0" filter="url(#b06)"/>
<circle cx="793.0" cy="44.0" r="1.8" fill="rgb(238,238,238)" opacity="1.0" filter="url(#b06)"/>
<circle cx="632.6" cy="180.0" r="2.2" fill="rgb(238,238,238)" opacity="1.0" filter="url(#b06)"/>
<circle cx="783.0" cy="161.0" r="1.6" fill="rgb(238,238,238)" opacity="1.0" filter="url(#b06)"/>
<circle cx="664.0" cy="103.0" r="1.6" fill="rgb(238,238,238)" opacity="1.0" filter="url(#b06)"/>
<circle cx="650.0" cy="134.0" r="2" fill="rgb(238,238,238)" opacity="1.0" filter="url(#b06)"/>
<circle cx="686.0" cy="67.0" r="1.6" fill="rgb(238,238,238)" opacity="1.0" filter="url(#b06)"/>
<circle cx="603.0" cy="202.0" r="1.8" fill="rgb(238,238,238)" opacity="1.0" filter="url(#b06)"/>
<circle cx="690.0" cy="190.0" r="1.6" fill="rgb(238,238,238)" opacity="1.0" filter="url(#b06)"/>
<circle cx="808.0" cy="226.0" r="1.6" fill="rgb(238,238,238)" opacity="1.0" filter="url(#b06)"/>
<circle cx="762.0" cy="55.0" r="1.2" fill="rgb(238,238,238)" opacity="1.0" filter="url(#b06)"/>
<circle cx="599.0" cy="80.0" r="1.4" fill="rgb(238,238,238)" opacity="1.0" filter="url(#b06)"/>
<circle cx="735.0" cy="170.0" r="1.3" fill="rgb(238,238,238)" opacity="1.0" filter="url(#b06)"/>
<path d="M646 66 Q652 60 660 66" fill="none" stroke="#ddd" stroke-width="2" filter="url(#b06)"/>
</g>
<text transform="translate(576.75 58.75) scale(1.0097 1)" font-size="20" font-weight="bold" fill="#f5f016" font-family='"Liberation Sans", Arial, sans-serif' >HM 0</text>
<rect x="564" y="245.4" width="67.8" height="10.5" fill="#000"/>
<text transform="translate(574 252.9) scale(0.9109 1)" font-size="13" font-weight="bold" fill="#fff" font-family='"Liberation Sans", Arial, sans-serif' >180 µm</text>
<g clip-path="url(#c2)">
<rect x="855" y="30" width="292" height="230" fill="#404040"/>
<rect x="855" y="30" width="292" height="230" filter="url(#tex2)" opacity="0.55"/>
<polygon points="1018,46 1030,38 1052,40 1066,58 1062,80 1056,98 1040,103 1026,90 1020,70" fill="#454545" stroke="#7e7e7e" stroke-width="3.4" stroke-linejoin="round" filter="url(#b2)"/>
<polygon points="1018,46 1030,38 1052,40 1066,58 1062,80 1056,98 1040,103 1026,90 1020,70" fill="none" stroke="#9a9a9a" stroke-width="1.3" stroke-linejoin="round" filter="url(#b1)"/>
<polygon points="1024.5,52.5 1033.1,46.7 1049.0,48.2 1059.0,61.1 1056.2,77.0 1051.8,89.9 1040.3,93.5 1030.2,84.2 1025.9,69.8" fill="#303030" filter="url(#b2)"/>
<line x1="1037.0" y1="48.1" x2="1041.5" y2="49.0" stroke="rgb(130,130,130)" stroke-width="1.2" opacity="0.8" filter="url(#b06)"/>
<line x1="1028.7" y1="72.9" x2="1031.0" y2="75.7" stroke="rgb(110,110,110)" stroke-width="1.2" opacity="0.8" filter="url(#b06)"/>
<line x1="1030.5" y1="55.7" x2="1034.1" y2="57.7" stroke="rgb(150,150,150)" stroke-width="1.2" opacity="0.8" filter="url(#b06)"/>
<line x1="1034.2" y1="63.2" x2="1037.0" y2="66.0" stroke="rgb(130,130,130)" stroke-width="1.2" opacity="0.8" filter="url(#b06)"/>
<line x1="1037.9" y1="76.9" x2="1038.7" y2="80.5" stroke="rgb(130,130,130)" stroke-width="1.2" opacity="0.8" filter="url(#b06)"/>
<line x1="1049.1" y1="83.6" x2="1054.2" y2="86.1" stroke="rgb(110,110,110)" stroke-width="1.2" opacity="0.8" filter="url(#b06)"/>
<line x1="1037.8" y1="51.2" x2="1036.2" y2="54.9" stroke="rgb(130,130,130)" stroke-width="1.2" opacity="0.8" filter="url(#b06)"/>
<line x1="1038.9" y1="76.3" x2="1037.4" y2="79.7" stroke="rgb(130,130,130)" stroke-width="1.2" opacity="0.8" filter="url(#b06)"/>
<line x1="1047.5" y1="53.4" x2="1049.4" y2="56.6" stroke="rgb(130,130,130)" stroke-width="1.2" opacity="0.8" filter="url(#b06)"/>
<line x1="1031.7" y1="81.9" x2="1033.9" y2="85.6" stroke="rgb(130,130,130)" stroke-width="1.2" opacity="0.8" filter="url(#b06)"/>
<line x1="1047.8" y1="91.2" x2="1050.1" y2="94.2" stroke="rgb(130,130,130)" stroke-width="1.2" opacity="0.8" filter="url(#b06)"/>
<line x1="1032.0" y1="54.3" x2="1030.9" y2="57.7" stroke="rgb(150,150,150)" stroke-width="1.2" opacity="0.8" filter="url(#b06)"/>
<line x1="1035.4" y1="56.9" x2="1042.0" y2="59.0" stroke="rgb(130,130,130)" stroke-width="1.2" opacity="0.8" filter="url(#b06)"/>
<line x1="1047.1" y1="73.5" x2="1046.0" y2="77.6" stroke="rgb(110,110,110)" stroke-width="1.2" opacity="0.8" filter="url(#b06)"/>
<circle cx="1036.5" cy="56.2" r="0.9" fill="rgb(230,230,230)" opacity="1.0" filter="url(#b06)"/>
<circle cx="1049.2" cy="73.4" r="0.9" fill="rgb(230,230,230)" opacity="1.0" filter="url(#b06)"/>
<circle cx="1040.7" cy="80.2" r="0.9" fill="rgb(230,230,230)" opacity="1.0" filter="url(#b06)"/>
<polygon points="1062,72 1080,66 1096,74 1094,100 1090,126 1072,130 1058,118 1064,96" fill="#454545" stroke="#7e7e7e" stroke-width="3.4" stroke-linejoin="round" filter="url(#b2)"/>
<polygon points="1062,72 1080,66 1096,74 1094,100 1090,126 1072,130 1058,118 1064,96" fill="none" stroke="#9a9a9a" stroke-width="1.3" stroke-linejoin="round" filter="url(#b1)"/>
<polygon points="1066.2,79.2 1079.2,74.9 1090.7,80.7 1089.2,99.4 1086.4,118.1 1073.4,121.0 1063.3,112.3 1067.6,96.5" fill="#303030" filter="url(#b2)"/>
<line x1="1065.6" y1="78.9" x2="1066.6" y2="83.8" stroke="rgb(110,110,110)" stroke-width="1.2" opacity="0.8" filter="url(#b06)"/>
<line x1="1074.0" y1="81.9" x2="1068.1" y2="84.1" stroke="rgb(130,130,130)" stroke-width="1.2" opacity="0.8" filter="url(#b06)"/>
<line x1="1067.6" y1="99.6" x2="1064.1" y2="102.7" stroke="rgb(130,130,130)" stroke-width="1.2" opacity="0.8" filter="url(#b06)"/>
<line x1="1088.1" y1="113.7" x2="1088.1" y2="117.0" stroke="rgb(110,110,110)" stroke-width="1.2" opacity="0.8" filter="url(#b06)"/>
<line x1="1069.3" y1="96.2" x2="1065.2" y2="97.5" stroke="rgb(130,130,130)" stroke-width="1.2" opacity="0.8" filter="url(#b06)"/>
<line x1="1078.1" y1="107.9" x2="1075.8" y2="111.3" stroke="rgb(130,130,130)" stroke-width="1.2" opacity="0.8" filter="url(#b06)"/>
<line x1="1082.1" y1="102.4" x2="1077.4" y2="107.2" stroke="rgb(110,110,110)" stroke-width="1.2" opacity="0.8" filter="url(#b06)"/>
<line x1="1088.3" y1="79.5" x2="1093.1" y2="82.1" stroke="rgb(130,130,130)" stroke-width="1.2" opacity="0.8" filter="url(#b06)"/>
<line x1="1065.7" y1="109.0" x2="1069.0" y2="114.6" stroke="rgb(130,130,130)" stroke-width="1.2" opacity="0.8" filter="url(#b06)"/>
<line x1="1067.8" y1="115.5" x2="1071.1" y2="116.0" stroke="rgb(150,150,150)" stroke-width="1.2" opacity="0.8" filter="url(#b06)"/>
<line x1="1072.8" y1="114.6" x2="1068.6" y2="116.6" stroke="rgb(110,110,110)" stroke-width="1.2" opacity="0.8" filter="url(#b06)"/>
<line x1="1074.5" y1="120.9" x2="1072.0" y2="123.0" stroke="rgb(110,110,110)" stroke-width="1.2" opacity="0.8" filter="url(#b06)"/>
<line x1="1079.2" y1="89.8" x2="1084.3" y2="92.6" stroke="rgb(130,130,130)" stroke-width="1.2" opacity="0.8" filter="url(#b06)"/>
<line x1="1076.8" y1="87.7" x2="1075.9" y2="94.2" stroke="rgb(150,150,150)" stroke-width="1.2" opacity="0.8" filter="url(#b06)"/>
<circle cx="1077.1" cy="97.7" r="0.9" fill="rgb(230,230,230)" opacity="1.0" filter="url(#b06)"/>
<circle cx="1077.8" cy="99.5" r="0.9" fill="rgb(230,230,230)" opacity="1.0" filter="url(#b06)"/>
<circle cx="1077.7" cy="90.0" r="0.9" fill="rgb(230,230,230)" opacity="1.0" filter="url(#b06)"/>
<polygon points="978,186 992,175 1008,180 1014,196 1008,212 990,216 978,204" fill="#454545" stroke="#7e7e7e" stroke-width="3.4" stroke-linejoin="round" filter="url(#b2)"/>
<polygon points="978,186 992,175 1008,180 1014,196 1008,212 990,216 978,204" fill="none" stroke="#9a9a9a" stroke-width="1.3" stroke-linejoin="round" filter="url(#b1)"/>
<polygon points="982.9,188.7 993.0,180.8 1004.5,184.4 1008.8,195.9 1004.5,207.4 991.5,210.3 982.9,201.6" fill="#303030" filter="url(#b2)"/>
<line x1="1003.8" y1="194.9" x2="1007.6" y2="195.8" stroke="rgb(130,130,130)" stroke-width="1.2" opacity="0.8" filter="url(#b06)"/>
<line x1="990.8" y1="206.4" x2="985.3" y2="206.7" stroke="rgb(150,150,150)" stroke-width="1.2" opacity="0.8" filter="url(#b06)"/>
<line x1="1006.2" y1="198.3" x2="1001.2" y2="199.3" stroke="rgb(130,130,130)" stroke-width="1.2" opacity="0.8" filter="url(#b06)"/>
<line x1="1000.1" y1="193.1" x2="1005.6" y2="195.7" stroke="rgb(130,130,130)" stroke-width="1.2" opacity="0.8" filter="url(#b06)"/>
<line x1="993.6" y1="199.8" x2="990.7" y2="204.5" stroke="rgb(130,130,130)" stroke-width="1.2" opacity="0.8" filter="url(#b06)"/>
<line x1="998.7" y1="189.4" x2="997.5" y2="192.5" stroke="rgb(130,130,130)" stroke-width="1.2" opacity="0.8" filter="url(#b06)"/>
<line x1="989.9" y1="190.2" x2="995.4" y2="193.7" stroke="rgb(150,150,150)" stroke-width="1.2" opacity="0.8" filter="url(#b06)"/>
<line x1="983.7" y1="199.0" x2="983.8" y2="204.2" stroke="rgb(110,110,110)" stroke-width="1.2" opacity="0.8" filter="url(#b06)"/>
<line x1="982.2" y1="201.7" x2="979.1" y2="206.8" stroke="rgb(150,150,150)" stroke-width="1.2" opacity="0.8" filter="url(#b06)"/>
<line x1="1006.3" y1="202.1" x2="1001.2" y2="204.6" stroke="rgb(150,150,150)" stroke-width="1.2" opacity="0.8" filter="url(#b06)"/>
<line x1="986.5" y1="195.1" x2="990.0" y2="197.9" stroke="rgb(150,150,150)" stroke-width="1.2" opacity="0.8" filter="url(#b06)"/>
<line x1="989.8" y1="200.7" x2="983.2" y2="200.8" stroke="rgb(130,130,130)" stroke-width="1.2" opacity="0.8" filter="url(#b06)"/>
<line x1="989.3" y1="193.0" x2="988.2" y2="196.8" stroke="rgb(150,150,150)" stroke-width="1.2" opacity="0.8" filter="url(#b06)"/>
<line x1="994.5" y1="198.0" x2="990.6" y2="200.4" stroke="rgb(130,130,130)" stroke-width="1.2" opacity="0.8" filter="url(#b06)"/>
<circle cx="995.6" cy="195.8" r="0.9" fill="rgb(230,230,230)" opacity="1.0" filter="url(#b06)"/>
<circle cx="995.9" cy="196.1" r="0.9" fill="rgb(230,230,230)" opacity="1.0" filter="url(#b06)"/>
<circle cx="992.9" cy="205.0" r="0.9" fill="rgb(230,230,230)" opacity="1.0" filter="url(#b06)"/>
<polygon points="1046,178 1060,172 1076,180 1078,200 1066,212 1050,206" fill="#454545" stroke="#7e7e7e" stroke-width="3.4" stroke-linejoin="round" filter="url(#b2)"/>
<polygon points="1046,178 1060,172 1076,180 1078,200 1066,212 1050,206" fill="none" stroke="#9a9a9a" stroke-width="1.3" stroke-linejoin="round" filter="url(#b1)"/>
<polygon points="1050.7,181.7 1060.7,177.4 1072.3,183.2 1073.7,197.6 1065.1,206.2 1053.5,201.9" fill="#303030" filter="url(#b2)"/>
<line x1="1065.3" y1="184.5" x2="1069.2" y2="185.6" stroke="rgb(110,110,110)" stroke-width="1.2" opacity="0.8" filter="url(#b06)"/>
<line x1="1066.5" y1="191.1" x2="1065.4" y2="194.2" stroke="rgb(110,110,110)" stroke-width="1.2" opacity="0.8" filter="url(#b06)"/>
<line x1="1064.6" y1="196.8" x2="1061.4" y2="200.9" stroke="rgb(110,110,110)" stroke-width="1.2" opacity="0.8" filter="url(#b06)"/>
<line x1="1062.8" y1="178.3" x2="1065.8" y2="179.2" stroke="rgb(130,130,130)" stroke-width="1.2" opacity="0.8" filter="url(#b06)"/>
<line x1="1074.1" y1="197.7" x2="1072.3" y2="202.9" stroke="rgb(110,110,110)" stroke-width="1.2" opacity="0.8" filter="url(#b06)"/>
<line x1="1069.4" y1="198.2" x2="1063.0" y2="199.2" stroke="rgb(150,150,150)" stroke-width="1.2" opacity="0.8" filter="url(#b06)"/>
<line x1="1051.0" y1="188.5" x2="1054.3" y2="191.1" stroke="rgb(150,150,150)" stroke-width="1.2" opacity="0.8" filter="url(#b06)"/>
<line x1="1058.5" y1="199.3" x2="1054.6" y2="201.1" stroke="rgb(130,130,130)" stroke-width="1.2" opacity="0.8" filter="url(#b06)"/>
<line x1="1054.9" y1="199.0" x2="1058.5" y2="204.1" stroke="rgb(110,110,110)" stroke-width="1.2" opacity="0.8" filter="url(#b06)"/>
<line x1="1063.7" y1="191.1" x2="1061.3" y2="194.0" stroke="rgb(130,130,130)" stroke-width="1.2" opacity="0.8" filter="url(#b06)"/>
<line x1="1072.7" y1="195.5" x2="1077.8" y2="197.3" stroke="rgb(130,130,130)" stroke-width="1.2" opacity="0.8" filter="url(#b06)"/>
<line x1="1055.8" y1="197.9" x2="1050.6" y2="199.6" stroke="rgb(110,110,110)" stroke-width="1.2" opacity="0.8" filter="url(#b06)"/>
<line x1="1064.5" y1="204.1" x2="1062.8" y2="210.0" stroke="rgb(130,130,130)" stroke-width="1.2" opacity="0.8" filter="url(#b06)"/>
<line x1="1066.0" y1="185.6" x2="1060.3" y2="188.8" stroke="rgb(130,130,130)" stroke-width="1.2" opacity="0.8" filter="url(#b06)"/>
<circle cx="1057.2" cy="186.9" r="0.9" fill="rgb(230,230,230)" opacity="1.0" filter="url(#b06)"/>
<circle cx="1062.4" cy="191.6" r="0.9" fill="rgb(230,230,230)" opacity="1.0" filter="url(#b06)"/>
<circle cx="1066.2" cy="188.3" r="0.9" fill="rgb(230,230,230)" opacity="1.0" filter="url(#b06)"/>
<polygon points="856,206 876,200 892,208 908,206 914,222 904,240 888,250 866,250 856,236" fill="#454545" stroke="#7e7e7e" stroke-width="3.4" stroke-linejoin="round" filter="url(#b2)"/>
<polygon points="856,206 876,200 892,208 908,206 914,222 904,240 888,250 866,250 856,236" fill="none" stroke="#9a9a9a" stroke-width="1.3" stroke-linejoin="round" filter="url(#b1)"/>
<polygon points="864.0,211.1 878.4,206.8 889.9,212.5 901.4,211.1 905.7,222.6 898.5,235.6 887.0,242.8 871.2,242.8 864.0,232.7" fill="#303030" filter="url(#b2)"/>
<line x1="884.9" y1="227.3" x2="883.7" y2="231.1" stroke="rgb(110,110,110)" stroke-width="1.2" opacity="0.8" filter="url(#b06)"/>
<line x1="895.2" y1="216.8" x2="894.1" y2="220.2" stroke="rgb(130,130,130)" stroke-width="1.2" opacity="0.8" filter="url(#b06)"/>
<line x1="903.9" y1="225.5" x2="910.3" y2="225.5" stroke="rgb(150,150,150)" stroke-width="1.2" opacity="0.8" filter="url(#b06)"/>
<line x1="868.4" y1="212.5" x2="865.4" y2="215.7" stroke="rgb(130,130,130)" stroke-width="1.2" opacity="0.8" filter="url(#b06)"/>
<line x1="879.4" y1="208.6" x2="879.4" y2="211.9" stroke="rgb(150,150,150)" stroke-width="1.2" opacity="0.8" filter="url(#b06)"/>
<line x1="896.9" y1="221.9" x2="899.5" y2="223.5" stroke="rgb(130,130,130)" stroke-width="1.2" opacity="0.8" filter="url(#b06)"/>
<line x1="899.8" y1="220.4" x2="897.4" y2="226.2" stroke="rgb(130,130,130)" stroke-width="1.2" opacity="0.8" filter="url(#b06)"/>
<line x1="899.5" y1="210.5" x2="901.7" y2="213.1" stroke="rgb(130,130,130)" stroke-width="1.2" opacity="0.8" filter="url(#b06)"/>
<line x1="871.3" y1="214.4" x2="867.9" y2="215.3" stroke="rgb(130,130,130)" stroke-width="1.2" opacity="0.8" filter="url(#b06)"/>
<line x1="875.7" y1="222.8" x2="872.1" y2="222.9" stroke="rgb(110,110,110)" stroke-width="1.2" opacity="0.8" filter="url(#b06)"/>
<line x1="902.3" y1="215.8" x2="897.4" y2="217.9" stroke="rgb(110,110,110)" stroke-width="1.2" opacity="0.8" filter="url(#b06)"/>
<line x1="874.8" y1="216.4" x2="869.4" y2="216.7" stroke="rgb(130,130,130)" stroke-width="1.2" opacity="0.8" filter="url(#b06)"/>
<line x1="895.0" y1="213.1" x2="889.5" y2="214.5" stroke="rgb(130,130,130)" stroke-width="1.2" opacity="0.8" filter="url(#b06)"/>
<line x1="864.0" y1="223.9" x2="863.2" y2="229.0" stroke="rgb(130,130,130)" stroke-width="1.2" opacity="0.8" filter="url(#b06)"/>
<circle cx="885.8" cy="233.8" r="0.9" fill="rgb(230,230,230)" opacity="1.0" filter="url(#b06)"/>
<circle cx="873.7" cy="217.3" r="0.9" fill="rgb(230,230,230)" opacity="1.0" filter="url(#b06)"/>
<circle cx="881.9" cy="222.6" r="0.9" fill="rgb(230,230,230)" opacity="1.0" filter="url(#b06)"/>
<polygon points="856,38 872,34 886,44 890,62 876,74 858,70" fill="#454545" stroke="#7e7e7e" stroke-width="3.4" stroke-linejoin="round" filter="url(#b2)"/>
<polygon points="856,38 872,34 886,44 890,62 876,74 858,70" fill="none" stroke="#9a9a9a" stroke-width="1.3" stroke-linejoin="round" filter="url(#b1)"/>
<polygon points="860.8,42.4 872.3,39.5 882.4,46.7 885.2,59.7 875.2,68.3 862.2,65.4" fill="#303030" filter="url(#b2)"/>
<line x1="868.2" y1="45.9" x2="870.9" y2="51.7" stroke="rgb(150,150,150)" stroke-width="1.2" opacity="0.8" filter="url(#b06)"/>
<line x1="879.0" y1="49.3" x2="878.6" y2="52.8" stroke="rgb(110,110,110)" stroke-width="1.2" opacity="0.8" filter="url(#b06)"/>
<line x1="862.5" y1="47.9" x2="858.6" y2="48.2" stroke="rgb(110,110,110)" stroke-width="1.2" opacity="0.8" filter="url(#b06)"/>
<line x1="879.5" y1="46.9" x2="878.6" y2="53.6" stroke="rgb(130,130,130)" stroke-width="1.2" opacity="0.8" filter="url(#b06)"/>
<line x1="877.0" y1="48.0" x2="882.8" y2="48.1" stroke="rgb(130,130,130)" stroke-width="1.2" opacity="0.8" filter="url(#b06)"/>
<line x1="880.9" y1="50.7" x2="884.8" y2="52.2" stroke="rgb(150,150,150)" stroke-width="1.2" opacity="0.8" filter="url(#b06)"/>
<line x1="861.5" y1="61.0" x2="867.7" y2="62.2" stroke="rgb(110,110,110)" stroke-width="1.2" opacity="0.8" filter="url(#b06)"/>
<line x1="876.4" y1="58.0" x2="874.4" y2="60.3" stroke="rgb(130,130,130)" stroke-width="1.2" opacity="0.8" filter="url(#b06)"/>
<line x1="863.9" y1="57.4" x2="862.5" y2="60.7" stroke="rgb(150,150,150)" stroke-width="1.2" opacity="0.8" filter="url(#b06)"/>
<line x1="865.7" y1="51.4" x2="868.8" y2="56.0" stroke="rgb(110,110,110)" stroke-width="1.2" opacity="0.8" filter="url(#b06)"/>
<line x1="884.5" y1="60.4" x2="883.5" y2="64.6" stroke="rgb(150,150,150)" stroke-width="1.2" opacity="0.8" filter="url(#b06)"/>
<line x1="867.4" y1="55.5" x2="866.8" y2="59.9" stroke="rgb(110,110,110)" stroke-width="1.2" opacity="0.8" filter="url(#b06)"/>
<line x1="872.8" y1="67.1" x2="878.2" y2="68.4" stroke="rgb(110,110,110)" stroke-width="1.2" opacity="0.8" filter="url(#b06)"/>
<line x1="880.2" y1="57.9" x2="886.4" y2="58.9" stroke="rgb(110,110,110)" stroke-width="1.2" opacity="0.8" filter="url(#b06)"/>
<circle cx="865.9" cy="61.4" r="0.9" fill="rgb(230,230,230)" opacity="1.0" filter="url(#b06)"/>
<circle cx="873.2" cy="55.2" r="0.9" fill="rgb(230,230,230)" opacity="1.0" filter="url(#b06)"/>
<circle cx="872.9" cy="51.1" r="0.9" fill="rgb(230,230,230)" opacity="1.0" filter="url(#b06)"/>
<polygon points="1082,34 1108,34 1110,50 1096,58 1082,50" fill="#454545" stroke="#7e7e7e" stroke-width="3.4" stroke-linejoin="round" filter="url(#b2)"/>
<polygon points="1082,34 1108,34 1110,50 1096,58 1082,50" fill="none" stroke="#9a9a9a" stroke-width="1.3" stroke-linejoin="round" filter="url(#b1)"/>
<polygon points="1085.8,37.1 1104.5,37.1 1106.0,48.7 1095.9,54.4 1085.8,48.7" fill="#303030" filter="url(#b2)"/>
<line x1="1095.2" y1="40.8" x2="1091.4" y2="46.4" stroke="rgb(110,110,110)" stroke-width="1.2" opacity="0.8" filter="url(#b06)"/>
<line x1="1090.1" y1="44.0" x2="1095.2" y2="44.0" stroke="rgb(130,130,130)" stroke-width="1.2" opacity="0.8" filter="url(#b06)"/>
<line x1="1104.9" y1="38.8" x2="1098.4" y2="40.5" stroke="rgb(110,110,110)" stroke-width="1.2" opacity="0.8" filter="url(#b06)"/>
<line x1="1090.2" y1="46.4" x2="1091.0" y2="49.7" stroke="rgb(150,150,150)" stroke-width="1.2" opacity="0.8" filter="url(#b06)"/>
<line x1="1091.5" y1="38.0" x2="1096.1" y2="41.4" stroke="rgb(110,110,110)" stroke-width="1.2" opacity="0.8" filter="url(#b06)"/>
<line x1="1094.2" y1="37.3" x2="1099.9" y2="39.2" stroke="rgb(130,130,130)" stroke-width="1.2" opacity="0.8" filter="url(#b06)"/>
<line x1="1096.4" y1="50.0" x2="1101.3" y2="52.1" stroke="rgb(150,150,150)" stroke-width="1.2" opacity="0.8" filter="url(#b06)"/>
<line x1="1103.5" y1="47.1" x2="1104.5" y2="51.2" stroke="rgb(130,130,130)" stroke-width="1.2" opacity="0.8" filter="url(#b06)"/>
<line x1="1092.2" y1="45.0" x2="1087.3" y2="45.2" stroke="rgb(130,130,130)" stroke-width="1.2" opacity="0.8" filter="url(#b06)"/>
<line x1="1098.4" y1="47.8" x2="1096.7" y2="53.3" stroke="rgb(130,130,130)" stroke-width="1.2" opacity="0.8" filter="url(#b06)"/>
<line x1="1086.5" y1="37.9" x2="1080.2" y2="38.7" stroke="rgb(150,150,150)" stroke-width="1.2" opacity="0.8" filter="url(#b06)"/>
<line x1="1087.9" y1="45.6" x2="1090.6" y2="49.2" stroke="rgb(150,150,150)" stroke-width="1.2" opacity="0.8" filter="url(#b06)"/>
<line x1="1099.8" y1="38.7" x2="1101.1" y2="45.4" stroke="rgb(130,130,130)" stroke-width="1.2" opacity="0.8" filter="url(#b06)"/>
<line x1="1100.3" y1="47.3" x2="1103.4" y2="49.9" stroke="rgb(150,150,150)" stroke-width="1.2" opacity="0.8" filter="url(#b06)"/>
<circle cx="1095.7" cy="47.7" r="0.9" fill="rgb(230,230,230)" opacity="1.0" filter="url(#b06)"/>
<circle cx="1095.8" cy="51.3" r="0.9" fill="rgb(230,230,230)" opacity="1.0" filter="url(#b06)"/>
<circle cx="1095.7" cy="47.1" r="0.9" fill="rgb(230,230,230)" opacity="1.0" filter="url(#b06)"/>
<ellipse cx="876.3" cy="97.3" rx="12" ry="13" fill="rgb(52,52,52)" opacity="0.9" filter="url(#b1)"/>
<ellipse cx="876.3" cy="97.3" rx="11" ry="12" fill="none" stroke="rgb(135,135,135)" stroke-width="2.6" opacity="0.8" filter="url(#b1)"/>
<circle cx="872.2" cy="100.4" r="0.8" fill="rgb(200,200,200)" opacity="0.9" filter="url(#b06)"/>
<circle cx="872.3" cy="92.5" r="0.8" fill="rgb(200,200,200)" opacity="0.9" filter="url(#b06)"/>
<circle cx="871.4" cy="102.6" r="0.8" fill="rgb(200,200,200)" opacity="0.9" filter="url(#b06)"/>
<ellipse cx="903.6" cy="141.8" rx="10" ry="11" fill="rgb(52,52,52)" opacity="0.9" filter="url(#b1)"/>
<ellipse cx="903.6" cy="141.8" rx="9" ry="10" fill="none" stroke="rgb(120,120,120)" stroke-width="2.6" opacity="0.8" filter="url(#b1)"/>
<circle cx="903.1" cy="143.9" r="0.8" fill="rgb(200,200,200)" opacity="0.9" filter="url(#b06)"/>
<circle cx="904.1" cy="146.1" r="0.8" fill="rgb(200,200,200)" opacity="0.9" filter="url(#b06)"/>
<circle cx="902.3" cy="140.4" r="0.8" fill="rgb(200,200,200)" opacity="0.9" filter="url(#b06)"/>
<ellipse cx="960.9" cy="87.5" rx="10" ry="10" fill="rgb(52,52,52)" opacity="0.9" filter="url(#b1)"/>
<ellipse cx="960.9" cy="87.5" rx="9" ry="9" fill="none" stroke="rgb(115,115,115)" stroke-width="2.6" opacity="0.8" filter="url(#b1)"/>
<circle cx="962.4" cy="83.5" r="0.8" fill="rgb(200,200,200)" opacity="0.9" filter="url(#b06)"/>
<circle cx="959.8" cy="89.6" r="0.8" fill="rgb(200,200,200)" opacity="0.9" filter="url(#b06)"/>
<circle cx="961.5" cy="87.4" r="0.8" fill="rgb(200,200,200)" opacity="0.9" filter="url(#b06)"/>
<ellipse cx="982.6" cy="108.8" rx="11" ry="11" fill="rgb(52,52,52)" opacity="0.9" filter="url(#b1)"/>
<ellipse cx="982.6" cy="108.8" rx="10" ry="10" fill="none" stroke="rgb(120,120,120)" stroke-width="2.6" opacity="0.8" filter="url(#b1)"/>
<circle cx="986.5" cy="108.2" r="0.8" fill="rgb(200,200,200)" opacity="0.9" filter="url(#b06)"/>
<circle cx="984.7" cy="107.8" r="0.8" fill="rgb(200,200,200)" opacity="0.9" filter="url(#b06)"/>
<circle cx="978.9" cy="107.8" r="0.8" fill="rgb(200,200,200)" opacity="0.9" filter="url(#b06)"/>
<ellipse cx="1086.3" cy="159.9" rx="11" ry="11" fill="rgb(52,52,52)" opacity="0.9" filter="url(#b1)"/>
<ellipse cx="1086.3" cy="159.9" rx="10" ry="10" fill="none" stroke="rgb(115,115,115)" stroke-width="2.6" opacity="0.8" filter="url(#b1)"/>
<circle cx="1083.7" cy="155.6" r="0.8" fill="rgb(200,200,200)" opacity="0.9" filter="url(#b06)"/>
<circle cx="1084.4" cy="156.5" r="0.8" fill="rgb(200,200,200)" opacity="0.9" filter="url(#b06)"/>
<circle cx="1085.9" cy="162.0" r="0.8" fill="rgb(200,200,200)" opacity="0.9" filter="url(#b06)"/>
<ellipse cx="1104" cy="115.4" rx="11" ry="12" fill="rgb(52,52,52)" opacity="0.9" filter="url(#b1)"/>
<ellipse cx="1104" cy="115.4" rx="10" ry="11" fill="none" stroke="rgb(130,130,130)" stroke-width="2.6" opacity="0.8" filter="url(#b1)"/>
<circle cx="1106.3" cy="119.2" r="0.8" fill="rgb(200,200,200)" opacity="0.9" filter="url(#b06)"/>
<circle cx="1102.4" cy="117.1" r="0.8" fill="rgb(200,200,200)" opacity="0.9" filter="url(#b06)"/>
<circle cx="1107.5" cy="114.4" r="0.8" fill="rgb(200,200,200)" opacity="0.9" filter="url(#b06)"/>
<ellipse cx="1030.3" cy="200.3" rx="8" ry="8" fill="rgb(52,52,52)" opacity="0.9" filter="url(#b1)"/>
<ellipse cx="1030.3" cy="200.3" rx="7" ry="7" fill="none" stroke="rgb(110,110,110)" stroke-width="2.6" opacity="0.8" filter="url(#b1)"/>
<circle cx="1032.9" cy="197.8" r="0.8" fill="rgb(200,200,200)" opacity="0.9" filter="url(#b06)"/>
<circle cx="1033.0" cy="202.7" r="0.8" fill="rgb(200,200,200)" opacity="0.9" filter="url(#b06)"/>
<circle cx="1033.3" cy="202.4" r="0.8" fill="rgb(200,200,200)" opacity="0.9" filter="url(#b06)"/>
<ellipse cx="1118.2" cy="200.3" rx="8" ry="8" fill="rgb(52,52,52)" opacity="0.9" filter="url(#b1)"/>
<ellipse cx="1118.2" cy="200.3" rx="7" ry="7" fill="none" stroke="rgb(110,110,110)" stroke-width="2.6" opacity="0.8" filter="url(#b1)"/>
<circle cx="1119.5" cy="199.9" r="0.8" fill="rgb(200,200,200)" opacity="0.9" filter="url(#b06)"/>
<circle cx="1119.6" cy="202.7" r="0.8" fill="rgb(200,200,200)" opacity="0.9" filter="url(#b06)"/>
<circle cx="1118.7" cy="201.1" r="0.8" fill="rgb(200,200,200)" opacity="0.9" filter="url(#b06)"/>
<ellipse cx="1004" cy="166.4" rx="7" ry="7" fill="rgb(52,52,52)" opacity="0.9" filter="url(#b1)"/>
<ellipse cx="1004" cy="166.4" rx="6" ry="6" fill="none" stroke="rgb(125,125,125)" stroke-width="2.6" opacity="0.8" filter="url(#b1)"/>
<circle cx="1006.3" cy="165.2" r="0.8" fill="rgb(200,200,200)" opacity="0.9" filter="url(#b06)"/>
<circle cx="1003.1" cy="163.9" r="0.8" fill="rgb(200,200,200)" opacity="0.9" filter="url(#b06)"/>
<circle cx="1006.0" cy="167.1" r="0.8" fill="rgb(200,200,200)" opacity="0.9" filter="url(#b06)"/>
<ellipse cx="929.6" cy="142.4" rx="6" ry="6" fill="rgb(52,52,52)" opacity="0.9" filter="url(#b1)"/>
<ellipse cx="929.6" cy="142.4" rx="5" ry="5" fill="none" stroke="rgb(130,130,130)" stroke-width="2.6" opacity="0.8" filter="url(#b1)"/>
<circle cx="930.4" cy="141.2" r="0.8" fill="rgb(200,200,200)" opacity="0.9" filter="url(#b06)"/>
<circle cx="928.2" cy="142.3" r="0.8" fill="rgb(200,200,200)" opacity="0.9" filter="url(#b06)"/>
<circle cx="931.3" cy="141.7" r="0.8" fill="rgb(200,200,200)" opacity="0.9" filter="url(#b06)"/>
<ellipse cx="954.3" cy="160.8" rx="6" ry="7" fill="rgb(52,52,52)" opacity="0.9" filter="url(#b1)"/>
<ellipse cx="954.3" cy="160.8" rx="5" ry="6" fill="none" stroke="rgb(145,145,145)" stroke-width="2.6" opacity="0.8" filter="url(#b1)"/>
<circle cx="953.9" cy="160.4" r="0.8" fill="rgb(200,200,200)" opacity="0.9" filter="url(#b06)"/>
<circle cx="955.9" cy="158.8" r="0.8" fill="rgb(200,200,200)" opacity="0.9" filter="url(#b06)"/>
<circle cx="955.9" cy="158.2" r="0.8" fill="rgb(200,200,200)" opacity="0.9" filter="url(#b06)"/>
<ellipse cx="1103.4" cy="179" rx="5" ry="5" fill="rgb(52,52,52)" opacity="0.9" filter="url(#b1)"/>
<ellipse cx="1103.4" cy="179" rx="4" ry="4" fill="none" stroke="rgb(125,125,125)" stroke-width="2.6" opacity="0.8" filter="url(#b1)"/>
<circle cx="1104.1" cy="179.9" r="0.8" fill="rgb(200,200,200)" opacity="0.9" filter="url(#b06)"/>
<circle cx="1103.3" cy="179.9" r="0.8" fill="rgb(200,200,200)" opacity="0.9" filter="url(#b06)"/>
<circle cx="1102.6" cy="177.7" r="0.8" fill="rgb(200,200,200)" opacity="0.9" filter="url(#b06)"/>
<ellipse cx="1140" cy="230" rx="7" ry="11" fill="rgb(52,52,52)" opacity="0.9" filter="url(#b1)"/>
<ellipse cx="1140" cy="230" rx="6" ry="10" fill="none" stroke="rgb(115,115,115)" stroke-width="2.6" opacity="0.8" filter="url(#b1)"/>
<circle cx="1139.2" cy="227.9" r="0.8" fill="rgb(200,200,200)" opacity="0.9" filter="url(#b06)"/>
<circle cx="1141.2" cy="230.6" r="0.8" fill="rgb(200,200,200)" opacity="0.9" filter="url(#b06)"/>
<circle cx="1140.9" cy="234.3" r="0.8" fill="rgb(200,200,200)" opacity="0.9" filter="url(#b06)"/>
<ellipse cx="926.3" cy="124.6" rx="7.2" ry="9.2" fill="#2a2a2a" opacity="0.6" filter="url(#b1)" transform="rotate(15 926.3 124.6)"/>
<ellipse cx="926.3" cy="124.6" rx="5" ry="7" fill="none" stroke="rgb(133,133,133)" stroke-width="4.4" opacity="0.55" filter="url(#b1)" transform="rotate(15 926.3 124.6)"/>
<ellipse cx="926.3" cy="124.6" rx="5" ry="7" fill="#505050" stroke="rgb(215,215,215)" stroke-width="2.0" opacity="1.0" filter="url(#b06)" transform="rotate(15 926.3 124.6)"/>
<ellipse cx="906.6" cy="164.8" rx="7.2" ry="6.8" fill="#2a2a2a" opacity="0.6" filter="url(#b1)"/>
<ellipse cx="906.6" cy="164.8" rx="5" ry="4.6" fill="none" stroke="rgb(133,133,133)" stroke-width="4.4" opacity="0.55" filter="url(#b1)"/>
<ellipse cx="906.6" cy="164.8" rx="5" ry="4.6" fill="#505050" stroke="rgb(215,215,215)" stroke-width="2.0" opacity="1.0" filter="url(#b06)"/>
<ellipse cx="931.3" cy="172" rx="6.8" ry="9.7" fill="#2a2a2a" opacity="0.6" filter="url(#b1)" transform="rotate(-15 931.3 172)"/>
<ellipse cx="931.3" cy="172" rx="4.6" ry="7.5" fill="none" stroke="rgb(133,133,133)" stroke-width="4.4" opacity="0.55" filter="url(#b1)" transform="rotate(-15 931.3 172)"/>
<ellipse cx="931.3" cy="172" rx="4.6" ry="7.5" fill="#505050" stroke="rgb(215,215,215)" stroke-width="2.0" opacity="1.0" filter="url(#b06)" transform="rotate(-15 931.3 172)"/>
<ellipse cx="1005.6" cy="115.4" rx="6.8" ry="6.8" fill="#2a2a2a" opacity="0.6" filter="url(#b1)"/>
<ellipse cx="1005.6" cy="115.4" rx="4.6" ry="4.6" fill="none" stroke="rgb(117,117,117)" stroke-width="4.4" opacity="0.55" filter="url(#b1)"/>
<ellipse cx="1005.6" cy="115.4" rx="4.6" ry="4.6" fill="#505050" stroke="rgb(190,190,190)" stroke-width="2.0" opacity="1.0" filter="url(#b06)"/>
<ellipse cx="1002" cy="137.8" rx="5.7" ry="5.7" fill="#2a2a2a" opacity="0.6" filter="url(#b1)"/>
<ellipse cx="1002" cy="137.8" rx="3.5" ry="3.5" fill="none" stroke="rgb(124,124,124)" stroke-width="4.4" opacity="0.55" filter="url(#b1)"/>
<ellipse cx="1002" cy="137.8" rx="3.5" ry="3.5" fill="#505050" stroke="rgb(200,200,200)" stroke-width="2.0" opacity="1.0" filter="url(#b06)"/>
<ellipse cx="1023.4" cy="138.5" rx="6.4" ry="8.2" fill="#2a2a2a" opacity="0.6" filter="url(#b1)" transform="rotate(10 1023.4 138.5)"/>
<ellipse cx="1023.4" cy="138.5" rx="4.2" ry="6" fill="none" stroke="rgb(127,127,127)" stroke-width="4.4" opacity="0.55" filter="url(#b1)" transform="rotate(10 1023.4 138.5)"/>
<ellipse cx="1023.4" cy="138.5" rx="4.2" ry="6" fill="#505050" stroke="rgb(205,205,205)" stroke-width="2.0" opacity="1.0" filter="url(#b06)" transform="rotate(10 1023.4 138.5)"/>
<ellipse cx="1047.4" cy="132.5" rx="7.4" ry="7.7" fill="#2a2a2a" opacity="0.6" filter="url(#b1)"/>
<ellipse cx="1047.4" cy="132.5" rx="5.2" ry="5.5" fill="none" stroke="rgb(127,127,127)" stroke-width="4.4" opacity="0.55" filter="url(#b1)"/>
<ellipse cx="1047.4" cy="132.5" rx="5.2" ry="5.5" fill="#505050" stroke="rgb(205,205,205)" stroke-width="2.0" opacity="1.0" filter="url(#b06)"/>
<ellipse cx="1054.7" cy="91.7" rx="5.2" ry="5.2" fill="#2a2a2a" opacity="0.6" filter="url(#b1)"/>
<ellipse cx="1054.7" cy="91.7" rx="3" ry="3" fill="none" stroke="rgb(117,117,117)" stroke-width="4.4" opacity="0.55" filter="url(#b1)"/>
<ellipse cx="1054.7" cy="91.7" rx="3" ry="3" fill="#505050" stroke="rgb(190,190,190)" stroke-width="2.0" opacity="1.0" filter="url(#b06)"/>
<ellipse cx="1046.8" cy="109.5" rx="5.2" ry="5.2" fill="#2a2a2a" opacity="0.6" filter="url(#b1)"/>
<ellipse cx="1046.8" cy="109.5" rx="3" ry="3" fill="none" stroke="rgb(111,111,111)" stroke-width="4.4" opacity="0.55" filter="url(#b1)"/>
<ellipse cx="1046.8" cy="109.5" rx="3" ry="3" fill="#505050" stroke="rgb(180,180,180)" stroke-width="2.0" opacity="1.0" filter="url(#b06)"/>
<ellipse cx="1121.5" cy="79.2" rx="6.7" ry="6.7" fill="#2a2a2a" opacity="0.6" filter="url(#b1)"/>
<ellipse cx="1121.5" cy="79.2" rx="4.5" ry="4.5" fill="none" stroke="rgb(117,117,117)" stroke-width="4.4" opacity="0.55" filter="url(#b1)"/>
<ellipse cx="1121.5" cy="79.2" rx="4.5" ry="4.5" fill="#505050" stroke="rgb(190,190,190)" stroke-width="2.0" opacity="1.0" filter="url(#b06)"/>
<ellipse cx="1129" cy="90.7" rx="6.4" ry="6.4" fill="#2a2a2a" opacity="0.6" filter="url(#b1)"/>
<ellipse cx="1129" cy="90.7" rx="4.2" ry="4.2" fill="none" stroke="rgb(114,114,114)" stroke-width="4.4" opacity="0.55" filter="url(#b1)"/>
<ellipse cx="1129" cy="90.7" rx="4.2" ry="4.2" fill="#505050" stroke="rgb(185,185,185)" stroke-width="2.0" opacity="1.0" filter="url(#b06)"/>
<ellipse cx="1123" cy="51.3" rx="5.7" ry="8.7" fill="#2a2a2a" opacity="0.6" filter="url(#b1)" transform="rotate(10 1123 51.3)"/>
<ellipse cx="1123" cy="51.3" rx="3.5" ry="6.5" fill="none" stroke="rgb(114,114,114)" stroke-width="4.4" opacity="0.55" filter="url(#b1)" transform="rotate(10 1123 51.3)"/>
<ellipse cx="1123" cy="51.3" rx="3.5" ry="6.5" fill="#505050" stroke="rgb(185,185,185)" stroke-width="2.0" opacity="1.0" filter="url(#b06)" transform="rotate(10 1123 51.3)"/>
<ellipse cx="1092.8" cy="140.8" rx="6.7" ry="6.7" fill="#2a2a2a" opacity="0.6" filter="url(#b1)"/>
<ellipse cx="1092.8" cy="140.8" rx="4.5" ry="4.5" fill="none" stroke="rgb(124,124,124)" stroke-width="4.4" opacity="0.55" filter="url(#b1)"/>
<ellipse cx="1092.8" cy="140.8" rx="4.5" ry="4.5" fill="#505050" stroke="rgb(200,200,200)" stroke-width="2.0" opacity="1.0" filter="url(#b06)"/>
<ellipse cx="1110" cy="150" rx="8.2" ry="7.7" fill="#2a2a2a" opacity="0.6" filter="url(#b1)"/>
<ellipse cx="1110" cy="150" rx="6" ry="5.5" fill="none" stroke="rgb(139,139,139)" stroke-width="4.4" opacity="0.55" filter="url(#b1)"/>
<ellipse cx="1110" cy="150" rx="6" ry="5.5" fill="#505050" stroke="rgb(225,225,225)" stroke-width="2.0" opacity="1.0" filter="url(#b06)"/>
<ellipse cx="1135.6" cy="151.6" rx="9.2" ry="9.7" fill="#2a2a2a" opacity="0.6" filter="url(#b1)"/>
<ellipse cx="1135.6" cy="151.6" rx="7" ry="7.5" fill="none" stroke="rgb(133,133,133)" stroke-width="4.4" opacity="0.55" filter="url(#b1)"/>
<ellipse cx="1135.6" cy="151.6" rx="7" ry="7.5" fill="#505050" stroke="rgb(215,215,215)" stroke-width="2.0" opacity="1.0" filter="url(#b06)"/>
<ellipse cx="1099" cy="191" rx="7.2" ry="7.7" fill="#2a2a2a" opacity="0.6" filter="url(#b1)"/>
<ellipse cx="1099" cy="191" rx="5" ry="5.5" fill="none" stroke="rgb(139,139,139)" stroke-width="4.4" opacity="0.55" filter="url(#b1)"/>
<ellipse cx="1099" cy="191" rx="5" ry="5.5" fill="#505050" stroke="rgb(225,225,225)" stroke-width="2.0" opacity="1.0" filter="url(#b06)"/>
<ellipse cx="929" cy="216.8" rx="8.7" ry="7.7" fill="#2a2a2a" opacity="0.6" filter="url(#b1)"/>
<ellipse cx="929" cy="216.8" rx="6.5" ry="5.5" fill="none" stroke="rgb(133,133,133)" stroke-width="4.4" opacity="0.55" filter="url(#b1)"/>
<ellipse cx="929" cy="216.8" rx="6.5" ry="5.5" fill="#505050" stroke="rgb(215,215,215)" stroke-width="2.0" opacity="1.0" filter="url(#b06)"/>
<ellipse cx="919.8" cy="239.8" rx="6.2" ry="6.2" fill="#2a2a2a" opacity="0.6" filter="url(#b1)"/>
<ellipse cx="919.8" cy="239.8" rx="4" ry="4" fill="none" stroke="rgb(127,127,127)" stroke-width="4.4" opacity="0.55" filter="url(#b1)"/>
<ellipse cx="919.8" cy="239.8" rx="4" ry="4" fill="#505050" stroke="rgb(205,205,205)" stroke-width="2.0" opacity="1.0" filter="url(#b06)"/>
<ellipse cx="953.7" cy="233.2" rx="6.7" ry="6.7" fill="#2a2a2a" opacity="0.6" filter="url(#b1)"/>
<ellipse cx="953.7" cy="233.2" rx="4.5" ry="4.5" fill="none" stroke="rgb(117,117,117)" stroke-width="4.4" opacity="0.55" filter="url(#b1)"/>
<ellipse cx="953.7" cy="233.2" rx="4.5" ry="4.5" fill="#505050" stroke="rgb(190,190,190)" stroke-width="2.0" opacity="1.0" filter="url(#b06)"/>
<ellipse cx="981.6" cy="234.5" rx="6.7" ry="6.7" fill="#2a2a2a" opacity="0.6" filter="url(#b1)"/>
<ellipse cx="981.6" cy="234.5" rx="4.5" ry="4.5" fill="none" stroke="rgb(124,124,124)" stroke-width="4.4" opacity="0.55" filter="url(#b1)"/>
<ellipse cx="981.6" cy="234.5" rx="4.5" ry="4.5" fill="#505050" stroke="rgb(200,200,200)" stroke-width="2.0" opacity="1.0" filter="url(#b06)"/>
<ellipse cx="994.8" cy="235.5" rx="7.7" ry="7.0" fill="#2a2a2a" opacity="0.6" filter="url(#b1)"/>
<ellipse cx="994.8" cy="235.5" rx="5.5" ry="4.8" fill="none" stroke="rgb(127,127,127)" stroke-width="4.4" opacity="0.55" filter="url(#b1)"/>
<ellipse cx="994.8" cy="235.5" rx="5.5" ry="4.8" fill="#505050" stroke="rgb(205,205,205)" stroke-width="2.0" opacity="1.0" filter="url(#b06)"/>
<ellipse cx="1015.5" cy="233" rx="6.2" ry="6.2" fill="#2a2a2a" opacity="0.6" filter="url(#b1)"/>
<ellipse cx="1015.5" cy="233" rx="4" ry="4" fill="none" stroke="rgb(117,117,117)" stroke-width="4.4" opacity="0.55" filter="url(#b1)"/>
<ellipse cx="1015.5" cy="233" rx="4" ry="4" fill="#505050" stroke="rgb(190,190,190)" stroke-width="2.0" opacity="1.0" filter="url(#b06)"/>
<ellipse cx="1019" cy="240" rx="5.7" ry="6.7" fill="#2a2a2a" opacity="0.6" filter="url(#b1)"/>
<ellipse cx="1019" cy="240" rx="3.5" ry="4.5" fill="none" stroke="rgb(111,111,111)" stroke-width="4.4" opacity="0.55" filter="url(#b1)"/>
<ellipse cx="1019" cy="240" rx="3.5" ry="4.5" fill="#505050" stroke="rgb(180,180,180)" stroke-width="2.0" opacity="1.0" filter="url(#b06)"/>
<ellipse cx="1049" cy="230.6" rx="8.7" ry="13.7" fill="#2a2a2a" opacity="0.6" filter="url(#b1)" transform="rotate(12 1049 230.6)"/>
<ellipse cx="1049" cy="230.6" rx="6.5" ry="11.5" fill="none" stroke="rgb(133,133,133)" stroke-width="4.4" opacity="0.55" filter="url(#b1)" transform="rotate(12 1049 230.6)"/>
<ellipse cx="1049" cy="230.6" rx="6.5" ry="11.5" fill="#505050" stroke="rgb(215,215,215)" stroke-width="2.0" opacity="1.0" filter="url(#b06)" transform="rotate(12 1049 230.6)"/>
<ellipse cx="1009.6" cy="250.3" rx="8.7" ry="8.2" fill="#2a2a2a" opacity="0.6" filter="url(#b1)"/>
<ellipse cx="1009.6" cy="250.3" rx="6.5" ry="6" fill="none" stroke="rgb(133,133,133)" stroke-width="4.4" opacity="0.55" filter="url(#b1)"/>
<ellipse cx="1009.6" cy="250.3" rx="6.5" ry="6" fill="#505050" stroke="rgb(215,215,215)" stroke-width="2.0" opacity="1.0" filter="url(#b06)"/>
<ellipse cx="864.8" cy="82.5" rx="5.800000000000001" ry="5.4" fill="#2a2a2a" opacity="0.6" filter="url(#b1)"/>
<ellipse cx="864.8" cy="82.5" rx="3.6" ry="3.2" fill="none" stroke="rgb(130,130,130)" stroke-width="4.4" opacity="0.55" filter="url(#b1)"/>
<ellipse cx="864.8" cy="82.5" rx="3.6" ry="3.2" fill="#505050" stroke="rgb(210,210,210)" stroke-width="2.0" opacity="1.0" filter="url(#b06)"/>
<ellipse cx="993.8" cy="35" rx="7.2" ry="8.2" fill="#2a2a2a" opacity="0.6" filter="url(#b1)"/>
<ellipse cx="993.8" cy="35" rx="5" ry="6" fill="none" stroke="rgb(117,117,117)" stroke-width="4.4" opacity="0.55" filter="url(#b1)"/>
<ellipse cx="993.8" cy="35" rx="5" ry="6" fill="#505050" stroke="rgb(190,190,190)" stroke-width="2.0" opacity="1.0" filter="url(#b06)"/>
<ellipse cx="1086" cy="138" rx="5.2" ry="5.2" fill="#2a2a2a" opacity="0.6" filter="url(#b1)"/>
<ellipse cx="1086" cy="138" rx="3" ry="3" fill="none" stroke="rgb(111,111,111)" stroke-width="4.4" opacity="0.55" filter="url(#b1)"/>
<ellipse cx="1086" cy="138" rx="3" ry="3" fill="#505050" stroke="rgb(180,180,180)" stroke-width="2.0" opacity="1.0" filter="url(#b06)"/>
<ellipse cx="1000" cy="256" rx="7.2" ry="6.2" fill="#2a2a2a" opacity="0.6" filter="url(#b1)"/>
<ellipse cx="1000" cy="256" rx="5" ry="4" fill="none" stroke="rgb(117,117,117)" stroke-width="4.4" opacity="0.55" filter="url(#b1)"/>
<ellipse cx="1000" cy="256" rx="5" ry="4" fill="#505050" stroke="rgb(190,190,190)" stroke-width="2.0" opacity="1.0" filter="url(#b06)"/>
<path d="M1120 150 q4 -4 6 1 q-4 5 -1 9 q4 2 5 -3" fill="none" stroke="#c8c8c8" stroke-width="1.5" filter="url(#b06)"/>
<circle cx="1078.1" cy="208.6" r="0.7" fill="rgb(180,180,180)" opacity="1.0" filter="url(#b06)"/>
<circle cx="1069.1" cy="111.8" r="0.9" fill="rgb(150,150,150)" opacity="1.0" filter="url(#b06)"/>
<circle cx="1069.3" cy="181.8" r="0.7" fill="rgb(215,215,215)" opacity="1.0" filter="url(#b06)"/>
<circle cx="1035.3" cy="76.8" r="0.9" fill="rgb(215,215,215)" opacity="1.0" filter="url(#b06)"/>
<circle cx="909.6" cy="39.8" r="0.9" fill="rgb(215,215,215)" opacity="1.0" filter="url(#b06)"/>
<circle cx="946.0" cy="45.8" r="0.6" fill="rgb(180,180,180)" opacity="1.0" filter="url(#b06)"/>
<circle cx="903.7" cy="214.1" r="0.7" fill="rgb(215,215,215)" opacity="1.0" filter="url(#b06)"/>
<circle cx="925.0" cy="209.1" r="0.9" fill="rgb(150,150,150)" opacity="1.0" filter="url(#b06)"/>
<circle cx="870.1" cy="60.2" r="0.9" fill="rgb(215,215,215)" opacity="1.0" filter="url(#b06)"/>
<circle cx="928.5" cy="139.1" r="0.9" fill="rgb(150,150,150)" opacity="1.0" filter="url(#b06)"/>
<circle cx="1013.5" cy="71.6" r="0.6" fill="rgb(150,150,150)" opacity="1.0" filter="url(#b06)"/>
<circle cx="1100.7" cy="147.9" r="0.6" fill="rgb(150,150,150)" opacity="1.0" filter="url(#b06)"/>
<circle cx="1129.4" cy="145.2" r="0.7" fill="rgb(180,180,180)" opacity="1.0" filter="url(#b06)"/>
<circle cx="934.8" cy="124.5" r="0.6" fill="rgb(215,215,215)" opacity="1.0" filter="url(#b06)"/>
<circle cx="1072.6" cy="235.9" r="0.9" fill="rgb(215,215,215)" opacity="1.0" filter="url(#b06)"/>
<circle cx="1057.2" cy="170.4" r="0.7" fill="rgb(150,150,150)" opacity="1.0" filter="url(#b06)"/>
<circle cx="876.2" cy="249.3" r="0.9" fill="rgb(150,150,150)" opacity="1.0" filter="url(#b06)"/>
<circle cx="1107.4" cy="119.9" r="0.6" fill="rgb(215,215,215)" opacity="1.0" filter="url(#b06)"/>
<circle cx="930.0" cy="142.7" r="0.7" fill="rgb(180,180,180)" opacity="1.0" filter="url(#b06)"/>
<circle cx="879.8" cy="221.4" r="0.9" fill="rgb(215,215,215)" opacity="1.0" filter="url(#b06)"/>
<circle cx="1105.9" cy="220.3" r="0.9" fill="rgb(180,180,180)" opacity="1.0" filter="url(#b06)"/>
<circle cx="1058.5" cy="129.3" r="0.7" fill="rgb(215,215,215)" opacity="1.0" filter="url(#b06)"/>
<circle cx="890.3" cy="67.5" r="0.6" fill="rgb(215,215,215)" opacity="1.0" filter="url(#b06)"/>
<circle cx="988.5" cy="224.4" r="0.9" fill="rgb(180,180,180)" opacity="1.0" filter="url(#b06)"/>
<circle cx="1101.2" cy="115.9" r="0.9" fill="rgb(180,180,180)" opacity="1.0" filter="url(#b06)"/>
<circle cx="929.7" cy="175.5" r="0.7" fill="rgb(215,215,215)" opacity="1.0" filter="url(#b06)"/>
<circle cx="862.1" cy="122.8" r="0.9" fill="rgb(180,180,180)" opacity="1.0" filter="url(#b06)"/>
<circle cx="1108.5" cy="98.4" r="0.9" fill="rgb(150,150,150)" opacity="1.0" filter="url(#b06)"/>
<circle cx="904.4" cy="205.7" r="0.6" fill="rgb(215,215,215)" opacity="1.0" filter="url(#b06)"/>
<circle cx="1078.6" cy="180.2" r="0.6" fill="rgb(215,215,215)" opacity="1.0" filter="url(#b06)"/>
<circle cx="911.9" cy="212.0" r="0.9" fill="rgb(150,150,150)" opacity="1.0" filter="url(#b06)"/>
<circle cx="1012.5" cy="51.5" r="0.7" fill="rgb(150,150,150)" opacity="1.0" filter="url(#b06)"/>
<circle cx="882.7" cy="136.5" r="0.6" fill="rgb(215,215,215)" opacity="1.0" filter="url(#b06)"/>
<circle cx="1009.4" cy="96.7" r="0.6" fill="rgb(150,150,150)" opacity="1.0" filter="url(#b06)"/>
<circle cx="892.9" cy="91.7" r="0.7" fill="rgb(180,180,180)" opacity="1.0" filter="url(#b06)"/>
<circle cx="1008.9" cy="95.3" r="0.6" fill="rgb(180,180,180)" opacity="1.0" filter="url(#b06)"/>
<circle cx="962.2" cy="212.3" r="0.9" fill="rgb(180,180,180)" opacity="1.0" filter="url(#b06)"/>
<circle cx="1029.5" cy="193.6" r="0.9" fill="rgb(215,215,215)" opacity="1.0" filter="url(#b06)"/>
<circle cx="913.7" cy="248.7" r="0.6" fill="rgb(150,150,150)" opacity="1.0" filter="url(#b06)"/>
<circle cx="1127.1" cy="72.6" r="0.9" fill="rgb(150,150,150)" opacity="1.0" filter="url(#b06)"/>
<circle cx="1122.9" cy="77.2" r="0.6" fill="rgb(25,25,25)" opacity="0.8" filter="url(#b06)"/>
<circle cx="1011.8" cy="241.4" r="0.6" fill="rgb(25,25,25)" opacity="0.8" filter="url(#b06)"/>
<circle cx="951.0" cy="168.9" r="0.6" fill="rgb(25,25,25)" opacity="0.8" filter="url(#b06)"/>
<circle cx="1089.7" cy="162.0" r="0.6" fill="rgb(25,25,25)" opacity="0.8" filter="url(#b06)"/>
<circle cx="981.2" cy="198.0" r="0.6" fill="rgb(25,25,25)" opacity="0.8" filter="url(#b06)"/>
<circle cx="962.7" cy="251.7" r="0.6" fill="rgb(25,25,25)" opacity="0.8" filter="url(#b06)"/>
<circle cx="1138.7" cy="201.7" r="0.6" fill="rgb(25,25,25)" opacity="0.8" filter="url(#b06)"/>
<circle cx="882.0" cy="136.2" r="0.6" fill="rgb(25,25,25)" opacity="0.8" filter="url(#b06)"/>
<circle cx="936.8" cy="69.5" r="0.6" fill="rgb(25,25,25)" opacity="0.8" filter="url(#b06)"/>
<circle cx="1060.1" cy="91.7" r="0.6" fill="rgb(25,25,25)" opacity="0.8" filter="url(#b06)"/>
<circle cx="983.7" cy="247.2" r="0.6" fill="rgb(25,25,25)" opacity="0.8" filter="url(#b06)"/>
<circle cx="1027.6" cy="178.6" r="0.6" fill="rgb(25,25,25)" opacity="0.8" filter="url(#b06)"/>
<circle cx="1056.5" cy="135.7" r="0.6" fill="rgb(25,25,25)" opacity="0.8" filter="url(#b06)"/>
<circle cx="935.8" cy="198.8" r="0.6" fill="rgb(25,25,25)" opacity="0.8" filter="url(#b06)"/>
<circle cx="888.0" cy="101.9" r="0.6" fill="rgb(25,25,25)" opacity="0.8" filter="url(#b06)"/>
<circle cx="862.6" cy="119.5" r="0.6" fill="rgb(25,25,25)" opacity="0.8" filter="url(#b06)"/>
<circle cx="1110.2" cy="183.3" r="0.6" fill="rgb(25,25,25)" opacity="0.8" filter="url(#b06)"/>
<circle cx="995.9" cy="43.2" r="0.6" fill="rgb(25,25,25)" opacity="0.8" filter="url(#b06)"/>
<circle cx="922.0" cy="88.8" r="0.6" fill="rgb(25,25,25)" opacity="0.8" filter="url(#b06)"/>
<circle cx="1010.2" cy="77.7" r="0.6" fill="rgb(25,25,25)" opacity="0.8" filter="url(#b06)"/>
<circle cx="1061.6" cy="135.9" r="0.6" fill="rgb(25,25,25)" opacity="0.8" filter="url(#b06)"/>
<circle cx="969.3" cy="108.8" r="0.6" fill="rgb(25,25,25)" opacity="0.8" filter="url(#b06)"/>
<circle cx="918.4" cy="177.0" r="0.6" fill="rgb(25,25,25)" opacity="0.8" filter="url(#b06)"/>
<circle cx="1067.7" cy="160.8" r="0.6" fill="rgb(25,25,25)" opacity="0.8" filter="url(#b06)"/>
<circle cx="1079.5" cy="156.3" r="0.6" fill="rgb(25,25,25)" opacity="0.8" filter="url(#b06)"/>
<circle cx="1070.4" cy="218.5" r="0.6" fill="rgb(25,25,25)" opacity="0.8" filter="url(#b06)"/>
<circle cx="1009.7" cy="108.8" r="0.6" fill="rgb(25,25,25)" opacity="0.8" filter="url(#b06)"/>
<circle cx="1074.3" cy="251.2" r="0.6" fill="rgb(25,25,25)" opacity="0.8" filter="url(#b06)"/>
<circle cx="876.1" cy="117.6" r="0.6" fill="rgb(25,25,25)" opacity="0.8" filter="url(#b06)"/>
<circle cx="1058.9" cy="123.6" r="0.6" fill="rgb(25,25,25)" opacity="0.8" filter="url(#b06)"/>
<circle cx="1085.8" cy="90.3" r="0.6" fill="rgb(25,25,25)" opacity="0.8" filter="url(#b06)"/>
<circle cx="983.6" cy="122.8" r="0.6" fill="rgb(25,25,25)" opacity="0.8" filter="url(#b06)"/>
<circle cx="867.6" cy="196.9" r="0.6" fill="rgb(25,25,25)" opacity="0.8" filter="url(#b06)"/>
<circle cx="899.0" cy="124.7" r="0.6" fill="rgb(25,25,25)" opacity="0.8" filter="url(#b06)"/>
<circle cx="930.8" cy="72.8" r="0.6" fill="rgb(25,25,25)" opacity="0.8" filter="url(#b06)"/>
<circle cx="1066.8" cy="242.4" r="0.6" fill="rgb(25,25,25)" opacity="0.8" filter="url(#b06)"/>
<circle cx="1009.4" cy="116.1" r="0.6" fill="rgb(25,25,25)" opacity="0.8" filter="url(#b06)"/>
<circle cx="1018.9" cy="209.3" r="0.6" fill="rgb(25,25,25)" opacity="0.8" filter="url(#b06)"/>
<circle cx="910.9" cy="102.4" r="0.6" fill="rgb(25,25,25)" opacity="0.8" filter="url(#b06)"/>
<circle cx="1118.3" cy="180.3" r="0.6" fill="rgb(25,25,25)" opacity="0.8" filter="url(#b06)"/>
</g>
<text transform="translate(871 58.75) scale(1.0061 1)" font-size="20" font-weight="bold" fill="#f5f016" font-family='"Liberation Sans", Arial, sans-serif' >HM 250 µg/ml</text>
<rect x="858.4" y="245.4" width="67.8" height="10.5" fill="#000"/>
<text transform="translate(864.1999999999999 252.9) scale(0.9109 1)" font-size="13" font-weight="bold" fill="#fff" font-family='"Liberation Sans", Arial, sans-serif' >180 µm</text>
<g clip-path="url(#c3)">
<rect x="1150" y="30" width="292" height="230" fill="#474747"/>
<rect x="1150" y="30" width="292" height="230" filter="url(#tex2)" opacity="0.55"/>
<ellipse cx="1199.9" cy="95.7" rx="7" ry="7.5" fill="rgb(118,118,118)" opacity="0.38" filter="url(#b2)"/>
<ellipse cx="1200.7" cy="96.5" rx="4.8" ry="5.3" fill="rgb(30,30,30)" opacity="0.55" filter="url(#b1)"/>
<ellipse cx="1199.9" cy="95.7" rx="3.0" ry="3.375" fill="rgb(124,124,124)" opacity="0.95" filter="url(#b1)"/>
<ellipse cx="1199.9" cy="95.7" rx="3.1" ry="3.5" fill="none" stroke="rgb(200,200,200)" stroke-width="1.6" filter="url(#b1)"/>
<circle cx="1199.8" cy="95.4" r="1.1" fill="rgb(235,235,235)" opacity="1.0" filter="url(#b06)"/>
<ellipse cx="1273.9" cy="97.3" rx="7" ry="7.5" fill="rgb(118,118,118)" opacity="0.38" filter="url(#b2)"/>
<ellipse cx="1274.7" cy="98.1" rx="4.8" ry="5.3" fill="rgb(30,30,30)" opacity="0.55" filter="url(#b1)"/>
<ellipse cx="1273.9" cy="97.3" rx="3.0" ry="3.375" fill="rgb(117,117,117)" opacity="0.95" filter="url(#b1)"/>
<ellipse cx="1273.9" cy="97.3" rx="3.1" ry="3.5" fill="none" stroke="rgb(190,190,190)" stroke-width="1.6" filter="url(#b1)"/>
<circle cx="1273.0" cy="98.2" r="1.1" fill="rgb(225,225,225)" opacity="1.0" filter="url(#b06)"/>
<ellipse cx="1282.2" cy="130.2" rx="7.5" ry="8" fill="rgb(118,118,118)" opacity="0.38" filter="url(#b2)"/>
<ellipse cx="1283.0" cy="131.0" rx="5.3" ry="5.8" fill="rgb(30,30,30)" opacity="0.55" filter="url(#b1)"/>
<ellipse cx="1282.2" cy="130.2" rx="3.375" ry="3.75" fill="rgb(117,117,117)" opacity="0.95" filter="url(#b1)"/>
<ellipse cx="1282.2" cy="130.2" rx="3.5" ry="3.9" fill="none" stroke="rgb(190,190,190)" stroke-width="1.6" filter="url(#b1)"/>
<circle cx="1281.0" cy="130.2" r="1.1" fill="rgb(225,225,225)" opacity="1.0" filter="url(#b06)"/>
<ellipse cx="1319.3" cy="113.8" rx="6" ry="6" fill="rgb(118,118,118)" opacity="0.38" filter="url(#b2)"/>
<ellipse cx="1320.1" cy="114.6" rx="3.8" ry="3.8" fill="rgb(30,30,30)" opacity="0.55" filter="url(#b1)"/>
<ellipse cx="1319.3" cy="113.8" rx="2.25" ry="2.25" fill="rgb(117,117,117)" opacity="0.95" filter="url(#b1)"/>
<ellipse cx="1319.3" cy="113.8" rx="2.3" ry="2.3" fill="none" stroke="rgb(190,190,190)" stroke-width="1.6" filter="url(#b1)"/>
<circle cx="1320.3" cy="112.8" r="1.1" fill="rgb(225,225,225)" opacity="1.0" filter="url(#b06)"/>
<ellipse cx="1320.3" cy="137.5" rx="6.5" ry="7" fill="rgb(118,118,118)" opacity="0.38" filter="url(#b2)"/>
<ellipse cx="1321.1" cy="138.3" rx="4.3" ry="4.8" fill="rgb(30,30,30)" opacity="0.55" filter="url(#b1)"/>
<ellipse cx="1320.3" cy="137.5" rx="2.625" ry="3.0" fill="rgb(124,124,124)" opacity="0.95" filter="url(#b1)"/>
<ellipse cx="1320.3" cy="137.5" rx="2.7" ry="3.1" fill="none" stroke="rgb(200,200,200)" stroke-width="1.6" filter="url(#b1)"/>
<circle cx="1320.4" cy="137.8" r="1.1" fill="rgb(235,235,235)" opacity="1.0" filter="url(#b06)"/>
<ellipse cx="1311.1" cy="153.3" rx="8" ry="8.5" fill="rgb(118,118,118)" opacity="0.38" filter="url(#b2)"/>
<ellipse cx="1311.8999999999999" cy="154.10000000000002" rx="5.8" ry="6.3" fill="rgb(30,30,30)" opacity="0.55" filter="url(#b1)"/>
<ellipse cx="1311.1" cy="153.3" rx="3.75" ry="4.125" fill="rgb(80,80,80)" opacity="0.95" filter="url(#b1)"/>
<ellipse cx="1311.1" cy="153.3" rx="3.9" ry="4.3" fill="none" stroke="rgb(130,130,130)" stroke-width="1.6" filter="url(#b1)"/>
<circle cx="1310.0" cy="153.0" r="1.1" fill="rgb(165,165,165)" opacity="1.0" filter="url(#b06)"/>
<ellipse cx="1289.7" cy="158.2" rx="6" ry="7" fill="rgb(118,118,118)" opacity="0.38" filter="url(#b2)"/>
<ellipse cx="1290.5" cy="159.0" rx="3.8" ry="4.8" fill="rgb(30,30,30)" opacity="0.55" filter="url(#b1)"/>
<ellipse cx="1289.7" cy="158.2" rx="2.25" ry="3.0" fill="rgb(117,117,117)" opacity="0.95" filter="url(#b1)"/>
<ellipse cx="1289.7" cy="158.2" rx="2.3" ry="3.1" fill="none" stroke="rgb(190,190,190)" stroke-width="1.6" filter="url(#b1)"/>
<circle cx="1290.2" cy="158.1" r="1.1" fill="rgb(225,225,225)" opacity="1.0" filter="url(#b06)"/>
<ellipse cx="1276.6" cy="168.1" rx="9" ry="8.5" fill="rgb(118,118,118)" opacity="0.38" filter="url(#b2)"/>
<ellipse cx="1277.3999999999999" cy="168.9" rx="6.8" ry="6.3" fill="rgb(30,30,30)" opacity="0.55" filter="url(#b1)"/>
<ellipse cx="1276.6" cy="168.1" rx="4.5" ry="4.125" fill="rgb(142,142,142)" opacity="0.95" filter="url(#b1)"/>
<ellipse cx="1276.6" cy="168.1" rx="4.7" ry="4.3" fill="none" stroke="rgb(230,230,230)" stroke-width="1.6" filter="url(#b1)"/>
<circle cx="1277.1" cy="167.3" r="1.1" fill="rgb(255,255,255)" opacity="1.0" filter="url(#b06)"/>
<ellipse cx="1234.8" cy="165.8" rx="7" ry="7.5" fill="rgb(118,118,118)" opacity="0.38" filter="url(#b2)"/>
<ellipse cx="1235.6" cy="166.60000000000002" rx="4.8" ry="5.3" fill="rgb(30,30,30)" opacity="0.55" filter="url(#b1)"/>
<ellipse cx="1234.8" cy="165.8" rx="3.0" ry="3.375" fill="rgb(130,130,130)" opacity="0.95" filter="url(#b1)"/>
<ellipse cx="1234.8" cy="165.8" rx="3.1" ry="3.5" fill="none" stroke="rgb(210,210,210)" stroke-width="1.6" filter="url(#b1)"/>
<circle cx="1234.2" cy="164.9" r="1.1" fill="rgb(245,245,245)" opacity="1.0" filter="url(#b06)"/>
<ellipse cx="1179.5" cy="168" rx="6.5" ry="6.5" fill="rgb(118,118,118)" opacity="0.38" filter="url(#b2)"/>
<ellipse cx="1180.3" cy="168.8" rx="4.3" ry="4.3" fill="rgb(30,30,30)" opacity="0.55" filter="url(#b1)"/>
<ellipse cx="1179.5" cy="168" rx="2.625" ry="2.625" fill="rgb(133,133,133)" opacity="0.95" filter="url(#b1)"/>
<ellipse cx="1179.5" cy="168" rx="2.7" ry="2.7" fill="none" stroke="rgb(215,215,215)" stroke-width="1.6" filter="url(#b1)"/>
<circle cx="1179.5" cy="169.0" r="1.1" fill="rgb(250,250,250)" opacity="1.0" filter="url(#b06)"/>
<ellipse cx="1185.5" cy="169.5" rx="7" ry="7" fill="rgb(118,118,118)" opacity="0.38" filter="url(#b2)"/>
<ellipse cx="1186.3" cy="170.3" rx="4.8" ry="4.8" fill="rgb(30,30,30)" opacity="0.55" filter="url(#b1)"/>
<ellipse cx="1185.5" cy="169.5" rx="3.0" ry="3.0" fill="rgb(133,133,133)" opacity="0.95" filter="url(#b1)"/>
<ellipse cx="1185.5" cy="169.5" rx="3.1" ry="3.1" fill="none" stroke="rgb(215,215,215)" stroke-width="1.6" filter="url(#b1)"/>
<circle cx="1185.7" cy="170.2" r="1.1" fill="rgb(250,250,250)" opacity="1.0" filter="url(#b06)"/>
<ellipse cx="1226" cy="189.5" rx="7.5" ry="8" fill="rgb(118,118,118)" opacity="0.38" filter="url(#b2)"/>
<ellipse cx="1226.8" cy="190.3" rx="5.3" ry="5.8" fill="rgb(30,30,30)" opacity="0.55" filter="url(#b1)"/>
<ellipse cx="1226" cy="189.5" rx="3.375" ry="3.75" fill="rgb(133,133,133)" opacity="0.95" filter="url(#b1)"/>
<ellipse cx="1226" cy="189.5" rx="3.5" ry="3.9" fill="none" stroke="rgb(215,215,215)" stroke-width="1.6" filter="url(#b1)"/>
<circle cx="1225.7" cy="190.1" r="1.1" fill="rgb(250,250,250)" opacity="1.0" filter="url(#b06)"/>
<ellipse cx="1233.5" cy="186.5" rx="7.5" ry="8" fill="rgb(118,118,118)" opacity="0.38" filter="url(#b2)"/>
<ellipse cx="1234.3" cy="187.3" rx="5.3" ry="5.8" fill="rgb(30,30,30)" opacity="0.55" filter="url(#b1)"/>
<ellipse cx="1233.5" cy="186.5" rx="3.375" ry="3.75" fill="rgb(93,93,93)" opacity="0.95" filter="url(#b1)"/>
<ellipse cx="1233.5" cy="186.5" rx="3.5" ry="3.9" fill="none" stroke="rgb(150,150,150)" stroke-width="1.6" filter="url(#b1)"/>
<circle cx="1232.5" cy="186.0" r="1.1" fill="rgb(185,185,185)" opacity="1.0" filter="url(#b06)"/>
<ellipse cx="1177.2" cy="192.8" rx="7.5" ry="8" fill="rgb(118,118,118)" opacity="0.38" filter="url(#b2)"/>
<ellipse cx="1178.0" cy="193.60000000000002" rx="5.3" ry="5.8" fill="rgb(30,30,30)" opacity="0.55" filter="url(#b1)"/>
<ellipse cx="1177.2" cy="192.8" rx="3.375" ry="3.75" fill="rgb(105,105,105)" opacity="0.95" filter="url(#b1)"/>
<ellipse cx="1177.2" cy="192.8" rx="3.5" ry="3.9" fill="none" stroke="rgb(170,170,170)" stroke-width="1.6" filter="url(#b1)"/>
<circle cx="1177.6" cy="193.3" r="1.1" fill="rgb(205,205,205)" opacity="1.0" filter="url(#b06)"/>
<ellipse cx="1261.1" cy="217.4" rx="9" ry="8.5" fill="rgb(118,118,118)" opacity="0.38" filter="url(#b2)"/>
<ellipse cx="1261.8999999999999" cy="218.20000000000002" rx="6.8" ry="6.3" fill="rgb(30,30,30)" opacity="0.55" filter="url(#b1)"/>
<ellipse cx="1261.1" cy="217.4" rx="4.5" ry="4.125" fill="rgb(142,142,142)" opacity="0.95" filter="url(#b1)"/>
<ellipse cx="1261.1" cy="217.4" rx="4.7" ry="4.3" fill="none" stroke="rgb(230,230,230)" stroke-width="1.6" filter="url(#b1)"/>
<circle cx="1260.9" cy="216.4" r="1.1" fill="rgb(255,255,255)" opacity="1.0" filter="url(#b06)"/>
<ellipse cx="1314.4" cy="181.2" rx="6.5" ry="8.5" fill="rgb(118,118,118)" opacity="0.38" filter="url(#b2)"/>
<ellipse cx="1315.2" cy="182.0" rx="4.3" ry="6.3" fill="rgb(30,30,30)" opacity="0.55" filter="url(#b1)"/>
<ellipse cx="1314.4" cy="181.2" rx="2.625" ry="4.125" fill="rgb(139,139,139)" opacity="0.95" filter="url(#b1)"/>
<ellipse cx="1314.4" cy="181.2" rx="2.7" ry="4.3" fill="none" stroke="rgb(225,225,225)" stroke-width="1.6" filter="url(#b1)"/>
<circle cx="1313.8" cy="180.5" r="1.1" fill="rgb(255,255,255)" opacity="1.0" filter="url(#b06)"/>
<ellipse cx="1301.2" cy="190.1" rx="7.5" ry="8" fill="rgb(118,118,118)" opacity="0.38" filter="url(#b2)"/>
<ellipse cx="1302.0" cy="190.9" rx="5.3" ry="5.8" fill="rgb(30,30,30)" opacity="0.55" filter="url(#b1)"/>
<ellipse cx="1301.2" cy="190.1" rx="3.375" ry="3.75" fill="rgb(93,93,93)" opacity="0.95" filter="url(#b1)"/>
<ellipse cx="1301.2" cy="190.1" rx="3.5" ry="3.9" fill="none" stroke="rgb(150,150,150)" stroke-width="1.6" filter="url(#b1)"/>
<circle cx="1300.7" cy="190.8" r="1.1" fill="rgb(185,185,185)" opacity="1.0" filter="url(#b06)"/>
<ellipse cx="1366.5" cy="200.5" rx="7" ry="7.5" fill="rgb(118,118,118)" opacity="0.38" filter="url(#b2)"/>
<ellipse cx="1367.3" cy="201.3" rx="4.8" ry="5.3" fill="rgb(30,30,30)" opacity="0.55" filter="url(#b1)"/>
<ellipse cx="1366.5" cy="200.5" rx="3.0" ry="3.375" fill="rgb(124,124,124)" opacity="0.95" filter="url(#b1)"/>
<ellipse cx="1366.5" cy="200.5" rx="3.1" ry="3.5" fill="none" stroke="rgb(200,200,200)" stroke-width="1.6" filter="url(#b1)"/>
<circle cx="1365.8" cy="201.4" r="1.1" fill="rgb(235,235,235)" opacity="1.0" filter="url(#b06)"/>
<ellipse cx="1371" cy="206" rx="6.5" ry="7" fill="rgb(118,118,118)" opacity="0.38" filter="url(#b2)"/>
<ellipse cx="1371.8" cy="206.8" rx="4.3" ry="4.8" fill="rgb(30,30,30)" opacity="0.55" filter="url(#b1)"/>
<ellipse cx="1371" cy="206" rx="2.625" ry="3.0" fill="rgb(117,117,117)" opacity="0.95" filter="url(#b1)"/>
<ellipse cx="1371" cy="206" rx="2.7" ry="3.1" fill="none" stroke="rgb(190,190,190)" stroke-width="1.6" filter="url(#b1)"/>
<circle cx="1371.9" cy="204.9" r="1.1" fill="rgb(225,225,225)" opacity="1.0" filter="url(#b06)"/>
<ellipse cx="1400.5" cy="107.8" rx="6.5" ry="6.5" fill="rgb(118,118,118)" opacity="0.38" filter="url(#b2)"/>
<ellipse cx="1401.3" cy="108.6" rx="4.3" ry="4.3" fill="rgb(30,30,30)" opacity="0.55" filter="url(#b1)"/>
<ellipse cx="1400.5" cy="107.8" rx="2.625" ry="2.625" fill="rgb(93,93,93)" opacity="0.95" filter="url(#b1)"/>
<ellipse cx="1400.5" cy="107.8" rx="2.7" ry="2.7" fill="none" stroke="rgb(150,150,150)" stroke-width="1.6" filter="url(#b1)"/>
<circle cx="1400.2" cy="107.8" r="1.1" fill="rgb(185,185,185)" opacity="1.0" filter="url(#b06)"/>
<ellipse cx="1406.5" cy="106.8" rx="7" ry="7" fill="rgb(118,118,118)" opacity="0.38" filter="url(#b2)"/>
<ellipse cx="1407.3" cy="107.6" rx="4.8" ry="4.8" fill="rgb(30,30,30)" opacity="0.55" filter="url(#b1)"/>
<ellipse cx="1406.5" cy="106.8" rx="3.0" ry="3.0" fill="rgb(127,127,127)" opacity="0.95" filter="url(#b1)"/>
<ellipse cx="1406.5" cy="106.8" rx="3.1" ry="3.1" fill="none" stroke="rgb(205,205,205)" stroke-width="1.6" filter="url(#b1)"/>
<circle cx="1405.4" cy="106.6" r="1.1" fill="rgb(240,240,240)" opacity="1.0" filter="url(#b06)"/>
<ellipse cx="1431.2" cy="104.9" rx="7.5" ry="7.5" fill="rgb(118,118,118)" opacity="0.38" filter="url(#b2)"/>
<ellipse cx="1432.0" cy="105.7" rx="5.3" ry="5.3" fill="rgb(30,30,30)" opacity="0.55" filter="url(#b1)"/>
<ellipse cx="1431.2" cy="104.9" rx="3.375" ry="3.375" fill="rgb(124,124,124)" opacity="0.95" filter="url(#b1)"/>
<ellipse cx="1431.2" cy="104.9" rx="3.5" ry="3.5" fill="none" stroke="rgb(200,200,200)" stroke-width="1.6" filter="url(#b1)"/>
<circle cx="1432.2" cy="104.0" r="1.1" fill="rgb(235,235,235)" opacity="1.0" filter="url(#b06)"/>
<ellipse cx="1421.3" cy="51.3" rx="7.5" ry="8" fill="rgb(118,118,118)" opacity="0.38" filter="url(#b2)"/>
<ellipse cx="1422.1" cy="52.099999999999994" rx="5.3" ry="5.8" fill="rgb(30,30,30)" opacity="0.55" filter="url(#b1)"/>
<ellipse cx="1421.3" cy="51.3" rx="3.375" ry="3.75" fill="rgb(80,80,80)" opacity="0.95" filter="url(#b1)"/>
<ellipse cx="1421.3" cy="51.3" rx="3.5" ry="3.9" fill="none" stroke="rgb(130,130,130)" stroke-width="1.6" filter="url(#b1)"/>
<circle cx="1421.5" cy="50.4" r="1.1" fill="rgb(165,165,165)" opacity="1.0" filter="url(#b06)"/>
<ellipse cx="1429.6" cy="39.7" rx="6.5" ry="6.5" fill="rgb(118,118,118)" opacity="0.38" filter="url(#b2)"/>
<ellipse cx="1430.3999999999999" cy="40.5" rx="4.3" ry="4.3" fill="rgb(30,30,30)" opacity="0.55" filter="url(#b1)"/>
<ellipse cx="1429.6" cy="39.7" rx="2.625" ry="2.625" fill="rgb(117,117,117)" opacity="0.95" filter="url(#b1)"/>
<ellipse cx="1429.6" cy="39.7" rx="2.7" ry="2.7" fill="none" stroke="rgb(190,190,190)" stroke-width="1.6" filter="url(#b1)"/>
<circle cx="1429.8" cy="40.6" r="1.1" fill="rgb(225,225,225)" opacity="1.0" filter="url(#b06)"/>
<ellipse cx="1357.2" cy="98" rx="7" ry="7" fill="rgb(118,118,118)" opacity="0.38" filter="url(#b2)"/>
<ellipse cx="1358.0" cy="98.8" rx="4.8" ry="4.8" fill="rgb(30,30,30)" opacity="0.55" filter="url(#b1)"/>
<ellipse cx="1357.2" cy="98" rx="3.0" ry="3.0" fill="rgb(68,68,68)" opacity="0.95" filter="url(#b1)"/>
<ellipse cx="1357.2" cy="98" rx="3.1" ry="3.1" fill="none" stroke="rgb(110,110,110)" stroke-width="1.6" filter="url(#b1)"/>
<circle cx="1356.5" cy="96.8" r="1.1" fill="rgb(145,145,145)" opacity="1.0" filter="url(#b06)"/>
<ellipse cx="1382.8" cy="233.9" rx="8" ry="8" fill="rgb(118,118,118)" opacity="0.38" filter="url(#b2)"/>
<ellipse cx="1383.6" cy="234.70000000000002" rx="5.8" ry="5.8" fill="rgb(30,30,30)" opacity="0.55" filter="url(#b1)"/>
<ellipse cx="1382.8" cy="233.9" rx="3.75" ry="3.75" fill="rgb(77,77,77)" opacity="0.95" filter="url(#b1)"/>
<ellipse cx="1382.8" cy="233.9" rx="3.9" ry="3.9" fill="none" stroke="rgb(125,125,125)" stroke-width="1.6" filter="url(#b1)"/>
<circle cx="1381.8" cy="234.0" r="1.1" fill="rgb(160,160,160)" opacity="1.0" filter="url(#b06)"/>
<ellipse cx="1355.5" cy="235.5" rx="7" ry="7" fill="rgb(118,118,118)" opacity="0.38" filter="url(#b2)"/>
<ellipse cx="1356.3" cy="236.3" rx="4.8" ry="4.8" fill="rgb(30,30,30)" opacity="0.55" filter="url(#b1)"/>
<ellipse cx="1355.5" cy="235.5" rx="3.0" ry="3.0" fill="rgb(74,74,74)" opacity="0.95" filter="url(#b1)"/>
<ellipse cx="1355.5" cy="235.5" rx="3.1" ry="3.1" fill="none" stroke="rgb(120,120,120)" stroke-width="1.6" filter="url(#b1)"/>
<circle cx="1354.3" cy="234.5" r="1.1" fill="rgb(155,155,155)" opacity="1.0" filter="url(#b06)"/>
<ellipse cx="1423.6" cy="247.7" rx="8" ry="8" fill="rgb(118,118,118)" opacity="0.38" filter="url(#b2)"/>
<ellipse cx="1424.3999999999999" cy="248.5" rx="5.8" ry="5.8" fill="rgb(30,30,30)" opacity="0.55" filter="url(#b1)"/>
<ellipse cx="1423.6" cy="247.7" rx="3.75" ry="3.75" fill="rgb(80,80,80)" opacity="0.95" filter="url(#b1)"/>
<ellipse cx="1423.6" cy="247.7" rx="3.9" ry="3.9" fill="none" stroke="rgb(130,130,130)" stroke-width="1.6" filter="url(#b1)"/>
<circle cx="1423.6" cy="248.7" r="1.1" fill="rgb(165,165,165)" opacity="1.0" filter="url(#b06)"/>
<ellipse cx="1233.8" cy="236.5" rx="7" ry="7" fill="rgb(118,118,118)" opacity="0.38" filter="url(#b2)"/>
<ellipse cx="1234.6" cy="237.3" rx="4.8" ry="4.8" fill="rgb(30,30,30)" opacity="0.55" filter="url(#b1)"/>
<ellipse cx="1233.8" cy="236.5" rx="3.0" ry="3.0" fill="rgb(80,80,80)" opacity="0.95" filter="url(#b1)"/>
<ellipse cx="1233.8" cy="236.5" rx="3.1" ry="3.1" fill="none" stroke="rgb(130,130,130)" stroke-width="1.6" filter="url(#b1)"/>
<circle cx="1233.6" cy="236.3" r="1.1" fill="rgb(165,165,165)" opacity="1.0" filter="url(#b06)"/>
<ellipse cx="1192.6" cy="153.3" rx="5.5" ry="6.5" fill="rgb(118,118,118)" opacity="0.38" filter="url(#b2)"/>
<ellipse cx="1193.3999999999999" cy="154.10000000000002" rx="3.3" ry="4.3" fill="rgb(30,30,30)" opacity="0.55" filter="url(#b1)"/>
<ellipse cx="1192.6" cy="153.3" rx="1.875" ry="2.625" fill="rgb(111,111,111)" opacity="0.95" filter="url(#b1)"/>
<ellipse cx="1192.6" cy="153.3" rx="2.0" ry="2.7" fill="none" stroke="rgb(180,180,180)" stroke-width="1.6" filter="url(#b1)"/>
<circle cx="1192.9" cy="152.3" r="1.1" fill="rgb(215,215,215)" opacity="1.0" filter="url(#b06)"/>
<ellipse cx="1432.9" cy="205.9" rx="6" ry="6.5" fill="rgb(118,118,118)" opacity="0.38" filter="url(#b2)"/>
<ellipse cx="1433.7" cy="206.70000000000002" rx="3.8" ry="4.3" fill="rgb(30,30,30)" opacity="0.55" filter="url(#b1)"/>
<ellipse cx="1432.9" cy="205.9" rx="2.25" ry="2.625" fill="rgb(117,117,117)" opacity="0.95" filter="url(#b1)"/>
<ellipse cx="1432.9" cy="205.9" rx="2.3" ry="2.7" fill="none" stroke="rgb(190,190,190)" stroke-width="1.6" filter="url(#b1)"/>
<circle cx="1433.1" cy="205.1" r="1.1" fill="rgb(225,225,225)" opacity="1.0" filter="url(#b06)"/>
<ellipse cx="1311" cy="250" rx="7.5" ry="7.5" fill="rgb(118,118,118)" opacity="0.38" filter="url(#b2)"/>
<ellipse cx="1311.8" cy="250.8" rx="5.3" ry="5.3" fill="rgb(30,30,30)" opacity="0.55" filter="url(#b1)"/>
<ellipse cx="1311" cy="250" rx="3.375" ry="3.375" fill="rgb(80,80,80)" opacity="0.95" filter="url(#b1)"/>
<ellipse cx="1311" cy="250" rx="3.5" ry="3.5" fill="none" stroke="rgb(130,130,130)" stroke-width="1.6" filter="url(#b1)"/>
<circle cx="1311.3" cy="251.1" r="1.1" fill="rgb(165,165,165)" opacity="1.0" filter="url(#b06)"/>
<ellipse cx="1294.7" cy="253" rx="7" ry="7" fill="rgb(118,118,118)" opacity="0.38" filter="url(#b2)"/>
<ellipse cx="1295.5" cy="253.8" rx="4.8" ry="4.8" fill="rgb(30,30,30)" opacity="0.55" filter="url(#b1)"/>
<ellipse cx="1294.7" cy="253" rx="3.0" ry="3.0" fill="rgb(93,93,93)" opacity="0.95" filter="url(#b1)"/>
<ellipse cx="1294.7" cy="253" rx="3.1" ry="3.1" fill="none" stroke="rgb(150,150,150)" stroke-width="1.6" filter="url(#b1)"/>
<circle cx="1293.6" cy="253.1" r="1.1" fill="rgb(185,185,185)" opacity="1.0" filter="url(#b06)"/>
<ellipse cx="1263" cy="131" rx="6" ry="6" fill="rgb(118,118,118)" opacity="0.38" filter="url(#b2)"/>
<ellipse cx="1263.8" cy="131.8" rx="3.8" ry="3.8" fill="rgb(30,30,30)" opacity="0.55" filter="url(#b1)"/>
<ellipse cx="1263" cy="131" rx="2.25" ry="2.25" fill="rgb(55,55,55)" opacity="0.95" filter="url(#b1)"/>
<ellipse cx="1263" cy="131" rx="2.3" ry="2.3" fill="none" stroke="rgb(90,90,90)" stroke-width="1.6" filter="url(#b1)"/>
<circle cx="1263.3" cy="130.2" r="1.1" fill="rgb(125,125,125)" opacity="1.0" filter="url(#b06)"/>
<ellipse cx="1219" cy="173" rx="5.5" ry="5.5" fill="rgb(118,118,118)" opacity="0.38" filter="url(#b2)"/>
<ellipse cx="1219.8" cy="173.8" rx="3.3" ry="3.3" fill="rgb(30,30,30)" opacity="0.55" filter="url(#b1)"/>
<ellipse cx="1219" cy="173" rx="1.875" ry="1.875" fill="rgb(74,74,74)" opacity="0.95" filter="url(#b1)"/>
<ellipse cx="1219" cy="173" rx="2.0" ry="2.0" fill="none" stroke="rgb(120,120,120)" stroke-width="1.6" filter="url(#b1)"/>
<circle cx="1218.4" cy="174.2" r="1.1" fill="rgb(155,155,155)" opacity="1.0" filter="url(#b06)"/>
<ellipse cx="1330" cy="253" rx="7" ry="6" fill="rgb(118,118,118)" opacity="0.38" filter="url(#b2)"/>
<ellipse cx="1330.8" cy="253.8" rx="4.8" ry="3.8" fill="rgb(30,30,30)" opacity="0.55" filter="url(#b1)"/>
<ellipse cx="1330" cy="253" rx="3.0" ry="2.25" fill="rgb(86,86,86)" opacity="0.95" filter="url(#b1)"/>
<ellipse cx="1330" cy="253" rx="3.1" ry="2.3" fill="none" stroke="rgb(140,140,140)" stroke-width="1.6" filter="url(#b1)"/>
<circle cx="1331.2" cy="252.1" r="1.1" fill="rgb(175,175,175)" opacity="1.0" filter="url(#b06)"/>
<ellipse cx="1195" cy="36" rx="3" ry="3" fill="rgb(170,170,170)" opacity="0.8" filter="url(#b1)"/>
<ellipse cx="1200" cy="39" rx="3.5" ry="3.5" fill="rgb(170,170,170)" opacity="0.8" filter="url(#b1)"/>
<ellipse cx="1206" cy="35" rx="3" ry="3" fill="rgb(170,170,170)" opacity="0.8" filter="url(#b1)"/>
<ellipse cx="1211" cy="40" rx="2.5" ry="2.5" fill="rgb(170,170,170)" opacity="0.8" filter="url(#b1)"/>
<ellipse cx="1198" cy="45" rx="2" ry="2" fill="rgb(170,170,170)" opacity="0.8" filter="url(#b1)"/>
<circle cx="1353.5" cy="243.3" r="0.7" fill="rgb(170,170,170)" opacity="1.0" filter="url(#b06)"/>
<circle cx="1327.1" cy="45.4" r="0.8" fill="rgb(140,140,140)" opacity="1.0" filter="url(#b06)"/>
<circle cx="1398.9" cy="60.0" r="0.8" fill="rgb(235,235,235)" opacity="1.0" filter="url(#b06)"/>
<circle cx="1214.8" cy="79.3" r="0.6" fill="rgb(235,235,235)" opacity="1.0" filter="url(#b06)"/>
<circle cx="1379.8" cy="107.7" r="1.0" fill="rgb(140,140,140)" opacity="1.0" filter="url(#b06)"/>
<circle cx="1215.8" cy="132.8" r="0.8" fill="rgb(140,140,140)" opacity="1.0" filter="url(#b06)"/>
<circle cx="1242.0" cy="98.1" r="0.6" fill="rgb(140,140,140)" opacity="1.0" filter="url(#b06)"/>
<circle cx="1262.8" cy="158.2" r="1.0" fill="rgb(235,235,235)" opacity="1.0" filter="url(#b06)"/>
<circle cx="1252.9" cy="205.6" r="0.6" fill="rgb(235,235,235)" opacity="1.0" filter="url(#b06)"/>
<circle cx="1337.4" cy="56.9" r="1.0" fill="rgb(200,200,200)" opacity="1.0" filter="url(#b06)"/>
<circle cx="1423.6" cy="158.2" r="0.7" fill="rgb(200,200,200)" opacity="1.0" filter="url(#b06)"/>
<circle cx="1203.9" cy="219.8" r="0.8" fill="rgb(140,140,140)" opacity="1.0" filter="url(#b06)"/>
<circle cx="1170.1" cy="248.6" r="0.7" fill="rgb(200,200,200)" opacity="1.0" filter="url(#b06)"/>
<circle cx="1421.0" cy="251.0" r="0.7" fill="rgb(140,140,140)" opacity="1.0" filter="url(#b06)"/>
<circle cx="1169.7" cy="134.2" r="1.0" fill="rgb(200,200,200)" opacity="1.0" filter="url(#b06)"/>
<circle cx="1327.2" cy="246.7" r="0.8" fill="rgb(200,200,200)" opacity="1.0" filter="url(#b06)"/>
<circle cx="1195.4" cy="158.5" r="0.7" fill="rgb(140,140,140)" opacity="1.0" filter="url(#b06)"/>
<circle cx="1365.3" cy="100.5" r="0.6" fill="rgb(140,140,140)" opacity="1.0" filter="url(#b06)"/>
<circle cx="1273.6" cy="67.1" r="1.0" fill="rgb(170,170,170)" opacity="1.0" filter="url(#b06)"/>
<circle cx="1341.7" cy="95.8" r="1.0" fill="rgb(200,200,200)" opacity="1.0" filter="url(#b06)"/>
<circle cx="1183.8" cy="46.6" r="0.7" fill="rgb(170,170,170)" opacity="1.0" filter="url(#b06)"/>
<circle cx="1379.6" cy="214.8" r="0.7" fill="rgb(170,170,170)" opacity="1.0" filter="url(#b06)"/>
<circle cx="1396.6" cy="80.2" r="1.0" fill="rgb(235,235,235)" opacity="1.0" filter="url(#b06)"/>
<circle cx="1321.6" cy="154.9" r="0.6" fill="rgb(170,170,170)" opacity="1.0" filter="url(#b06)"/>
<circle cx="1309.6" cy="165.3" r="0.8" fill="rgb(140,140,140)" opacity="1.0" filter="url(#b06)"/>
<circle cx="1419.6" cy="42.3" r="1.0" fill="rgb(200,200,200)" opacity="1.0" filter="url(#b06)"/>
<circle cx="1302.6" cy="153.1" r="0.6" fill="rgb(200,200,200)" opacity="1.0" filter="url(#b06)"/>
<circle cx="1174.0" cy="84.9" r="0.7" fill="rgb(140,140,140)" opacity="1.0" filter="url(#b06)"/>
<circle cx="1183.9" cy="143.2" r="0.6" fill="rgb(235,235,235)" opacity="1.0" filter="url(#b06)"/>
<circle cx="1404.9" cy="194.6" r="0.6" fill="rgb(200,200,200)" opacity="1.0" filter="url(#b06)"/>
<circle cx="1224.2" cy="136.0" r="0.8" fill="rgb(235,235,235)" opacity="1.0" filter="url(#b06)"/>
<circle cx="1401.2" cy="43.8" r="0.6" fill="rgb(140,140,140)" opacity="1.0" filter="url(#b06)"/>
<circle cx="1345.9" cy="124.7" r="0.6" fill="rgb(140,140,140)" opacity="1.0" filter="url(#b06)"/>
<circle cx="1208.9" cy="168.6" r="0.7" fill="rgb(140,140,140)" opacity="1.0" filter="url(#b06)"/>
<circle cx="1174.2" cy="113.3" r="1.0" fill="rgb(235,235,235)" opacity="1.0" filter="url(#b06)"/>
<circle cx="1163.3" cy="205.1" r="0.8" fill="rgb(140,140,140)" opacity="1.0" filter="url(#b06)"/>
<circle cx="1375.2" cy="37.9" r="1.0" fill="rgb(170,170,170)" opacity="1.0" filter="url(#b06)"/>
<circle cx="1429.4" cy="251.0" r="0.7" fill="rgb(140,140,140)" opacity="1.0" filter="url(#b06)"/>
<circle cx="1406.0" cy="182.3" r="1.0" fill="rgb(170,170,170)" opacity="1.0" filter="url(#b06)"/>
<circle cx="1209.8" cy="84.2" r="0.6" fill="rgb(140,140,140)" opacity="1.0" filter="url(#b06)"/>
<circle cx="1189.6" cy="240.5" r="0.6" fill="rgb(200,200,200)" opacity="1.0" filter="url(#b06)"/>
<circle cx="1185.0" cy="41.1" r="0.7" fill="rgb(200,200,200)" opacity="1.0" filter="url(#b06)"/>
<circle cx="1400.8" cy="53.7" r="0.6" fill="rgb(200,200,200)" opacity="1.0" filter="url(#b06)"/>
<circle cx="1369.7" cy="184.8" r="0.6" fill="rgb(235,235,235)" opacity="1.0" filter="url(#b06)"/>
<circle cx="1226.9" cy="169.1" r="0.6" fill="rgb(235,235,235)" opacity="1.0" filter="url(#b06)"/>
<circle cx="1172.2" cy="90.8" r="0.8" fill="rgb(170,170,170)" opacity="1.0" filter="url(#b06)"/>
<circle cx="1334.9" cy="184.5" r="0.7" fill="rgb(200,200,200)" opacity="1.0" filter="url(#b06)"/>
<circle cx="1166.9" cy="76.7" r="0.8" fill="rgb(235,235,235)" opacity="1.0" filter="url(#b06)"/>
<circle cx="1416.6" cy="227.1" r="0.8" fill="rgb(140,140,140)" opacity="1.0" filter="url(#b06)"/>
<circle cx="1164.3" cy="131.8" r="1.0" fill="rgb(200,200,200)" opacity="1.0" filter="url(#b06)"/>
<circle cx="1293.7" cy="111.6" r="1.0" fill="rgb(235,235,235)" opacity="1.0" filter="url(#b06)"/>
<circle cx="1214.5" cy="96.3" r="1.0" fill="rgb(235,235,235)" opacity="1.0" filter="url(#b06)"/>
<circle cx="1326.9" cy="159.9" r="1.0" fill="rgb(235,235,235)" opacity="1.0" filter="url(#b06)"/>
<circle cx="1208.2" cy="123.7" r="0.8" fill="rgb(140,140,140)" opacity="1.0" filter="url(#b06)"/>
<circle cx="1203.8" cy="154.6" r="0.7" fill="rgb(170,170,170)" opacity="1.0" filter="url(#b06)"/>
<circle cx="1355.2" cy="179.6" r="0.7" fill="rgb(140,140,140)" opacity="1.0" filter="url(#b06)"/>
<circle cx="1250.6" cy="133.5" r="1.0" fill="rgb(170,170,170)" opacity="1.0" filter="url(#b06)"/>
<circle cx="1351.2" cy="204.2" r="0.6" fill="rgb(140,140,140)" opacity="1.0" filter="url(#b06)"/>
<circle cx="1343.5" cy="128.0" r="0.7" fill="rgb(200,200,200)" opacity="1.0" filter="url(#b06)"/>
<circle cx="1369.9" cy="210.2" r="0.6" fill="rgb(235,235,235)" opacity="1.0" filter="url(#b06)"/>
<circle cx="1356.7" cy="98.1" r="0.7" fill="rgb(140,140,140)" opacity="1.0" filter="url(#b06)"/>
<circle cx="1218.6" cy="250.3" r="0.8" fill="rgb(140,140,140)" opacity="1.0" filter="url(#b06)"/>
<circle cx="1181.6" cy="107.6" r="0.6" fill="rgb(235,235,235)" opacity="1.0" filter="url(#b06)"/>
<circle cx="1337.8" cy="122.2" r="0.7" fill="rgb(200,200,200)" opacity="1.0" filter="url(#b06)"/>
<circle cx="1256.5" cy="94.8" r="0.8" fill="rgb(235,235,235)" opacity="1.0" filter="url(#b06)"/>
<circle cx="1314.8" cy="210.3" r="0.7" fill="rgb(170,170,170)" opacity="1.0" filter="url(#b06)"/>
<circle cx="1158.6" cy="185.2" r="0.6" fill="rgb(200,200,200)" opacity="1.0" filter="url(#b06)"/>
<circle cx="1290.1" cy="224.7" r="1.0" fill="rgb(140,140,140)" opacity="1.0" filter="url(#b06)"/>
<circle cx="1232.4" cy="67.3" r="1.0" fill="rgb(235,235,235)" opacity="1.0" filter="url(#b06)"/>
<circle cx="1346.3" cy="86.6" r="0.8" fill="rgb(170,170,170)" opacity="1.0" filter="url(#b06)"/>
<circle cx="1365.5" cy="111.8" r="0.6" fill="rgb(22,22,22)" opacity="0.8" filter="url(#b06)"/>
<circle cx="1324.3" cy="154.9" r="0.6" fill="rgb(22,22,22)" opacity="0.8" filter="url(#b06)"/>
<circle cx="1416.1" cy="41.7" r="0.6" fill="rgb(22,22,22)" opacity="0.8" filter="url(#b06)"/>
<circle cx="1208.2" cy="205.7" r="0.6" fill="rgb(22,22,22)" opacity="0.8" filter="url(#b06)"/>
<circle cx="1343.3" cy="57.1" r="0.6" fill="rgb(22,22,22)" opacity="0.8" filter="url(#b06)"/>
<circle cx="1193.7" cy="82.0" r="0.6" fill="rgb(22,22,22)" opacity="0.8" filter="url(#b06)"/>
<circle cx="1308.1" cy="232.7" r="0.6" fill="rgb(22,22,22)" opacity="0.8" filter="url(#b06)"/>
<circle cx="1216.6" cy="80.2" r="0.6" fill="rgb(22,22,22)" opacity="0.8" filter="url(#b06)"/>
<circle cx="1348.0" cy="128.2" r="0.6" fill="rgb(22,22,22)" opacity="0.8" filter="url(#b06)"/>
<circle cx="1393.1" cy="253.8" r="0.6" fill="rgb(22,22,22)" opacity="0.8" filter="url(#b06)"/>
<circle cx="1418.1" cy="192.0" r="0.6" fill="rgb(22,22,22)" opacity="0.8" filter="url(#b06)"/>
<circle cx="1294.9" cy="49.3" r="0.6" fill="rgb(22,22,22)" opacity="0.8" filter="url(#b06)"/>
<circle cx="1382.3" cy="122.9" r="0.6" fill="rgb(22,22,22)" opacity="0.8" filter="url(#b06)"/>
<circle cx="1285.8" cy="173.8" r="0.6" fill="rgb(22,22,22)" opacity="0.8" filter="url(#b06)"/>
<circle cx="1425.9" cy="157.2" r="0.6" fill="rgb(22,22,22)" opacity="0.8" filter="url(#b06)"/>
<circle cx="1413.0" cy="246.2" r="0.6" fill="rgb(22,22,22)" opacity="0.8" filter="url(#b06)"/>
<circle cx="1179.8" cy="113.3" r="0.6" fill="rgb(22,22,22)" opacity="0.8" filter="url(#b06)"/>
<circle cx="1404.8" cy="203.3" r="0.6" fill="rgb(22,22,22)" opacity="0.8" filter="url(#b06)"/>
<circle cx="1427.4" cy="76.6" r="0.6" fill="rgb(22,22,22)" opacity="0.8" filter="url(#b06)"/>
<circle cx="1304.7" cy="239.4" r="0.6" fill="rgb(22,22,22)" opacity="0.8" filter="url(#b06)"/>
<circle cx="1307.1" cy="182.1" r="0.6" fill="rgb(22,22,22)" opacity="0.8" filter="url(#b06)"/>
<circle cx="1429.0" cy="73.8" r="0.6" fill="rgb(22,22,22)" opacity="0.8" filter="url(#b06)"/>
<circle cx="1171.8" cy="222.1" r="0.6" fill="rgb(22,22,22)" opacity="0.8" filter="url(#b06)"/>
<circle cx="1318.7" cy="79.7" r="0.6" fill="rgb(22,22,22)" opacity="0.8" filter="url(#b06)"/>
<circle cx="1389.0" cy="97.8" r="0.6" fill="rgb(22,22,22)" opacity="0.8" filter="url(#b06)"/>
<circle cx="1192.3" cy="100.9" r="0.6" fill="rgb(22,22,22)" opacity="0.8" filter="url(#b06)"/>
<circle cx="1166.1" cy="124.5" r="0.6" fill="rgb(22,22,22)" opacity="0.8" filter="url(#b06)"/>
<circle cx="1374.3" cy="135.0" r="0.6" fill="rgb(22,22,22)" opacity="0.8" filter="url(#b06)"/>
<circle cx="1426.1" cy="45.1" r="0.6" fill="rgb(22,22,22)" opacity="0.8" filter="url(#b06)"/>
<circle cx="1204.5" cy="67.4" r="0.6" fill="rgb(22,22,22)" opacity="0.8" filter="url(#b06)"/>
<circle cx="1316.8" cy="79.5" r="0.6" fill="rgb(22,22,22)" opacity="0.8" filter="url(#b06)"/>
<circle cx="1342.8" cy="150.1" r="0.6" fill="rgb(22,22,22)" opacity="0.8" filter="url(#b06)"/>
<circle cx="1318.6" cy="220.2" r="0.6" fill="rgb(22,22,22)" opacity="0.8" filter="url(#b06)"/>
<circle cx="1377.2" cy="237.1" r="0.6" fill="rgb(22,22,22)" opacity="0.8" filter="url(#b06)"/>
<circle cx="1198.6" cy="118.7" r="0.6" fill="rgb(22,22,22)" opacity="0.8" filter="url(#b06)"/>
<circle cx="1424.9" cy="122.5" r="0.6" fill="rgb(22,22,22)" opacity="0.8" filter="url(#b06)"/>
<circle cx="1236.0" cy="141.0" r="0.6" fill="rgb(22,22,22)" opacity="0.8" filter="url(#b06)"/>
<circle cx="1206.6" cy="220.9" r="0.6" fill="rgb(22,22,22)" opacity="0.8" filter="url(#b06)"/>
<circle cx="1334.1" cy="56.6" r="0.6" fill="rgb(22,22,22)" opacity="0.8" filter="url(#b06)"/>
<circle cx="1426.0" cy="149.4" r="0.6" fill="rgb(22,22,22)" opacity="0.8" filter="url(#b06)"/>
<circle cx="1227.0" cy="169.6" r="0.6" fill="rgb(22,22,22)" opacity="0.8" filter="url(#b06)"/>
<circle cx="1421.9" cy="111.6" r="0.6" fill="rgb(22,22,22)" opacity="0.8" filter="url(#b06)"/>
<circle cx="1159.9" cy="79.1" r="0.6" fill="rgb(22,22,22)" opacity="0.8" filter="url(#b06)"/>
<circle cx="1172.4" cy="151.2" r="0.6" fill="rgb(22,22,22)" opacity="0.8" filter="url(#b06)"/>
<circle cx="1243.2" cy="221.6" r="0.6" fill="rgb(22,22,22)" opacity="0.8" filter="url(#b06)"/>
<circle cx="1213.7" cy="39.3" r="0.6" fill="rgb(22,22,22)" opacity="0.8" filter="url(#b06)"/>
<circle cx="1286.1" cy="62.9" r="0.6" fill="rgb(22,22,22)" opacity="0.8" filter="url(#b06)"/>
<circle cx="1242.9" cy="85.2" r="0.6" fill="rgb(22,22,22)" opacity="0.8" filter="url(#b06)"/>
<circle cx="1205.9" cy="174.7" r="0.6" fill="rgb(22,22,22)" opacity="0.8" filter="url(#b06)"/>
<circle cx="1418.1" cy="116.7" r="0.6" fill="rgb(22,22,22)" opacity="0.8" filter="url(#b06)"/>
<circle cx="1334.8" cy="106.4" r="0.6" fill="rgb(22,22,22)" opacity="0.8" filter="url(#b06)"/>
<circle cx="1412.2" cy="156.5" r="0.6" fill="rgb(22,22,22)" opacity="0.8" filter="url(#b06)"/>
<circle cx="1164.2" cy="197.7" r="0.6" fill="rgb(22,22,22)" opacity="0.8" filter="url(#b06)"/>
<circle cx="1214.8" cy="46.2" r="0.6" fill="rgb(22,22,22)" opacity="0.8" filter="url(#b06)"/>
<circle cx="1161.4" cy="219.2" r="0.6" fill="rgb(22,22,22)" opacity="0.8" filter="url(#b06)"/>
<circle cx="1354.8" cy="114.1" r="0.6" fill="rgb(22,22,22)" opacity="0.8" filter="url(#b06)"/>
<circle cx="1312.1" cy="189.8" r="0.6" fill="rgb(22,22,22)" opacity="0.8" filter="url(#b06)"/>
<circle cx="1177.1" cy="189.9" r="0.6" fill="rgb(22,22,22)" opacity="0.8" filter="url(#b06)"/>
<circle cx="1354.5" cy="241.4" r="0.6" fill="rgb(22,22,22)" opacity="0.8" filter="url(#b06)"/>
<circle cx="1172.6" cy="160.8" r="0.6" fill="rgb(22,22,22)" opacity="0.8" filter="url(#b06)"/>
<circle cx="1298.3" cy="220.5" r="0.6" fill="rgb(22,22,22)" opacity="0.8" filter="url(#b06)"/>
<circle cx="1257.9" cy="180.4" r="0.6" fill="rgb(22,22,22)" opacity="0.8" filter="url(#b06)"/>
<circle cx="1407.2" cy="112.0" r="0.6" fill="rgb(22,22,22)" opacity="0.8" filter="url(#b06)"/>
<circle cx="1300.3" cy="230.8" r="0.6" fill="rgb(22,22,22)" opacity="0.8" filter="url(#b06)"/>
<circle cx="1165.6" cy="248.3" r="0.6" fill="rgb(22,22,22)" opacity="0.8" filter="url(#b06)"/>
<circle cx="1243.6" cy="135.7" r="0.6" fill="rgb(22,22,22)" opacity="0.8" filter="url(#b06)"/>
<circle cx="1236.5" cy="209.9" r="0.6" fill="rgb(22,22,22)" opacity="0.8" filter="url(#b06)"/>
<circle cx="1305.1" cy="199.0" r="0.6" fill="rgb(22,22,22)" opacity="0.8" filter="url(#b06)"/>
<circle cx="1185.1" cy="227.9" r="0.6" fill="rgb(22,22,22)" opacity="0.8" filter="url(#b06)"/>
<circle cx="1385.8" cy="184.3" r="0.6" fill="rgb(22,22,22)" opacity="0.8" filter="url(#b06)"/>
<circle cx="1218.4" cy="92.6" r="0.6" fill="rgb(22,22,22)" opacity="0.8" filter="url(#b06)"/>
<circle cx="1282.6" cy="50.2" r="0.6" fill="rgb(22,22,22)" opacity="0.8" filter="url(#b06)"/>
<circle cx="1423.0" cy="124.9" r="0.6" fill="rgb(22,22,22)" opacity="0.8" filter="url(#b06)"/>
<circle cx="1422.9" cy="75.9" r="0.6" fill="rgb(22,22,22)" opacity="0.8" filter="url(#b06)"/>
<circle cx="1337.5" cy="210.1" r="0.6" fill="rgb(22,22,22)" opacity="0.8" filter="url(#b06)"/>
<circle cx="1336.5" cy="128.2" r="0.6" fill="rgb(22,22,22)" opacity="0.8" filter="url(#b06)"/>
<circle cx="1161.4" cy="130.9" r="0.6" fill="rgb(22,22,22)" opacity="0.8" filter="url(#b06)"/>
<circle cx="1265.2" cy="242.0" r="0.6" fill="rgb(22,22,22)" opacity="0.8" filter="url(#b06)"/>
<circle cx="1428.6" cy="244.6" r="0.6" fill="rgb(22,22,22)" opacity="0.8" filter="url(#b06)"/>
<circle cx="1430.4" cy="72.8" r="0.6" fill="rgb(22,22,22)" opacity="0.8" filter="url(#b06)"/>
<circle cx="1164.3" cy="99.7" r="0.6" fill="rgb(22,22,22)" opacity="0.8" filter="url(#b06)"/>
<circle cx="1158.2" cy="61.9" r="0.6" fill="rgb(22,22,22)" opacity="0.8" filter="url(#b06)"/>
<circle cx="1317.6" cy="79.8" r="0.6" fill="rgb(22,22,22)" opacity="0.8" filter="url(#b06)"/>
<circle cx="1327.0" cy="119.0" r="0.6" fill="rgb(22,22,22)" opacity="0.8" filter="url(#b06)"/>
<circle cx="1232.7" cy="247.3" r="0.6" fill="rgb(22,22,22)" opacity="0.8" filter="url(#b06)"/>
<circle cx="1208.2" cy="228.4" r="0.6" fill="rgb(22,22,22)" opacity="0.8" filter="url(#b06)"/>
<circle cx="1303.5" cy="180.5" r="0.6" fill="rgb(22,22,22)" opacity="0.8" filter="url(#b06)"/>
<circle cx="1196.3" cy="198.4" r="0.6" fill="rgb(22,22,22)" opacity="0.8" filter="url(#b06)"/>
<circle cx="1405.1" cy="79.2" r="0.6" fill="rgb(22,22,22)" opacity="0.8" filter="url(#b06)"/>
<circle cx="1288.4" cy="178.4" r="0.6" fill="rgb(22,22,22)" opacity="0.8" filter="url(#b06)"/>
</g>
<text transform="translate(1166.25 58.75)" font-size="20" font-weight="bold" fill="#f5f016" font-family='"Liberation Sans", Arial, sans-serif' >HM 500 µg/ml</text>
<rect x="1154" y="245.4" width="67.8" height="10.5" fill="#000"/>
<text transform="translate(1162.8 252.9) scale(0.9109 1)" font-size="13" font-weight="bold" fill="#fff" font-family='"Liberation Sans", Arial, sans-serif' >180 µm</text>
</svg>
</body></html>
